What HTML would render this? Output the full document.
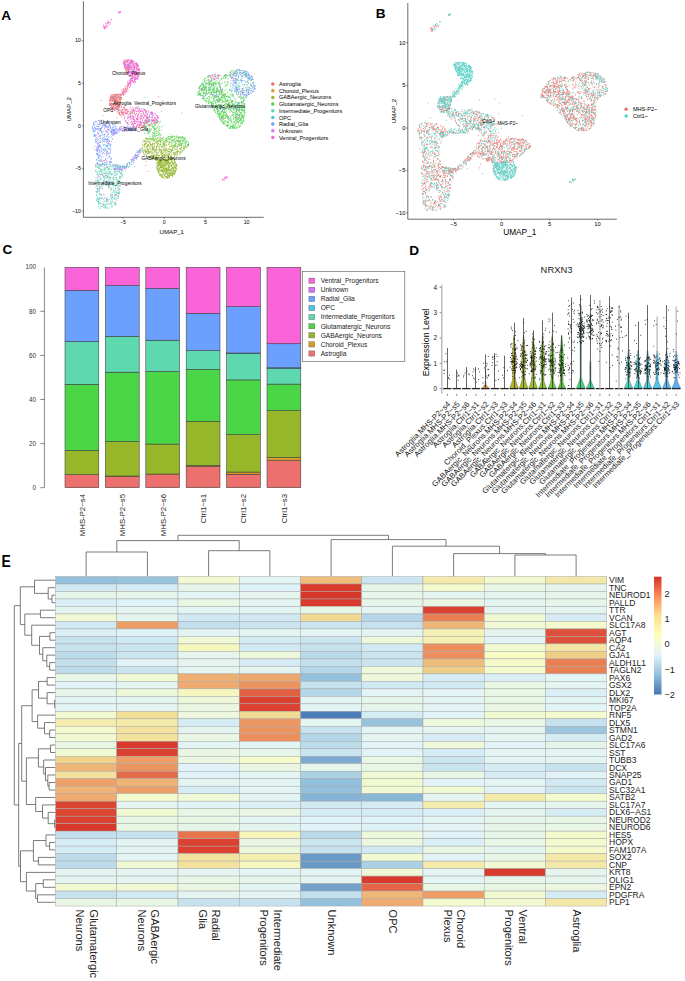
<!DOCTYPE html>
<html><head><meta charset="utf-8"><title>Figure</title>
<style>
html,body{margin:0;padding:0;background:#fff;}
body{width:685px;height:981px;overflow:hidden;position:relative;}
svg{position:absolute;left:0;top:0;display:block;}
text{font-family:"Liberation Sans",sans-serif;}
</style></head><body>
<svg width="685" height="981" viewBox="0 0 685 981">
<text x="1.2" y="20.2" font-family="Liberation Sans, sans-serif" font-weight="bold" font-size="13.6" fill="#000">A</text>
<path d="M83.4 1.2V217.3H263.7" stroke="#3a3a3a" stroke-width="0.75" fill="none"/>
<path d="M81.9 211.0H83.4M81.9 168.4H83.4M81.9 125.7H83.4M81.9 83.1H83.4M81.9 40.5H83.4M123.0 217.3V218.8M164.2 217.3V218.8M205.4 217.3V218.8M246.6 217.3V218.8" stroke="#3a3a3a" stroke-width="0.6"/>
<g font-family="Liberation Sans, sans-serif" font-size="5.3" fill="#000">
<text x="81" y="212.9" text-anchor="end">−10</text>
<text x="81" y="170.3" text-anchor="end">−5</text>
<text x="81" y="127.6" text-anchor="end">0</text>
<text x="81" y="85.0" text-anchor="end">5</text>
<text x="81" y="42.4" text-anchor="end">10</text>
<text x="123.0" y="223.8" text-anchor="middle">−5</text>
<text x="164.2" y="223.8" text-anchor="middle">0</text>
<text x="205.4" y="223.8" text-anchor="middle">5</text>
<text x="246.6" y="223.8" text-anchor="middle">10</text>
</g>
<text x="171.8" y="233.7" font-family="Liberation Sans, sans-serif" font-size="6.1" fill="#000" text-anchor="middle">UMAP_1</text>
<text transform="translate(71.1 109.2) rotate(-90)" font-family="Liberation Sans, sans-serif" font-size="6.1" fill="#000" text-anchor="middle">UMAP_2</text>
<g font-family="Liberation Sans, sans-serif" font-size="5.65" fill="#000">
<circle cx="272.8" cy="84.0" r="1.75" fill="#EC706E"/>
<text x="278.9" y="86.0">Astroglia</text>
<circle cx="272.8" cy="90.7" r="1.75" fill="#D89A28"/>
<text x="278.9" y="92.7">Choroid_Plexus</text>
<circle cx="272.8" cy="97.4" r="1.75" fill="#98B62A"/>
<text x="278.9" y="99.4">GABAergic_Neurons</text>
<circle cx="272.8" cy="104.1" r="1.75" fill="#4CD64C"/>
<text x="278.9" y="106.1">Glutamatergic_Neurons</text>
<circle cx="272.8" cy="110.8" r="1.75" fill="#5ED8AE"/>
<text x="278.9" y="112.8">Intermediate_Progenitors</text>
<circle cx="272.8" cy="117.5" r="1.75" fill="#4EC6E2"/>
<text x="278.9" y="119.5">OPC</text>
<circle cx="272.8" cy="124.1" r="1.75" fill="#6CA0FF"/>
<text x="278.9" y="126.1">Radial_Glia</text>
<circle cx="272.8" cy="130.8" r="1.75" fill="#DA72F8"/>
<text x="278.9" y="132.8">Unknown</text>
<circle cx="272.8" cy="137.5" r="1.75" fill="#F964D9"/>
<text x="278.9" y="139.5">Ventral_Progenitors</text>
</g>
<path d="M227.2 122.7h0M238.1 104.6h0M233.0 72.3h0M242.9 114.8h0M211.1 80.5h0M225.7 112.5h0M221.7 106.5h0M218.7 104.7h0M233.1 96.5h0M222.5 97.4h0M211.1 92.1h0M232.1 105.8h0M233.0 95.9h0M204.2 93.1h0M226.6 125.9h0M233.9 116.4h0M222.3 93.9h0M220.0 115.0h0M245.0 100.1h0M199.9 94.9h0M240.3 125.8h0M149.6 124.9h0M163.2 142.5h0M235.5 102.6h0M160.7 161.4h0M233.8 126.9h0M208.1 77.8h0M149.6 130.0h0M229.7 120.2h0M223.3 92.6h0M232.7 112.3h0M208.9 92.7h0M198.4 93.2h0M219.1 116.7h0M242.4 117.0h0M224.6 118.7h0M181.5 138.3h0M219.3 100.3h0M200.7 93.4h0M157.4 127.4h0M181.4 145.1h0M217.1 91.3h0M151.2 139.2h0M203.7 98.7h0M205.6 88.0h0M230.5 72.9h0M215.2 83.5h0M209.1 92.1h0M237.4 104.3h0M156.1 123.4h0M176.6 140.1h0M159.0 135.9h0M223.8 123.0h0M242.6 73.2h0M186.5 142.4h0M215.3 92.2h0M209.1 75.6h0M225.4 115.7h0M166.8 168.7h0M214.2 101.1h0M203.9 86.4h0M225.1 101.9h0M162.0 139.0h0M218.3 92.1h0M239.6 112.1h0M213.2 84.8h0M218.5 101.7h0M213.4 84.9h0M228.2 117.8h0M157.9 126.8h0M157.0 133.3h0M176.2 143.6h0M212.3 85.5h0M227.6 125.6h0M227.2 91.2h0M221.5 93.9h0M241.7 101.4h0M238.6 102.8h0M225.7 105.1h0M241.7 112.4h0M215.1 83.8h0M224.1 97.6h0M174.5 152.2h0M228.6 100.6h0M233.2 101.5h0M229.7 97.2h0M239.5 105.5h0M229.7 89.9h0M209.0 89.4h0M225.2 86.7h0M216.3 104.8h0M226.3 116.9h0M172.4 137.2h0M226.9 100.3h0M202.3 87.3h0M225.2 74.5h0M226.6 96.6h0M220.0 117.1h0M237.4 109.3h0M209.8 89.8h0M221.9 118.4h0M223.4 78.3h0M232.5 100.4h0M238.8 111.9h0M236.0 117.1h0M233.3 114.5h0M146.6 110.9h0M239.0 107.0h0M219.5 113.3h0M233.9 70.6h0M151.6 139.4h0M225.4 101.5h0M185.2 138.5h0M219.3 91.0h0M234.7 114.8h0M238.0 125.6h0M165.3 139.2h0M234.2 118.0h0M231.4 120.7h0M235.6 117.6h0M221.5 97.5h0M229.5 75.3h0M229.4 108.0h0M253.4 82.3h0M208.5 92.5h0M205.8 94.2h0M225.0 96.2h0M206.2 93.3h0M232.5 115.4h0M157.2 131.5h0M147.6 117.6h0M214.1 110.8h0M235.7 106.4h0M225.2 99.6h0M188.2 145.4h0M170.9 139.1h0M218.0 113.2h0M241.2 109.2h0M243.5 110.1h0M235.2 115.5h0M241.6 107.6h0M206.1 83.8h0M233.8 118.2h0M236.3 121.9h0M180.0 140.5h0M205.8 101.1h0M230.0 109.0h0M210.7 105.4h0M221.0 113.5h0M204.6 80.8h0M234.5 126.0h0M240.1 105.3h0M242.6 116.7h0M237.2 122.4h0M238.1 121.8h0M152.8 126.1h0M218.9 115.7h0M225.7 104.6h0M207.5 93.6h0M144.4 126.4h0M241.6 118.3h0M158.7 140.6h0M224.7 101.3h0M225.1 115.4h0M233.6 118.2h0M233.2 75.0h0M206.6 90.2h0M144.1 124.0h0M241.0 123.4h0M212.1 91.9h0M220.6 84.0h0M169.7 136.4h0M233.4 108.1h0M211.8 103.7h0M221.2 120.4h0M146.9 121.8h0M236.3 92.1h0M227.8 118.9h0M252.3 79.4h0M127.5 123.0h0M216.2 107.6h0M230.6 110.0h0M227.3 122.6h0M241.3 119.2h0M220.8 75.9h0M244.6 92.2h0M216.9 102.7h0M208.4 96.6h0M159.4 130.7h0M165.7 139.7h0M199.8 94.6h0M241.2 110.6h0M176.5 136.0h0M238.5 94.0h0M157.9 121.6h0M182.6 140.7h0M171.2 140.9h0M246.7 97.6h0M235.3 105.9h0M201.7 84.2h0M227.2 115.9h0M219.3 106.4h0M219.4 92.4h0M211.6 93.8h0M238.8 86.1h0M230.4 109.1h0M221.3 116.8h0M210.6 86.7h0M176.2 164.5h0M239.2 126.2h0M158.4 143.6h0M234.1 73.3h0M224.2 94.4h0M173.5 163.5h0M148.3 133.0h0M154.9 121.1h0M156.8 138.9h0M148.9 132.0h0M212.0 81.7h0M243.4 118.4h0M218.4 82.9h0M154.8 126.0h0M240.9 120.0h0M200.6 85.7h0M147.5 120.0h0M149.1 133.7h0M226.6 84.8h0M221.2 93.4h0M169.6 139.3h0M180.9 137.5h0M217.9 116.2h0M217.2 108.9h0M155.0 134.4h0M213.6 85.4h0M227.8 84.8h0M234.1 124.9h0M242.1 106.8h0M202.8 81.9h0M212.5 105.9h0M219.6 115.9h0M227.5 126.1h0M154.4 135.4h0M208.6 101.3h0M234.6 108.8h0M232.8 95.7h0M213.4 88.8h0M224.9 94.9h0M204.6 89.8h0M161.5 169.2h0M178.1 140.2h0M206.6 102.2h0M181.0 140.9h0M223.2 101.6h0M173.2 172.3h0M239.0 115.7h0M221.0 91.9h0M235.6 113.1h0M226.5 101.9h0M242.4 121.1h0M173.8 140.2h0M208.0 90.4h0M154.5 136.6h0M203.2 92.8h0M146.0 120.9h0M186.1 141.9h0M237.8 114.8h0M219.0 91.6h0M243.2 116.6h0M236.6 110.3h0M206.2 101.3h0M221.7 116.2h0M236.5 70.2h0M174.5 161.6h0M231.2 73.5h0M219.5 114.8h0M224.9 109.1h0M156.6 152.1h0M205.5 100.1h0M239.5 120.3h0M236.4 113.3h0M156.8 141.1h0M243.4 120.6h0M229.7 128.0h0M146.1 123.5h0M217.1 87.3h0M152.9 127.1h0M216.8 91.6h0M157.9 161.4h0M166.4 141.9h0M230.6 120.3h0M237.0 108.4h0M143.9 126.3h0M231.1 110.3h0M161.6 130.5h0M143.5 112.3h0M182.7 150.6h0M243.3 110.3h0M231.1 119.1h0M216.6 109.0h0M246.6 90.9h0M223.6 105.7h0M202.2 84.2h0M152.4 132.6h0M220.4 106.1h0M224.6 98.9h0M206.7 92.7h0M236.8 78.5h0M204.1 82.0h0M213.3 110.1h0M213.3 83.6h0M204.4 87.6h0M158.7 141.0h0M168.0 138.4h0M145.9 121.8h0M148.2 131.5h0M200.7 85.9h0M216.7 97.0h0M210.0 89.2h0M217.9 113.0h0M213.2 83.2h0M178.6 144.8h0M204.6 79.0h0M235.8 71.9h0M241.9 102.2h0M211.3 92.2h0M216.8 90.7h0M166.0 139.5h0M152.5 126.7h0M219.3 114.8h0M179.8 138.2h0M211.8 104.1h0M158.7 134.4h0M235.8 78.5h0M214.3 86.8h0M222.4 121.8h0M240.2 113.0h0M153.6 120.9h0M167.2 141.3h0M235.6 119.0h0M223.0 121.6h0M223.3 124.0h0M152.3 145.9h0M209.3 76.0h0M223.6 101.9h0M222.9 120.0h0M210.9 89.3h0M104.9 27.1h0M224.3 124.0h0M144.4 125.8h0M240.9 98.1h0M164.6 175.5h0M155.2 124.9h0M227.5 106.7h0M218.5 113.9h0M226.0 74.8h0M242.6 116.7h0M219.4 100.2h0M224.8 105.7h0M229.9 100.4h0M153.9 127.9h0M180.4 145.7h0M180.9 152.2h0M236.0 124.4h0M230.8 118.0h0M223.1 97.8h0M172.6 136.2h0M209.5 81.2h0M217.9 100.0h0M219.1 101.8h0M243.5 88.3h0M155.1 124.3h0M231.0 76.7h0M178.1 146.3h0M236.3 118.2h0M211.3 97.7h0M225.3 108.1h0M181.1 145.5h0M163.7 163.6h0M215.0 81.8h0M237.3 69.7h0M148.8 152.5h0M151.0 130.0h0M239.1 117.3h0M219.6 85.1h0M214.3 97.7h0M204.2 79.4h0M218.9 94.5h0M182.0 136.6h0M103.0 115.6h0M187.8 146.6h0M249.5 87.8h0M187.9 141.5h0M211.8 79.8h0M172.5 147.8h0M230.3 90.6h0M239.5 115.8h0M146.8 126.8h0M181.0 144.3h0M219.4 115.4h0M224.8 121.1h0M181.2 144.9h0M215.9 95.8h0M228.3 116.2h0M219.7 82.4h0M159.5 126.8h0M225.0 107.7h0M230.9 118.8h0M243.1 118.1h0M244.0 71.9h0M171.4 140.8h0M227.5 117.1h0M205.4 87.9h0M179.4 144.0h0M216.6 106.5h0M178.1 137.4h0M232.6 127.4h0M223.7 122.1h0M224.3 112.1h0M220.3 105.2h0M130.3 116.4h0M219.6 106.8h0M173.6 145.8h0M216.9 100.4h0M225.1 109.5h0M224.5 104.7h0M206.5 90.1h0M233.9 127.7h0M217.0 108.4h0M203.5 87.3h0M207.9 97.8h0M228.4 119.4h0M153.1 135.3h0M198.8 94.6h0M170.9 151.9h0M220.1 112.2h0M156.4 121.9h0M223.1 119.3h0M231.8 111.0h0M210.7 82.5h0M231.1 91.5h0M227.8 124.8h0M214.7 79.3h0M202.9 96.7h0M214.3 76.5h0M230.0 128.1h0M178.1 137.8h0M208.1 86.0h0M207.1 100.5h0M175.0 146.8h0M227.6 81.4h0M234.1 121.7h0M203.3 84.7h0M221.1 90.8h0M218.8 98.6h0M199.5 93.5h0M164.3 165.9h0M235.3 109.1h0M221.5 111.8h0M182.7 141.9h0M238.5 102.4h0M201.1 86.2h0M203.2 92.6h0M217.7 100.2h0M153.2 133.5h0M202.1 85.1h0M154.9 125.2h0M235.0 103.9h0M185.2 147.5h0M199.4 91.6h0M239.5 117.1h0M225.9 100.0h0M230.4 126.1h0M222.4 109.1h0M237.2 103.2h0M227.5 99.1h0M229.1 72.3h0M147.6 118.4h0M175.0 164.5h0M164.8 143.9h0M248.2 80.2h0M217.8 82.0h0M236.4 116.4h0M229.4 118.7h0M175.9 139.2h0M232.9 94.4h0M160.5 140.4h0M209.1 81.5h0M220.7 113.3h0M159.8 133.4h0M225.5 75.8h0M223.8 117.9h0M216.1 80.6h0M237.3 117.6h0M242.0 114.9h0M234.6 122.1h0M235.8 108.6h0M216.4 88.4h0M203.2 86.8h0M169.5 158.3h0M232.4 104.6h0M228.5 103.5h0M199.3 93.4h0M210.3 102.3h0M217.6 90.3h0M219.4 105.0h0M181.3 145.5h0M153.2 138.9h0M175.5 143.6h0M241.2 115.9h0M144.8 128.7h0M220.9 92.5h0M185.2 144.8h0M228.8 105.0h0M204.9 90.4h0M221.2 79.5h0M228.7 121.1h0M208.9 81.0h0M158.4 131.7h0M241.3 120.9h0M208.7 103.2h0M147.2 123.3h0M240.3 123.0h0M233.0 105.0h0M228.6 103.3h0M228.7 109.4h0M145.9 122.5h0M153.1 126.1h0M219.6 113.5h0M218.9 84.2h0M228.8 108.7h0M222.1 111.4h0M231.8 111.4h0M235.7 116.8h0M214.3 98.6h0M241.7 109.8h0M218.8 101.1h0M221.1 107.9h0M220.6 119.3h0M212.5 89.5h0M225.6 85.6h0M220.8 105.7h0M218.4 97.0h0M237.4 94.5h0M210.4 89.1h0M167.4 173.6h0M222.7 94.4h0M213.3 99.3h0M222.9 107.6h0M222.9 77.0h0M224.1 115.6h0M156.6 135.5h0M199.9 86.3h0M152.1 140.4h0M226.2 83.0h0M242.0 101.6h0M155.7 138.1h0M155.3 122.6h0M214.9 74.6h0M226.8 115.7h0M238.1 106.9h0M221.4 96.9h0M153.2 137.1h0M180.7 148.4h0M232.6 101.2h0M171.0 149.7h0M213.6 103.1h0M183.3 141.3h0M204.3 89.5h0M214.3 109.8h0M238.6 103.0h0M223.7 112.1h0M233.6 126.9h0M242.6 107.2h0M221.1 117.5h0M236.9 127.4h0M234.0 127.5h0M227.3 125.8h0M216.7 88.4h0M225.7 103.4h0M221.3 116.3h0M234.0 71.2h0M214.8 87.9h0M151.2 123.0h0M224.9 109.1h0M217.0 109.0h0M225.7 98.3h0M182.2 137.0h0M157.9 135.7h0M242.3 109.8h0M216.6 92.3h0M152.0 117.0h0M213.1 92.1h0M153.5 138.2h0M198.6 94.7h0M208.5 79.7h0M217.5 108.9h0M164.7 143.3h0M217.7 111.0h0M145.5 127.1h0M204.1 90.6h0M144.6 124.4h0M212.7 95.1h0M220.1 105.8h0M220.5 87.7h0M178.4 141.3h0M240.3 120.8h0M167.5 141.7h0M229.9 106.3h0M188.6 144.0h0M205.7 86.8h0M149.6 115.5h0M226.4 106.4h0M227.7 75.6h0M225.9 117.0h0M204.9 80.5h0M238.9 118.6h0M225.8 77.4h0M214.9 109.5h0M223.1 107.8h0M145.1 125.7h0M239.1 108.0h0M155.7 122.5h0M218.3 90.1h0M236.3 82.8h0M142.9 114.7h0M233.6 124.5h0M217.7 106.5h0M149.3 124.8h0M176.4 137.1h0M231.8 91.1h0M224.8 75.3h0M145.7 138.5h0M183.4 138.2h0M147.1 131.3h0M234.0 127.4h0M238.8 75.2h0M219.4 114.1h0M237.7 104.6h0M222.5 117.4h0M222.1 83.4h0M202.9 84.4h0M198.6 95.0h0M205.3 81.7h0M234.6 128.3h0M240.2 72.8h0M220.7 89.4h0M225.6 78.5h0M208.8 103.6h0M220.5 87.1h0M155.9 131.3h0M161.3 126.9h0M240.4 118.3h0M229.3 103.3h0M145.0 122.9h0M167.6 137.7h0M165.1 146.0h0M229.0 105.0h0M181.2 143.0h0M148.8 120.5h0M243.1 115.5h0M237.7 113.6h0M241.5 102.2h0M206.2 89.2h0M215.7 74.1h0M214.8 91.9h0M231.2 95.8h0M213.0 92.5h0M239.2 120.7h0M243.5 97.6h0M215.7 84.7h0M202.5 98.0h0M180.5 141.6h0M216.1 86.1h0M230.4 102.7h0M244.1 97.8h0M198.0 95.4h0M225.9 115.2h0M220.0 98.3h0M177.9 140.4h0M244.0 111.7h0M212.0 75.4h0M177.3 140.2h0M212.7 104.1h0M146.4 137.6h0M200.7 95.1h0M245.9 96.6h0M144.4 123.2h0M239.7 108.3h0M214.4 92.6h0M230.1 110.7h0M232.5 128.5h0M224.4 107.0h0M225.6 78.0h0M242.9 97.9h0M183.9 139.7h0M239.7 109.0h0M221.8 78.5h0M210.2 100.9h0M162.0 138.2h0M223.7 95.1h0M174.5 136.6h0M155.4 129.1h0M245.0 76.6h0M241.3 98.1h0M222.6 101.8h0M225.3 78.2h0M158.0 152.7h0M200.1 94.4h0M216.8 113.8h0M228.0 97.0h0M237.4 107.4h0M199.4 90.2h0M219.8 119.0h0M201.7 95.2h0M222.8 111.8h0M217.3 88.6h0M233.2 125.7h0M241.4 107.1h0M222.0 102.8h0M177.5 145.6h0M177.5 137.3h0M202.8 84.1h0M143.9 123.1h0M163.2 137.2h0M164.8 166.6h0M206.6 87.7h0M230.2 75.8h0M203.4 88.6h0M232.2 105.0h0M211.4 84.4h0M239.5 114.5h0M215.8 95.7h0M169.6 143.3h0M148.2 125.5h0M145.4 127.5h0M168.6 151.6h0M219.5 117.2h0M213.6 106.7h0M220.5 99.6h0M244.8 114.3h0M224.9 112.5h0M241.9 104.1h0M230.7 128.4h0M222.0 89.0h0M180.7 139.0h0M212.9 90.7h0M216.8 91.0h0M249.5 78.5h0M155.3 133.4h0M233.7 119.0h0M225.0 95.7h0M211.5 83.9h0M148.3 132.9h0M221.9 107.2h0M169.1 151.7h0M237.8 115.4h0M145.8 127.3h0M151.3 120.0h0M239.3 111.2h0M243.5 74.2h0M222.9 108.3h0M225.8 125.3h0M180.1 137.1h0M226.4 107.5h0M243.1 103.1h0M154.3 128.0h0M215.5 112.5h0M239.2 127.5h0M223.3 116.6h0M156.5 147.6h0M163.7 145.7h0M149.8 136.3h0M211.8 84.3h0M222.4 98.1h0M225.5 120.8h0M224.5 112.3h0M211.9 79.5h0M241.8 120.4h0M203.6 86.9h0M238.2 104.3h0M246.2 76.9h0M234.9 104.4h0M239.9 106.9h0M199.1 87.9h0M209.4 98.0h0M244.5 71.9h0M214.5 84.0h0M206.1 98.3h0M222.1 115.7h0M185.2 142.3h0M224.2 96.5h0M238.3 117.5h0M229.7 106.6h0M236.3 106.9h0M214.3 108.4h0M218.0 101.9h0M218.2 97.3h0M236.4 113.0h0M240.7 125.6h0M168.2 137.6h0M134.8 123.1h0M145.8 120.7h0M244.9 106.5h0M224.9 111.4h0M147.1 128.4h0M164.3 155.1h0M231.8 102.3h0M225.8 94.7h0M185.9 146.9h0M222.9 94.8h0M155.0 129.5h0M241.7 102.3h0M207.4 76.5h0M223.6 115.7h0M242.5 123.6h0M219.7 85.9h0M221.1 112.2h0M187.4 145.7h0M243.7 99.5h0M209.8 84.3h0M239.6 109.9h0M208.3 101.9h0M230.3 126.9h0M212.8 84.9h0M183.1 137.9h0M227.0 85.7h0M240.1 118.6h0M235.2 123.3h0M225.9 106.5h0M222.0 118.0h0M210.8 90.2h0M228.6 82.4h0M156.8 130.6h0M152.9 134.4h0M168.1 153.4h0M161.1 138.5h0M208.8 79.8h0M235.9 116.5h0M237.7 114.0h0M199.9 86.6h0M224.5 94.0h0M223.8 76.3h0M219.5 91.5h0M226.3 96.5h0M223.0 90.5h0M227.9 122.8h0M160.5 142.1h0M229.1 102.7h0M215.5 105.6h0M232.7 103.4h0M235.4 98.9h0M178.1 137.7h0M232.3 125.1h0M203.6 85.2h0M151.2 157.1h0M179.6 145.6h0M246.6 91.6h0M242.6 105.3h0M219.5 86.2h0M236.9 110.5h0M109.4 181.9h0M228.4 125.2h0M230.9 77.6h0M206.0 94.8h0M227.9 125.5h0M226.7 77.2h0M179.1 144.5h0M227.4 117.7h0M167.9 161.0h0M232.8 108.4h0M226.8 104.2h0M243.4 120.9h0M209.2 83.1h0M241.4 115.9h0M209.2 99.5h0M210.5 94.4h0M230.1 74.5h0M168.9 175.8h0M214.2 82.8h0M217.9 99.9h0M175.5 141.5h0M167.8 139.9h0M204.7 87.1h0M207.1 80.3h0M236.7 114.6h0M251.9 88.7h0M243.3 71.2h0M149.0 131.6h0M218.9 75.5h0M185.6 145.3h0M221.8 89.8h0M228.5 127.9h0M213.2 82.4h0M226.4 110.9h0M179.8 154.2h0M237.0 127.2h0M211.1 79.2h0M172.7 136.6h0M222.1 121.6h0M198.1 92.0h0M235.9 75.7h0M205.1 85.7h0M246.2 71.3h0M235.9 128.3h0M202.1 89.0h0M220.9 119.9h0M235.1 111.8h0M213.6 96.8h0M223.2 95.5h0M227.9 79.2h0M240.7 119.4h0M182.4 137.4h0M203.8 82.8h0M232.1 105.8h0M218.7 97.2h0M214.7 89.9h0M204.4 89.2h0M153.5 138.4h0M174.3 139.1h0M162.2 160.4h0M227.3 96.1h0M240.9 113.5h0M175.4 145.1h0M217.8 89.9h0M150.8 138.2h0M183.0 137.1h0M237.2 107.6h0M216.9 89.8h0M241.9 110.0h0M203.3 98.5h0M234.5 73.7h0M210.3 83.1h0M232.5 94.4h0M154.8 128.6h0M230.1 95.0h0M236.0 78.7h0M160.7 135.1h0M238.6 92.6h0M175.2 137.9h0M146.7 151.3h0M238.7 124.1h0M185.3 143.5h0M211.5 93.0h0M236.4 102.1h0M205.7 87.3h0M236.9 109.1h0M149.5 139.1h0M236.6 111.5h0M235.7 86.4h0M179.0 142.4h0M209.3 102.7h0M175.0 142.4h0M232.2 87.6h0M161.4 163.1h0M174.8 149.2h0M166.0 169.8h0M221.8 92.0h0M208.9 87.9h0M188.5 144.8h0M220.3 108.0h0M161.7 151.1h0M217.4 100.2h0M227.2 121.8h0M216.0 100.2h0M237.3 80.4h0M223.4 112.5h0M154.0 143.5h0M236.5 86.9h0M216.0 107.1h0M202.1 89.6h0M217.0 110.2h0M233.9 83.1h0M151.3 158.4h0M216.8 96.6h0M210.4 94.3h0M242.2 116.9h0M204.1 92.7h0M171.0 142.5h0M241.3 109.9h0M148.9 141.1h0M219.0 94.1h0M238.5 119.5h0M221.4 91.2h0M213.6 80.1h0M228.5 117.7h0M210.0 101.8h0M222.9 94.9h0M162.9 171.4h0M235.0 101.2h0M203.6 99.0h0M227.4 116.1h0M188.8 144.6h0M228.8 107.7h0M154.2 132.5h0M222.1 121.9h0M228.4 122.1h0M226.1 114.6h0M252.3 86.6h0M224.6 121.9h0M231.1 93.9h0M208.9 84.2h0M251.6 86.0h0M155.3 122.0h0M237.1 105.3h0M144.8 109.5h0M213.4 83.0h0M231.2 108.3h0M206.1 91.1h0M222.7 111.9h0M222.9 101.0h0M153.8 129.1h0M246.9 72.1h0M236.6 110.8h0M225.4 99.8h0M150.2 131.1h0M234.2 106.0h0M171.7 136.6h0M208.8 93.9h0M245.0 74.3h0M239.9 97.5h0M180.0 136.8h0M226.5 114.5h0M201.2 90.2h0M230.0 123.1h0M143.8 126.5h0M160.6 144.7h0M221.9 95.8h0M232.9 104.0h0M237.2 128.0h0M238.0 110.0h0M229.8 90.0h0M235.2 128.2h0M242.4 84.7h0M173.0 167.9h0M152.7 123.8h0M244.4 111.0h0M197.6 92.2h0M228.3 96.7h0M237.2 109.1h0M160.6 141.6h0M216.6 93.8h0M211.9 102.1h0M233.1 104.2h0M174.9 136.3h0M209.9 84.2h0M148.2 138.7h0M248.2 78.5h0M203.1 90.7h0M242.5 107.1h0M234.9 80.0h0M212.4 105.2h0M242.4 76.2h0M242.8 89.7h0M220.8 99.7h0M227.0 116.8h0M222.0 99.9h0M213.5 94.2h0M239.9 102.7h0M244.9 103.9h0M209.7 85.2h0M130.5 113.0h0M208.9 87.8h0M239.1 103.2h0M227.9 121.4h0M246.2 95.5h0M232.0 122.9h0M243.2 101.7h0M223.6 115.8h0M234.8 112.9h0M187.4 144.5h0M245.1 98.1h0M233.9 112.1h0M228.7 97.4h0M217.2 107.8h0M219.0 105.7h0M244.7 74.4h0M163.8 139.6h0M154.6 130.8h0M216.8 94.4h0M248.5 92.7h0M227.8 83.0h0M159.0 128.4h0M215.9 100.7h0M153.1 139.2h0M239.0 121.8h0M220.9 98.4h0M228.7 125.1h0M226.9 125.3h0M156.4 128.5h0M220.2 99.9h0M154.6 133.0h0M217.9 107.5h0M173.6 136.0h0M226.5 107.1h0M233.8 109.2h0M204.2 98.3h0M224.9 123.6h0M251.0 79.6h0M203.9 90.6h0M149.8 131.5h0M244.8 107.0h0M146.5 127.7h0M211.1 84.4h0M218.8 104.5h0M217.3 78.0h0M199.2 87.8h0M233.0 113.0h0M208.7 89.3h0M199.3 91.6h0M236.3 110.4h0M226.0 113.6h0M230.0 74.7h0M199.5 88.0h0M179.3 148.8h0M184.3 139.0h0M143.4 125.6h0M244.5 116.1h0M156.5 139.8h0M166.3 138.7h0M203.9 93.4h0M226.3 113.6h0M167.6 162.4h0M213.6 100.6h0M224.8 75.8h0M222.5 117.7h0M236.5 119.2h0M243.3 101.5h0M146.7 142.9h0M227.4 101.4h0M244.7 110.7h0M223.5 95.6h0M243.6 115.6h0M154.2 133.0h0M242.4 117.2h0M221.0 94.8h0M219.0 98.4h0M185.2 138.1h0M212.3 84.0h0M223.1 123.4h0M167.8 160.0h0M213.4 89.8h0M219.4 80.8h0M224.2 95.6h0M240.9 96.3h0M168.2 177.3h0M154.2 140.2h0M240.5 118.5h0M250.4 84.0h0M220.1 90.1h0M227.7 100.5h0M149.1 124.9h0M223.4 114.0h0M174.4 145.0h0M222.6 116.5h0M240.7 115.1h0M216.9 90.3h0M231.6 101.4h0M178.7 138.1h0M203.9 95.4h0M216.0 82.5h0M211.4 102.8h0M245.4 75.5h0M221.9 117.1h0M244.6 103.8h0M241.9 114.1h0M222.9 116.0h0M212.5 102.2h0M208.5 99.9h0M225.2 107.1h0M224.1 118.2h0M148.6 121.5h0M231.3 100.1h0M181.9 140.4h0M208.6 76.7h0M216.1 92.0h0M151.5 122.6h0M184.6 141.9h0M234.4 91.7h0M149.5 128.5h0M238.4 115.6h0M233.7 122.2h0M160.9 149.8h0M207.1 98.7h0M212.2 88.0h0M183.6 146.2h0M239.7 126.4h0M232.0 126.1h0M239.2 91.7h0M215.0 107.8h0M234.0 122.3h0M225.5 118.1h0M220.2 118.9h0M217.5 111.4h0M247.3 87.0h0M170.7 137.8h0M229.4 112.1h0M228.2 105.6h0M214.2 91.6h0M235.8 126.3h0M229.9 97.7h0M244.4 113.0h0M130.4 114.5h0M172.7 139.8h0M215.4 111.8h0M241.6 105.4h0M225.9 89.6h0M235.5 73.0h0M160.4 121.3h0M159.9 145.0h0M207.7 83.5h0M238.0 118.6h0M241.1 102.6h0M206.4 82.9h0M215.5 97.1h0M224.0 97.4h0M252.2 77.0h0M211.5 86.2h0M230.6 125.9h0M245.1 112.4h0M187.1 141.7h0M218.7 111.1h0M204.8 100.3h0M172.8 174.3h0M244.0 108.0h0M222.1 111.1h0M237.9 85.2h0M241.5 97.2h0M202.2 91.9h0M149.7 119.7h0M244.0 121.4h0M183.1 140.4h0M171.5 146.4h0M235.5 120.1h0M158.4 121.4h0M169.3 170.1h0M165.3 168.3h0M218.1 114.4h0M161.1 134.8h0M173.7 153.0h0M174.3 136.5h0M144.9 126.3h0M245.3 108.5h0M238.7 121.8h0M205.8 78.6h0M146.8 124.8h0M230.4 116.7h0M217.5 77.7h0M168.5 136.5h0M185.7 140.4h0M218.3 100.1h0M218.6 102.0h0M226.6 75.7h0M237.0 108.1h0M155.0 139.6h0M232.2 70.9h0M174.7 140.8h0M241.2 122.5h0M173.8 146.6h0M175.5 144.6h0M242.4 108.5h0M235.7 123.8h0M204.0 90.1h0M216.3 97.2h0M215.0 90.2h0M212.2 108.1h0M219.7 93.4h0M215.3 97.5h0M236.2 123.0h0M169.5 142.0h0M219.6 99.9h0M202.1 90.1h0M185.0 143.9h0M145.5 129.3h0M240.6 94.2h0M244.3 104.7h0M171.6 137.6h0M207.0 83.5h0M244.3 109.8h0M168.7 138.9h0M240.8 98.8h0M225.3 121.4h0M188.0 145.2h0M212.5 90.4h0M153.7 149.7h0M208.8 75.4h0M244.1 107.1h0M171.4 156.5h0M223.3 123.7h0M235.4 120.5h0M227.4 101.4h0M188.6 143.2h0M243.6 100.4h0M179.2 137.1h0M223.2 107.4h0M229.5 75.1h0M219.8 99.9h0M214.8 101.3h0M216.4 83.9h0M237.9 105.1h0M210.7 92.8h0M217.0 105.7h0M204.4 93.9h0M218.4 96.9h0M239.7 110.2h0M218.4 109.2h0M209.5 83.1h0M151.9 120.8h0M144.4 122.9h0M214.2 95.5h0M214.3 96.7h0M157.3 163.8h0M221.4 97.3h0M174.3 145.0h0M211.6 104.6h0M174.7 142.1h0M209.0 83.3h0M219.5 118.5h0M233.6 109.3h0M231.7 122.0h0M245.6 82.2h0M146.3 127.0h0M220.7 114.5h0M226.6 96.5h0M222.4 91.3h0M144.2 125.4h0M151.7 153.7h0M158.5 125.0h0M211.7 103.0h0M218.0 82.9h0M229.4 89.7h0M201.0 90.2h0M221.1 99.7h0M219.9 87.3h0M230.8 72.1h0M156.4 123.0h0M221.3 78.7h0M233.0 95.8h0M104.6 27.2h0M222.2 96.5h0M206.9 98.4h0M205.6 78.2h0M238.2 122.7h0M242.7 122.4h0M153.0 126.9h0M215.7 103.4h0M184.4 138.4h0M219.5 101.3h0M210.0 89.7h0M213.5 89.1h0M181.8 144.0h0M172.3 139.8h0M228.9 96.8h0M159.4 122.6h0M163.2 141.5h0M178.8 141.7h0M217.2 88.1h0M171.2 141.2h0M217.1 100.5h0M202.6 95.4h0M211.4 85.8h0M227.2 103.8h0M206.4 83.0h0M241.6 107.9h0M239.1 89.6h0M154.6 135.6h0M148.9 120.1h0M221.5 117.4h0M174.1 139.1h0M143.4 122.5h0M241.3 113.3h0M168.3 158.6h0M232.6 114.9h0M213.2 98.5h0M200.1 89.2h0M238.0 97.3h0M230.0 105.2h0M216.8 99.2h0M229.3 106.5h0M220.3 106.2h0M230.5 106.4h0M235.9 120.2h0M220.4 87.1h0M215.8 77.5h0M221.0 103.1h0M243.2 90.8h0M146.0 121.4h0M165.0 172.2h0M144.0 149.3h0M230.0 128.3h0M242.9 103.1h0M184.0 149.1h0M224.9 90.8h0M231.9 107.9h0M207.5 76.8h0M234.4 128.5h0M206.7 85.8h0M157.2 121.2h0M220.9 109.6h0M214.0 89.2h0M206.5 90.4h0M243.4 117.3h0M203.8 98.7h0M204.1 96.7h0M230.9 121.7h0M206.2 87.7h0M143.2 125.2h0M203.2 93.8h0M237.4 119.5h0M188.5 144.0h0M239.7 96.3h0M159.2 149.5h0M178.7 140.2h0M242.0 105.2h0M227.5 92.8h0M213.7 90.8h0M205.2 84.0h0M210.6 80.9h0M201.1 88.7h0M149.8 130.4h0M218.4 76.1h0M238.6 110.9h0M231.2 70.7h0M213.7 86.8h0M225.2 112.5h0M153.2 158.6h0M209.8 96.3h0M240.6 112.7h0M234.5 98.7h0M186.1 139.9h0M219.7 101.6h0M214.7 107.9h0M223.5 113.5h0M201.4 90.8h0M183.3 143.9h0M222.3 109.0h0M231.8 103.0h0M147.9 133.6h0M173.2 141.8h0M226.1 96.4h0M228.9 109.1h0M152.5 136.9h0M221.9 100.2h0M170.9 138.9h0M226.7 100.8h0M231.8 101.0h0M251.3 80.3h0M161.0 167.6h0M225.3 93.6h0M154.4 139.6h0M137.1 118.2h0M154.7 129.2h0M218.5 110.6h0M148.7 120.7h0M215.9 93.3h0M171.7 136.3h0M217.7 107.8h0M231.1 126.9h0M231.3 106.5h0M138.7 125.1h0M203.3 98.7h0M241.2 106.5h0M159.8 137.9h0M166.5 167.9h0M210.3 89.8h0M175.9 141.4h0M243.3 119.0h0M202.6 98.3h0M165.1 141.0h0M228.3 104.4h0M201.4 83.8h0M239.5 114.5h0M214.7 110.6h0M221.6 92.2h0M237.5 106.3h0M179.0 142.9h0M206.2 91.5h0M232.7 101.5h0M211.8 103.2h0M254.7 86.3h0M243.7 112.1h0M159.2 134.3h0M176.4 164.9h0M208.3 82.5h0M215.3 83.8h0M152.3 136.1h0M235.2 107.2h0M237.0 121.5h0M212.3 102.4h0M241.4 123.8h0M221.9 89.5h0M242.8 110.9h0M212.0 97.0h0M205.3 88.8h0M233.8 112.6h0M200.3 94.2h0M232.6 126.1h0M151.9 124.8h0M149.8 126.7h0M246.2 75.7h0M201.8 89.6h0M209.6 91.2h0M236.5 110.1h0M208.7 87.4h0M249.8 90.1h0M224.4 110.8h0M215.9 75.6h0M220.8 104.7h0M154.9 132.0h0M245.0 113.1h0M216.5 91.7h0M210.2 87.4h0M251.6 75.9h0M232.9 126.9h0M220.4 108.8h0M198.0 93.9h0M181.5 143.7h0M241.6 117.1h0M228.0 107.1h0M225.4 108.2h0M214.1 96.4h0M219.9 94.7h0M239.6 73.4h0M212.8 95.5h0M224.6 76.4h0M240.2 109.6h0M213.7 103.8h0M225.1 81.7h0M110.5 22.7h0M222.2 114.8h0M217.6 112.5h0M157.9 138.7h0M215.6 106.7h0M204.9 88.0h0M158.9 133.0h0" stroke="#4CD64C" stroke-width="1.00" stroke-linecap="round" fill="none"/>
<path d="M120.3 12.3h0M136.5 78.7h0M120.5 11.5h0M215.6 76.3h0M136.2 111.4h0M129.3 116.5h0M163.8 148.9h0M119.1 13.0h0M133.9 63.4h0M138.9 113.5h0M98.5 134.5h0M151.9 112.3h0M127.5 62.5h0M127.2 67.7h0M219.6 83.7h0M132.7 130.0h0M127.1 65.8h0M131.8 76.5h0M137.8 66.3h0M134.6 68.9h0M137.5 78.3h0M137.4 118.4h0M104.7 26.9h0M149.9 116.9h0M226.9 176.5h0M133.6 81.9h0M157.8 116.4h0M130.5 63.4h0M129.2 80.8h0M124.9 60.0h0M148.7 120.3h0M136.6 74.3h0M134.6 126.8h0M131.7 121.7h0M138.7 111.7h0M224.5 107.5h0M131.0 61.3h0M155.9 115.3h0M103.6 204.4h0M121.8 94.7h0M132.7 80.8h0M106.8 24.1h0M134.5 72.6h0M138.6 153.9h0M130.0 67.2h0M107.6 22.5h0M152.3 119.0h0M153.7 120.2h0M131.9 117.8h0M136.5 126.2h0M133.2 161.0h0M133.2 81.7h0M119.3 131.1h0M129.3 66.4h0M223.2 179.3h0M133.9 72.6h0M97.4 153.4h0M146.6 130.4h0M152.7 121.4h0M131.2 78.9h0M133.5 125.5h0M148.1 111.1h0M149.1 124.5h0M139.9 121.9h0M155.2 118.8h0M131.7 71.0h0M138.4 72.8h0M233.5 73.5h0M111.5 141.5h0M133.5 70.1h0M135.7 77.0h0M245.8 76.0h0M137.7 76.5h0M120.9 94.8h0M151.7 119.3h0M130.6 79.5h0M144.5 123.3h0M202.5 89.1h0M152.2 117.3h0M126.3 64.5h0M105.0 27.5h0M135.4 79.5h0M156.8 122.2h0M142.6 111.8h0M136.5 73.4h0M133.8 119.6h0M114.2 96.4h0M138.3 110.4h0M142.0 117.8h0M157.8 117.8h0M129.5 73.2h0M116.1 101.8h0M127.7 59.6h0M127.0 65.2h0M124.0 93.0h0M115.4 101.6h0M137.3 76.9h0M137.7 64.3h0M225.0 176.8h0M104.4 160.4h0M131.9 72.7h0M141.3 124.3h0M135.5 75.5h0M145.9 116.6h0M148.8 112.4h0M200.2 93.1h0M135.1 82.3h0M154.1 121.1h0M134.0 65.5h0M126.8 69.6h0M127.6 60.0h0M104.5 28.9h0M108.2 23.9h0M149.5 117.3h0M130.3 75.7h0M130.0 83.8h0M105.2 25.9h0M155.0 122.6h0M136.5 69.3h0M107.6 151.4h0M129.3 82.0h0M149.5 121.6h0M127.3 73.3h0M210.3 75.5h0M149.1 125.7h0M139.3 127.0h0M210.1 76.7h0M141.5 116.2h0M137.3 121.1h0M157.1 118.2h0M213.4 78.5h0M124.8 62.5h0M140.2 120.8h0M128.3 66.3h0M135.1 79.1h0M133.8 124.3h0M132.7 69.4h0M111.9 95.8h0M127.9 87.5h0M129.0 68.7h0M103.7 25.8h0M147.3 116.8h0M126.1 89.1h0M110.6 196.1h0M136.8 72.9h0M123.6 113.6h0M139.3 70.7h0M143.9 123.1h0M140.6 152.6h0M124.2 64.7h0M160.3 137.3h0M109.5 129.7h0M143.6 123.2h0M131.9 123.8h0M130.8 72.3h0M129.4 75.8h0M128.4 69.4h0M141.1 109.0h0M131.0 78.8h0M134.8 121.1h0M124.6 91.6h0M131.5 121.2h0M135.9 64.8h0M152.7 119.8h0M135.9 108.6h0M135.6 71.6h0M111.3 96.9h0M135.8 77.6h0M129.6 71.3h0M132.3 65.9h0M105.1 28.5h0M236.8 117.6h0M116.0 102.8h0M127.6 87.3h0M130.3 111.8h0M132.0 80.6h0M128.6 70.2h0M137.1 64.3h0M128.4 59.8h0M145.8 112.6h0M131.8 60.2h0M128.9 64.4h0M133.3 113.6h0M124.0 89.9h0M133.1 78.5h0M218.3 78.4h0M107.6 176.1h0M136.4 71.7h0M151.7 114.2h0M137.0 121.6h0M133.4 76.9h0M128.8 124.5h0M146.5 111.4h0M181.6 146.9h0M206.1 94.1h0M134.9 123.2h0M105.7 23.2h0M140.6 121.9h0M140.2 110.4h0M143.4 118.0h0M147.7 122.0h0M130.6 66.7h0M212.4 77.3h0M137.1 73.5h0M213.8 92.7h0M127.1 86.0h0M137.4 108.4h0M128.5 60.3h0M156.3 119.6h0M139.6 126.0h0M135.4 81.3h0M142.9 108.9h0M130.6 82.8h0M136.5 67.5h0M136.9 64.9h0M132.7 74.5h0M132.1 117.9h0M154.6 117.6h0M150.3 152.1h0M134.2 68.9h0M121.5 111.8h0M132.8 64.1h0M127.2 62.3h0M224.4 75.7h0M125.5 128.5h0M134.0 77.0h0M127.6 64.3h0M125.0 109.8h0M158.0 118.2h0M130.9 65.6h0M220.9 120.7h0M136.7 64.3h0M152.6 147.6h0M115.3 165.2h0M136.1 73.4h0M107.9 25.5h0M217.4 75.7h0M136.7 65.4h0M107.1 26.4h0M134.3 119.4h0M134.2 119.6h0M126.9 72.7h0M167.6 163.3h0M139.6 71.2h0M138.8 74.6h0M134.4 75.2h0M134.9 83.0h0M131.7 75.9h0M127.2 65.7h0M138.6 114.4h0M131.7 72.8h0M137.6 78.2h0M136.4 122.0h0M148.0 118.8h0M151.7 122.9h0M213.7 75.9h0M137.3 73.0h0M142.5 120.0h0M128.7 83.4h0M125.2 61.4h0M214.5 78.7h0M132.5 81.6h0M147.6 123.0h0M125.3 66.6h0M136.9 69.5h0M141.0 123.2h0M130.6 75.3h0M133.1 121.2h0M137.1 66.4h0M137.1 114.4h0M137.4 72.9h0M135.1 81.6h0M225.7 178.9h0M149.9 120.6h0M106.5 181.2h0M133.9 122.9h0M126.2 66.0h0M129.9 118.8h0M136.6 69.2h0M124.3 63.2h0M130.8 81.1h0M122.5 113.0h0M134.1 67.6h0M139.6 125.6h0M136.5 65.3h0M126.3 70.4h0M146.4 118.4h0M128.0 84.1h0M133.8 75.1h0M104.5 164.3h0M131.3 67.9h0M144.2 127.0h0M126.1 86.1h0M129.0 83.8h0M131.8 72.8h0M133.1 63.3h0M128.3 111.6h0M134.0 122.8h0M236.0 79.7h0M136.5 118.5h0M137.6 76.5h0M116.1 194.2h0M109.4 177.4h0M220.7 88.4h0M126.5 109.7h0M127.5 164.2h0M136.3 63.2h0M132.6 76.8h0M124.2 62.5h0M146.5 122.2h0M151.4 112.1h0M124.1 61.9h0M137.8 117.0h0M239.9 117.8h0M154.6 120.2h0M144.3 110.6h0M135.2 130.9h0M213.9 79.3h0M103.7 176.5h0M250.9 90.5h0M119.6 98.4h0M126.1 89.7h0M127.8 65.8h0M139.1 73.7h0M134.7 72.5h0M126.7 91.4h0M119.2 94.5h0M145.4 120.1h0M134.6 121.0h0M124.0 88.9h0M230.7 76.0h0M123.3 62.1h0M141.4 114.1h0M129.6 66.8h0M116.0 107.7h0M126.7 71.0h0M98.3 145.2h0M135.9 107.6h0M131.1 72.5h0M134.3 79.3h0M151.4 112.3h0M135.3 155.7h0M107.0 182.0h0M222.0 118.2h0M105.1 178.2h0M166.8 138.9h0M214.6 74.6h0M111.3 19.3h0M130.8 83.0h0M124.9 67.3h0M132.4 62.8h0M128.3 83.9h0M129.3 113.5h0M178.1 137.0h0M135.0 155.2h0M153.3 115.5h0M140.0 111.5h0M131.9 79.7h0M125.4 110.7h0M132.4 78.9h0M137.6 70.8h0M135.5 64.0h0M142.0 126.8h0M133.3 63.8h0M138.0 78.2h0M130.6 61.0h0M133.0 72.6h0M128.5 65.7h0M244.2 94.6h0M177.6 152.8h0M127.1 72.3h0M121.4 169.5h0M134.2 66.8h0M215.8 79.3h0M107.4 139.8h0M124.3 117.7h0M120.0 176.6h0M125.9 120.8h0M133.3 121.6h0M131.9 78.6h0M132.5 110.7h0M130.7 65.6h0M113.3 107.5h0M128.9 64.8h0M148.1 117.4h0M128.5 67.5h0M153.8 143.1h0M113.6 99.3h0M125.6 68.7h0M123.3 63.1h0M129.0 120.7h0M124.3 167.6h0M126.6 62.2h0M133.2 116.7h0M131.1 78.9h0M154.3 113.6h0M138.8 69.4h0M132.5 126.9h0M130.6 65.2h0M230.9 80.5h0M135.2 78.3h0M135.6 74.5h0M138.1 124.2h0M116.8 200.2h0M137.5 74.8h0M125.3 60.3h0M130.2 76.1h0M132.1 73.4h0M221.0 91.0h0M132.1 67.0h0M137.2 119.3h0M135.0 65.9h0M137.1 75.4h0M106.0 24.0h0M198.8 88.9h0M102.8 153.8h0M132.6 78.2h0M139.0 74.9h0M141.9 111.4h0M132.4 60.5h0M110.6 152.4h0M131.4 67.8h0M128.4 117.5h0M116.6 133.0h0M138.0 69.9h0M140.0 124.9h0M128.5 85.2h0M148.5 111.3h0M137.3 123.0h0M143.1 122.3h0M145.6 126.6h0M138.8 127.5h0M129.8 63.6h0M127.6 68.2h0M181.9 113.3h0M156.6 120.5h0M130.0 62.7h0M219.2 111.4h0M225.0 178.0h0M108.7 21.0h0M135.3 127.6h0M144.2 123.0h0M127.1 109.5h0M99.4 150.5h0M137.4 118.3h0M211.4 80.7h0M129.0 71.4h0M129.3 76.2h0M223.1 119.1h0M130.0 63.7h0M125.5 60.2h0M128.1 115.0h0M148.8 121.3h0M134.1 129.5h0M124.9 65.4h0M161.6 111.5h0M128.3 66.1h0M119.8 11.9h0M103.4 181.8h0M130.0 82.8h0M125.1 111.7h0M230.0 102.2h0M150.1 114.8h0M248.3 83.5h0M127.7 68.9h0M231.4 115.4h0M130.9 81.3h0M124.0 89.5h0M133.1 73.9h0M151.7 113.3h0M125.0 68.1h0M129.2 61.3h0M118.6 12.4h0M132.1 80.9h0M251.1 77.3h0M224.8 178.5h0M202.1 89.6h0M125.7 121.3h0M134.8 66.6h0M139.5 109.7h0M211.0 77.9h0M126.4 67.2h0M157.7 117.7h0M140.0 124.5h0M125.4 68.2h0M131.3 61.8h0M139.2 69.3h0M224.2 180.4h0M125.2 65.6h0M132.5 62.5h0M127.3 122.6h0M117.1 118.0h0M127.9 83.1h0M138.4 65.7h0M123.5 62.8h0M135.8 63.9h0M134.7 68.9h0M133.2 116.0h0M156.0 122.4h0M114.8 165.0h0M134.2 65.6h0M124.6 65.5h0M211.8 78.1h0M129.9 68.6h0M124.9 169.0h0M132.3 68.8h0M115.6 95.1h0M124.8 62.8h0M249.0 94.5h0M128.2 72.8h0M136.1 72.7h0M125.1 112.8h0M127.8 83.0h0M137.9 68.0h0M124.5 67.9h0M130.9 70.8h0M148.9 118.6h0M148.9 122.2h0M123.8 60.4h0M126.7 68.7h0M133.4 64.7h0M154.1 123.7h0M143.4 125.7h0M131.1 62.4h0M115.1 194.6h0M124.0 61.6h0M132.8 61.3h0M134.7 111.5h0M107.1 27.5h0M110.1 24.3h0M128.0 67.3h0M137.4 116.5h0M130.7 127.0h0M138.2 119.5h0M236.4 89.1h0M133.7 81.5h0M246.9 72.3h0M131.9 113.4h0M126.7 72.7h0M219.5 75.2h0M97.4 189.0h0M232.6 77.5h0M120.6 167.5h0M218.6 75.1h0M151.9 113.9h0M127.3 61.5h0M181.5 145.0h0M134.7 68.7h0M152.2 113.0h0M126.8 68.0h0M109.2 22.7h0M125.8 92.2h0M148.1 117.5h0M155.5 113.9h0M187.8 144.6h0M116.7 103.6h0M102.8 125.3h0M134.7 69.0h0M138.2 121.3h0M136.3 67.6h0M116.3 106.6h0M134.7 75.1h0M137.7 78.4h0M125.1 92.3h0M137.3 73.8h0M153.4 122.3h0M146.0 121.0h0M104.3 26.8h0M135.1 63.6h0M222.8 179.6h0M214.8 74.3h0M136.9 119.9h0M103.6 25.1h0M125.6 64.1h0M230.6 72.4h0M155.1 120.1h0M131.8 68.1h0M136.3 157.8h0M107.5 22.8h0M148.7 125.0h0M217.7 76.3h0M130.7 60.1h0M103.9 28.1h0M143.0 111.9h0M130.1 68.7h0M128.4 68.5h0M106.6 167.1h0M218.1 107.9h0M144.8 109.9h0M140.4 122.9h0M235.4 78.6h0M139.0 122.2h0M135.3 77.3h0M123.2 109.7h0M148.9 119.4h0M128.6 66.7h0M132.5 80.8h0M134.9 78.1h0M250.1 92.2h0M224.6 82.8h0M125.4 63.7h0M124.5 116.4h0M232.8 78.8h0M134.6 81.1h0M138.6 69.4h0M150.4 113.5h0M99.0 186.3h0M238.8 96.1h0M129.4 69.7h0M130.6 85.5h0M134.7 69.4h0M103.2 26.0h0M139.0 108.3h0M242.9 80.5h0M140.2 115.9h0M157.4 122.6h0M133.4 119.0h0M120.3 169.2h0M124.9 169.0h0M134.7 77.3h0M157.3 120.5h0M134.7 72.6h0M137.8 69.2h0M133.1 118.1h0M134.3 80.0h0M140.2 116.5h0M137.5 65.3h0M145.6 115.3h0M137.0 68.1h0M133.7 66.9h0M155.2 120.1h0M244.0 90.8h0M142.4 121.2h0M138.7 118.0h0M132.6 115.8h0M132.2 63.5h0M138.3 72.5h0M136.4 71.3h0M184.0 140.1h0M120.2 12.3h0M127.4 65.5h0M134.2 78.7h0M133.2 125.2h0M127.9 72.8h0M222.4 179.3h0M218.0 101.1h0M114.2 169.8h0M124.9 86.6h0M254.1 85.5h0M137.5 76.8h0M136.2 62.9h0M145.6 119.9h0M138.3 75.9h0M128.3 71.2h0M164.5 160.5h0M129.0 62.8h0M128.4 72.5h0M130.8 115.6h0M117.3 166.1h0M246.2 71.2h0M133.5 111.0h0M222.6 180.2h0M147.5 145.4h0M134.3 119.2h0M124.9 94.2h0M108.8 130.9h0M129.8 80.2h0M126.3 61.3h0M137.5 116.2h0M157.7 117.4h0M225.7 177.4h0M132.1 76.8h0M135.5 73.0h0M130.7 81.0h0M143.9 116.8h0M130.2 67.2h0M133.7 126.3h0M226.2 177.8h0M134.8 72.0h0M124.1 64.0h0M143.3 114.0h0M120.4 95.9h0M123.5 91.6h0M126.4 67.2h0M128.8 83.4h0M152.8 114.7h0M124.1 64.6h0M148.9 121.7h0M136.7 68.3h0M130.5 69.2h0M115.9 169.6h0M136.1 69.9h0M152.1 112.1h0M134.7 66.2h0M126.5 61.8h0M139.8 124.2h0M212.6 105.7h0M128.5 84.2h0M249.7 77.9h0M110.7 99.6h0M144.6 141.7h0M135.6 121.2h0M137.4 66.1h0M224.0 114.0h0M106.7 200.0h0M241.4 91.4h0M106.2 26.7h0M133.2 70.2h0M137.6 116.5h0M132.7 124.4h0M145.7 119.4h0M95.6 164.8h0M158.5 117.7h0M133.0 69.9h0M138.4 70.5h0M248.6 87.1h0M128.1 67.9h0M106.7 141.7h0M134.5 71.3h0M220.3 90.2h0M171.8 153.3h0M139.3 150.1h0M144.4 125.4h0M149.1 116.9h0M152.1 121.3h0M138.9 68.6h0M114.0 177.7h0M134.7 67.8h0M141.2 111.6h0M236.0 111.8h0M133.8 117.2h0M135.1 110.3h0M104.0 27.5h0M142.1 121.8h0M129.6 83.3h0M141.6 116.4h0M126.0 60.3h0M116.0 100.1h0M128.6 70.5h0M125.2 112.3h0M147.6 116.3h0M136.4 67.1h0M128.1 66.5h0M226.5 107.6h0M135.8 63.0h0M132.9 67.6h0M158.7 96.7h0M132.6 69.2h0M127.3 117.2h0M131.5 60.9h0M123.2 90.4h0M251.6 93.5h0M139.3 112.8h0M134.9 107.7h0M130.5 83.1h0M164.3 156.5h0M137.5 126.1h0M112.6 95.9h0M135.0 120.7h0M132.1 61.5h0M134.2 74.4h0M114.7 203.6h0M123.8 115.3h0M121.7 94.8h0M124.3 91.1h0M140.9 117.1h0M130.1 82.8h0M145.4 165.6h0M154.4 117.7h0M136.6 119.3h0M137.0 125.7h0M140.2 121.4h0M129.6 63.0h0M155.6 122.3h0M134.7 113.8h0M120.1 95.2h0M139.3 122.7h0M154.7 151.4h0M141.1 115.4h0M152.5 156.0h0M134.6 80.6h0M144.0 108.9h0M124.3 65.6h0M131.3 84.4h0M129.9 109.0h0M153.0 120.7h0M128.7 85.4h0M143.0 126.1h0M137.8 66.3h0M146.9 113.2h0M140.2 125.1h0M128.1 86.1h0M126.3 69.0h0M129.9 67.0h0M131.9 69.7h0M136.8 78.3h0M127.6 67.0h0M107.5 22.4h0M128.3 64.0h0M124.4 131.1h0M163.6 159.7h0M130.1 86.8h0M141.4 118.7h0M145.5 111.5h0M96.8 200.3h0M134.4 121.4h0M137.7 111.8h0M126.6 72.9h0M134.5 71.6h0M140.2 110.8h0M227.5 177.4h0M128.4 65.4h0M129.7 76.1h0M113.5 134.7h0M146.8 117.6h0M217.6 96.6h0M125.4 69.3h0M134.2 128.9h0M130.3 66.0h0M144.5 115.4h0M135.9 74.9h0M130.1 72.4h0M124.9 119.9h0M152.5 116.6h0M105.0 27.5h0M130.4 71.4h0M125.4 121.5h0M134.7 126.8h0M130.3 80.5h0M128.4 71.7h0M134.5 74.3h0M131.3 76.9h0M125.0 64.9h0M137.5 76.9h0M138.4 68.1h0M173.2 140.6h0M114.7 195.5h0M123.5 115.3h0M137.6 64.5h0M135.8 79.4h0M132.6 74.9h0M237.2 117.6h0M220.0 91.7h0M149.3 125.1h0M134.4 111.1h0M208.9 84.8h0M234.9 76.5h0M239.6 109.4h0M127.2 60.8h0M134.4 61.6h0M140.9 110.7h0M131.9 64.3h0M136.6 107.3h0M134.3 73.3h0M122.9 94.1h0M155.2 118.2h0M135.9 127.4h0M118.7 12.0h0M136.6 63.6h0M225.9 177.7h0M125.6 113.4h0M113.8 106.3h0M135.5 72.8h0M156.9 117.0h0M140.9 124.4h0M157.1 153.8h0M209.8 84.5h0M139.9 110.7h0M109.0 22.6h0M146.7 121.1h0M108.0 23.5h0M130.9 72.3h0M124.6 66.5h0M119.6 11.9h0M152.5 113.4h0M128.2 63.9h0M165.1 157.3h0M156.5 157.5h0M149.3 119.6h0M141.0 123.1h0M133.4 61.1h0M146.3 121.1h0M128.7 69.7h0M122.9 93.0h0M130.1 79.2h0M210.4 77.5h0M127.5 111.5h0M135.9 67.9h0M111.6 19.5h0M133.5 67.0h0M124.4 66.5h0M216.3 78.4h0M97.6 147.4h0M134.6 123.6h0M146.6 118.1h0M134.8 67.4h0M134.6 69.8h0M135.2 117.0h0M129.8 162.7h0M125.9 63.0h0M131.4 61.8h0M130.1 59.9h0M130.6 74.5h0M212.8 74.6h0M156.9 119.2h0M122.8 167.4h0M130.6 67.3h0M242.1 95.1h0M115.8 130.3h0M111.7 189.3h0M146.2 112.5h0M128.6 85.2h0M138.1 124.5h0M242.3 91.0h0M133.9 109.4h0M105.8 25.7h0M107.5 131.7h0M140.4 119.1h0M133.5 82.0h0M100.3 186.2h0M151.9 114.0h0M137.7 78.8h0M121.6 117.1h0M129.3 68.9h0M227.7 126.4h0M130.6 122.4h0M158.2 121.7h0M119.5 113.0h0M129.4 73.3h0M114.3 168.7h0M214.2 94.4h0M133.2 63.8h0M130.7 66.9h0M218.5 74.9h0M99.4 193.5h0M235.6 114.8h0M136.7 63.7h0M138.1 76.4h0M126.6 167.7h0M140.9 113.8h0M147.4 114.3h0M129.7 65.8h0M109.4 101.9h0M104.0 194.9h0M138.3 115.4h0M145.1 114.1h0M128.0 70.2h0M134.0 76.7h0M137.6 155.0h0M136.5 111.3h0M130.0 71.8h0M135.5 79.1h0M152.1 114.5h0M132.9 119.1h0M97.9 176.7h0M135.2 73.8h0M132.5 107.7h0M237.3 72.7h0M123.4 94.2h0M232.0 74.2h0M144.1 118.7h0M246.6 89.5h0M134.5 80.1h0M218.7 78.7h0M130.7 72.3h0M146.6 120.1h0M127.8 91.2h0M133.9 64.9h0M254.6 85.7h0M133.0 74.9h0M131.7 65.7h0M130.3 119.0h0M136.5 64.9h0M129.8 82.4h0M131.2 61.3h0M130.1 72.4h0M154.5 123.4h0M137.3 124.9h0M131.1 73.3h0M132.5 74.8h0M130.2 84.1h0M147.2 123.3h0M131.4 119.1h0M111.3 19.5h0M133.4 72.3h0M136.0 77.3h0M131.4 76.8h0M131.3 63.1h0M129.2 116.8h0M141.8 111.6h0M129.8 71.6h0M129.9 117.0h0M139.0 126.6h0M151.3 117.5h0M118.5 13.1h0M109.5 204.5h0M113.8 102.7h0M212.4 75.1h0M144.4 126.2h0M126.0 66.0h0M119.7 104.4h0M234.4 106.7h0M98.1 136.9h0M223.6 95.2h0M137.1 79.6h0M137.8 115.8h0M136.4 72.3h0M243.9 72.8h0M128.3 64.5h0M139.4 69.4h0M127.6 70.9h0M144.4 116.5h0M131.4 124.7h0M126.8 112.7h0M133.0 124.9h0M134.3 72.6h0M156.3 115.6h0M121.1 173.4h0M127.6 66.8h0M237.7 89.5h0M147.4 117.9h0M108.8 21.4h0M143.7 113.4h0M108.7 129.5h0M130.8 82.4h0M133.3 108.7h0M127.9 61.7h0M224.9 178.6h0M123.5 62.2h0M146.6 122.5h0M135.9 63.7h0M96.7 150.7h0M128.5 60.2h0M135.0 66.4h0M150.3 129.7h0M210.9 94.1h0M130.5 115.9h0M142.2 126.3h0M132.2 75.0h0M129.9 80.6h0M243.8 104.0h0M163.7 149.1h0M148.0 152.1h0M124.7 62.5h0M133.0 64.8h0M139.0 151.8h0M241.9 74.9h0M240.6 70.5h0M97.8 148.7h0M131.8 109.4h0M117.6 98.1h0M240.6 72.3h0M210.7 76.3h0M131.0 60.4h0M145.0 120.5h0M131.7 72.6h0M124.3 91.4h0M146.7 115.8h0M229.4 105.5h0M218.8 76.0h0M132.3 74.6h0M139.0 72.8h0M132.7 116.1h0M127.9 118.9h0M228.8 116.2h0M141.1 122.4h0M239.7 115.6h0M213.3 76.3h0M138.0 66.9h0M117.1 104.6h0M147.7 121.5h0M218.0 75.0h0M150.3 123.8h0M208.1 80.1h0M115.9 131.6h0M226.6 177.2h0M130.7 62.2h0M104.4 28.4h0M132.4 75.0h0M202.7 88.5h0M130.6 62.1h0M132.6 78.1h0" stroke="#F964D9" stroke-width="1.00" stroke-linecap="round" fill="none"/>
<path d="M165.7 163.6h0M161.9 163.6h0M152.1 144.7h0M172.5 162.3h0M171.6 175.6h0M158.3 166.3h0M168.5 142.8h0M172.6 158.9h0M134.0 69.1h0M167.8 177.5h0M165.3 151.1h0M162.0 140.1h0M148.3 156.4h0M171.5 162.1h0M173.6 170.4h0M175.2 162.9h0M174.2 160.2h0M162.1 164.3h0M169.7 163.6h0M159.2 148.6h0M145.7 140.1h0M152.1 146.7h0M154.3 149.4h0M180.7 151.8h0M150.4 146.3h0M161.2 176.5h0M177.9 151.4h0M164.9 144.3h0M168.9 162.2h0M160.9 166.0h0M165.5 160.0h0M168.7 151.3h0M160.3 162.6h0M162.2 153.9h0M157.2 142.9h0M166.1 152.5h0M176.7 147.1h0M157.7 162.7h0M145.9 152.6h0M165.8 173.5h0M156.7 141.9h0M148.6 153.1h0M177.5 152.2h0M159.4 169.2h0M159.0 165.1h0M158.5 161.0h0M177.1 154.0h0M159.6 162.6h0M156.7 155.3h0M158.7 173.2h0M160.5 166.2h0M152.7 152.8h0M175.3 154.6h0M165.3 169.0h0M168.8 162.4h0M168.1 159.6h0M168.1 167.4h0M169.3 154.3h0M179.5 148.6h0M173.6 154.1h0M179.6 141.9h0M175.1 167.3h0M153.0 156.8h0M171.3 165.7h0M160.3 159.6h0M160.9 152.9h0M159.8 164.6h0M158.4 161.8h0M159.5 163.4h0M160.5 164.8h0M152.8 148.6h0M142.6 142.7h0M164.2 157.4h0M154.1 150.1h0M142.5 149.8h0M172.1 175.7h0M180.1 153.1h0M161.4 151.5h0M165.5 170.1h0M171.4 165.0h0M175.3 146.7h0M174.5 166.9h0M160.8 170.7h0M163.8 174.2h0M164.1 161.4h0M158.5 159.9h0M155.5 142.6h0M158.7 163.4h0M167.8 172.1h0M146.8 151.6h0M157.2 170.5h0M165.1 160.0h0M161.8 165.9h0M159.8 139.8h0M168.5 169.7h0M169.7 163.7h0M160.3 141.8h0M165.6 160.0h0M161.1 174.9h0M181.2 149.7h0M176.8 165.6h0M133.2 67.0h0M162.4 170.9h0M162.7 175.8h0M169.6 167.1h0M144.3 144.9h0M149.8 148.7h0M163.5 152.6h0M162.2 156.6h0M146.8 147.8h0M146.1 138.5h0M162.1 146.7h0M176.6 165.3h0M159.7 165.4h0M174.6 154.3h0M165.3 163.2h0M174.1 159.8h0M164.1 147.3h0M170.6 173.6h0M169.4 172.4h0M151.8 144.7h0M146.8 154.2h0M162.7 158.6h0M168.9 163.3h0M173.0 171.0h0M161.2 176.0h0M177.6 149.9h0M165.4 148.9h0M157.2 165.7h0M168.0 158.3h0M176.4 155.7h0M148.3 141.8h0M163.4 172.7h0M177.4 151.8h0M169.8 145.0h0M184.0 147.3h0M156.9 159.9h0M170.8 150.5h0M165.0 141.5h0M169.1 169.3h0M159.5 151.0h0M176.5 151.4h0M172.7 150.3h0M169.2 176.6h0M171.9 150.4h0M160.7 160.0h0M160.1 175.0h0M147.6 138.6h0M169.1 169.9h0M168.7 175.5h0M167.9 162.4h0M156.9 146.7h0M156.8 153.4h0M160.4 166.6h0M150.5 142.1h0M166.2 150.3h0M165.6 166.6h0M186.4 147.1h0M161.8 146.5h0M152.2 147.1h0M145.4 154.8h0M161.6 167.5h0M170.0 149.0h0M168.4 164.6h0M159.0 158.0h0M175.3 165.5h0M158.3 168.3h0M168.9 176.9h0M157.3 146.1h0M172.3 168.4h0M148.6 151.4h0M175.4 168.0h0M163.9 149.9h0M167.6 176.7h0M154.5 143.9h0M166.1 160.0h0M155.4 157.7h0M174.0 148.2h0M166.1 171.5h0M182.7 143.1h0M144.8 144.0h0M155.9 150.1h0M144.3 145.8h0M177.3 146.4h0M163.5 160.9h0M160.1 139.9h0M158.2 146.8h0M164.2 154.4h0M156.2 133.4h0M169.0 165.3h0M167.9 156.1h0M168.7 154.7h0M167.2 160.0h0M150.7 149.0h0M171.6 157.7h0M147.7 139.5h0M159.2 148.1h0M148.1 151.6h0M177.6 154.8h0M158.0 140.7h0M162.8 163.4h0M163.9 167.5h0M162.7 177.3h0M160.8 167.8h0M157.2 163.9h0M158.6 170.8h0M170.9 158.0h0M173.5 163.5h0M158.0 165.2h0M150.5 143.8h0M171.9 143.6h0M175.1 167.7h0M162.3 167.3h0M165.4 164.9h0M161.6 166.4h0M173.1 147.7h0M159.6 167.2h0M170.1 166.1h0M166.5 140.5h0M165.3 168.4h0M163.1 140.6h0M173.5 172.2h0M175.3 170.6h0M168.2 173.1h0M163.4 173.6h0M133.1 77.7h0M154.1 147.8h0M163.9 159.2h0M164.8 178.2h0M173.8 169.7h0M175.2 153.1h0M166.0 163.1h0M156.6 150.4h0M183.4 148.4h0M164.8 165.5h0M167.0 154.7h0M172.6 163.4h0M149.1 151.6h0M167.5 177.5h0M169.9 173.9h0M166.8 168.0h0M176.1 152.8h0M164.2 159.4h0M167.5 159.7h0M170.6 169.2h0M166.9 157.9h0M165.0 146.4h0M171.2 150.3h0M159.0 172.7h0M178.9 151.4h0M171.0 171.1h0M171.9 172.6h0M152.0 149.3h0M163.5 170.3h0M174.8 173.0h0M156.6 162.9h0M169.6 146.7h0M164.5 165.0h0M176.7 149.2h0M163.8 166.6h0M159.0 151.0h0M168.8 162.3h0M159.0 162.6h0M164.2 165.8h0M153.8 154.9h0M170.8 164.8h0M148.2 139.5h0M167.9 170.1h0M166.9 157.3h0M173.4 152.5h0M162.2 165.3h0M157.7 159.7h0M162.0 149.8h0M144.5 150.5h0M174.8 155.6h0M172.9 173.5h0M167.5 155.9h0M178.8 151.5h0M167.4 151.8h0M151.9 144.5h0M144.9 154.8h0M166.2 158.9h0M183.0 150.3h0M162.8 147.1h0M162.5 167.1h0M150.9 150.9h0M158.9 149.9h0M168.5 157.0h0M169.8 174.0h0M168.4 149.3h0M175.1 146.3h0M149.0 150.0h0M164.3 145.9h0M174.5 160.2h0M160.6 163.1h0M159.8 164.1h0M157.5 144.5h0M169.7 171.0h0M169.4 148.3h0M146.1 151.1h0M143.0 145.6h0M159.4 155.6h0M167.0 164.1h0M142.4 144.9h0M169.4 165.0h0M151.1 144.4h0M126.7 60.4h0M147.0 146.5h0M149.7 142.0h0M156.4 160.5h0M144.6 140.7h0M165.6 169.5h0M151.4 125.5h0M167.7 174.5h0M176.7 164.5h0M167.3 164.4h0M158.1 155.3h0M165.8 164.1h0M173.9 166.6h0M164.1 162.3h0M168.7 168.6h0M164.9 170.0h0M160.1 141.6h0M174.5 145.7h0M164.8 165.8h0M171.5 166.5h0M157.9 168.9h0M160.2 144.0h0M172.5 175.8h0M161.8 177.0h0M156.9 158.1h0M158.9 163.9h0M163.7 165.3h0M167.5 160.3h0M162.1 152.7h0M155.8 149.7h0M153.3 140.8h0M160.7 144.9h0M170.4 156.1h0M175.4 152.2h0M156.8 159.3h0M161.6 170.8h0M169.6 177.3h0M166.9 178.2h0M164.4 171.0h0M176.5 168.3h0M162.7 170.5h0M162.0 147.5h0M127.6 70.1h0M167.9 160.3h0M152.5 150.7h0M162.1 138.4h0M175.5 162.2h0M167.5 177.4h0M174.1 145.7h0M150.5 156.2h0M166.9 168.7h0M176.1 170.3h0M171.3 165.5h0M156.9 155.7h0M166.0 156.2h0M171.2 149.6h0M158.1 143.6h0M159.3 155.5h0M161.0 167.9h0M147.9 144.6h0M160.4 174.9h0M149.3 153.1h0M170.3 173.6h0M170.3 146.5h0M181.2 146.0h0M165.9 162.9h0M173.5 163.8h0M172.2 167.1h0M166.8 149.5h0M165.5 141.1h0M179.5 144.7h0M162.9 168.3h0M166.5 170.7h0M143.1 140.8h0M150.4 144.5h0M157.4 170.3h0M171.0 170.0h0M154.9 142.0h0M167.8 163.3h0M173.4 169.2h0M144.9 145.0h0M183.9 146.9h0M149.3 146.1h0M153.0 156.5h0M174.5 156.6h0M157.9 159.6h0M172.7 142.8h0M147.7 148.4h0M144.7 143.7h0M149.2 141.8h0M160.4 162.6h0M159.0 129.5h0M149.7 143.3h0M166.4 145.5h0M176.3 169.4h0M142.3 147.7h0M173.4 164.1h0M152.5 149.3h0M161.2 146.9h0M161.8 171.1h0M155.8 160.0h0M168.9 167.2h0M168.6 170.9h0M170.9 157.8h0M164.4 150.0h0M156.8 156.7h0M173.7 174.0h0M149.6 124.6h0M178.3 144.1h0M170.5 162.8h0M168.4 158.2h0M167.0 173.7h0M147.3 149.4h0M157.5 169.6h0M158.3 171.9h0M167.5 160.5h0M173.9 163.9h0M162.7 165.2h0M158.0 137.9h0M155.3 149.3h0M169.2 159.8h0M164.5 176.3h0M159.7 172.1h0M172.5 167.8h0M151.4 128.9h0M157.4 145.7h0M170.3 174.6h0M168.9 155.2h0M152.6 158.8h0M167.7 175.7h0M148.6 145.2h0M146.9 141.2h0M162.0 154.1h0M164.3 161.0h0M181.9 138.8h0M165.7 158.8h0M162.3 163.0h0M143.8 153.8h0M165.9 172.2h0M152.0 158.5h0M129.2 76.3h0M150.1 151.7h0M164.4 143.9h0M171.6 162.4h0M166.1 154.5h0M146.4 138.7h0M163.3 158.4h0M147.8 153.2h0M157.9 165.9h0M181.1 152.0h0M167.0 169.5h0M169.4 162.9h0M161.2 162.7h0M166.5 149.5h0M177.6 147.2h0M175.9 168.6h0M159.9 144.7h0M149.9 152.1h0M159.8 140.6h0M157.9 169.0h0M174.5 167.6h0M162.0 166.9h0M166.9 177.6h0M168.9 167.6h0M166.5 159.9h0M162.6 154.1h0M158.0 168.6h0M161.8 166.8h0M160.6 163.0h0M161.4 140.3h0M158.4 162.9h0M177.0 153.2h0M171.4 170.6h0M171.7 173.1h0M173.3 164.8h0M167.6 169.2h0M159.7 160.2h0M158.5 171.1h0M168.0 172.3h0M168.7 160.1h0M162.5 156.4h0M164.3 161.9h0M165.6 160.4h0M166.5 165.5h0M172.4 146.0h0M146.9 141.3h0M145.6 151.9h0M141.8 148.5h0M184.8 146.8h0M180.4 149.3h0M152.3 148.3h0M172.9 174.6h0M169.0 138.6h0M147.7 149.0h0M169.9 174.8h0M174.7 166.6h0M161.9 167.2h0M165.6 159.4h0M152.8 138.2h0M169.0 170.1h0M166.0 149.8h0M166.4 170.1h0M165.3 159.4h0M163.8 168.0h0M159.1 170.3h0M169.3 159.7h0M170.8 159.7h0M158.5 160.8h0M174.0 171.6h0M155.6 136.4h0M158.9 164.0h0M171.5 166.1h0M175.5 162.3h0M164.5 160.5h0M167.1 159.1h0M158.0 166.8h0M150.5 139.5h0M155.4 151.1h0M161.9 161.5h0M168.4 144.6h0M153.1 148.7h0M143.0 150.3h0M152.9 153.0h0M163.8 170.3h0M144.3 145.2h0M148.4 156.7h0M162.0 176.0h0M161.7 157.2h0M161.7 152.0h0M150.2 148.0h0M158.5 164.0h0M166.6 160.2h0M175.8 154.2h0M164.4 160.2h0M166.9 177.2h0M173.4 158.4h0M151.8 157.4h0M168.2 166.6h0M173.1 167.9h0M161.3 150.9h0M174.8 166.8h0M157.0 149.8h0M148.0 151.1h0M168.1 153.7h0M167.0 160.7h0M166.6 176.4h0M160.7 157.5h0M169.0 165.0h0M166.5 168.3h0M135.6 70.8h0M163.2 169.2h0M162.8 161.0h0M162.2 176.9h0M125.5 64.0h0M154.0 150.9h0M166.8 169.0h0M172.4 157.9h0M165.5 176.6h0M151.4 152.0h0M175.0 173.7h0M175.1 171.9h0M145.5 141.2h0M161.0 154.5h0M165.4 160.6h0M161.7 165.8h0M171.9 161.0h0M171.8 172.1h0M172.4 158.5h0M153.7 158.0h0M174.5 136.5h0M163.7 137.7h0M173.2 163.7h0M156.8 160.5h0M172.3 164.8h0M168.6 162.0h0M164.4 174.6h0M154.0 139.0h0M153.3 153.7h0M161.4 171.3h0M152.4 139.7h0M159.8 161.3h0M172.3 160.7h0M162.7 143.9h0M143.8 151.6h0M156.2 147.2h0M159.1 161.7h0M174.4 159.3h0M150.2 124.7h0M170.5 152.7h0M146.7 146.5h0M168.7 166.0h0M147.4 146.8h0M144.5 146.0h0M160.4 160.5h0M154.9 154.7h0M167.0 169.5h0M143.9 141.2h0M163.9 168.8h0M171.4 160.1h0M164.9 154.8h0M159.3 162.6h0M155.6 157.6h0M160.9 170.6h0M162.6 173.2h0M163.0 165.8h0M166.9 160.2h0M157.2 167.1h0M152.8 157.0h0M181.7 145.1h0M169.6 176.4h0M163.0 144.2h0M156.5 158.8h0M175.8 149.2h0M169.3 152.2h0M169.6 154.6h0M155.3 152.3h0M163.7 164.8h0M164.9 169.1h0M161.5 174.8h0M173.0 150.2h0M125.2 69.8h0M166.3 171.2h0M171.4 174.1h0M154.1 146.4h0M166.7 162.4h0M161.1 170.0h0M165.0 161.4h0M177.9 141.6h0M170.0 159.9h0M171.8 144.6h0M163.9 155.3h0M126.5 71.8h0M157.7 165.7h0M151.5 156.2h0M162.6 155.6h0M160.3 161.5h0M146.6 155.7h0M174.4 171.1h0M163.6 144.1h0M146.1 143.6h0M148.4 149.9h0M155.1 141.0h0M156.7 158.7h0M184.4 148.4h0M174.0 170.5h0M163.0 167.9h0M180.0 153.1h0M171.1 165.7h0M170.5 174.9h0M163.6 177.8h0M159.6 168.9h0M164.9 161.9h0M181.8 148.0h0M159.9 174.5h0M163.0 155.5h0M163.1 153.9h0M168.1 173.3h0M162.3 145.2h0M173.2 146.1h0M162.3 160.5h0M156.5 143.0h0M146.2 152.4h0M164.9 173.3h0M185.3 146.1h0M152.5 156.9h0M164.6 168.7h0M163.2 170.5h0M160.3 164.3h0M166.3 172.4h0M157.6 141.3h0M168.0 178.6h0M142.8 150.9h0M167.3 155.6h0M172.4 148.7h0M149.0 152.8h0M174.2 173.6h0M163.1 171.5h0M145.3 148.0h0M161.5 153.2h0M167.5 150.2h0M168.6 158.6h0M176.3 166.1h0M184.0 149.0h0M160.1 174.6h0M148.0 146.5h0M165.9 142.1h0M174.7 173.0h0M172.9 150.4h0M160.3 152.6h0M134.0 61.7h0M166.5 172.8h0M162.2 152.1h0M157.3 169.4h0M162.1 170.7h0M163.9 144.0h0M147.1 141.6h0M159.9 162.0h0M126.5 61.9h0M156.1 156.4h0M159.2 169.2h0M156.4 154.8h0M156.6 167.9h0M177.8 151.2h0M148.5 144.6h0M166.7 171.2h0M156.4 148.1h0M164.5 170.8h0M166.2 144.3h0M158.9 155.3h0M173.7 174.8h0M159.3 164.7h0M181.5 147.8h0M175.2 168.4h0M165.4 161.8h0M145.6 151.5h0M173.2 162.9h0M158.1 138.3h0M161.2 170.7h0M161.7 164.4h0M164.1 143.3h0M151.8 158.9h0M171.3 162.1h0M169.4 175.4h0M156.9 157.7h0M157.9 157.7h0M168.3 160.7h0M138.5 65.5h0M162.3 165.5h0M164.0 162.8h0M158.7 162.4h0M161.2 162.6h0M153.5 157.3h0M166.7 148.2h0M153.5 147.6h0M129.2 64.7h0M165.9 176.1h0M167.4 174.1h0M170.6 163.5h0M152.4 144.8h0M166.4 162.2h0M166.2 162.3h0M129.6 69.5h0M151.7 155.4h0M158.3 172.3h0M162.8 163.8h0M166.1 177.6h0M171.5 151.6h0M154.1 144.4h0M147.7 145.6h0M169.1 141.3h0M166.1 161.1h0M174.9 154.1h0M158.5 168.3h0M174.1 174.4h0M174.6 162.1h0M160.0 163.1h0M175.8 167.9h0M160.6 167.6h0M152.5 143.4h0M176.6 165.7h0M173.3 169.3h0M166.9 161.4h0M164.8 157.0h0M159.9 172.8h0M174.6 159.2h0M159.7 163.2h0M164.4 160.1h0M160.5 151.0h0M151.8 157.2h0M163.2 143.2h0M170.2 155.0h0M144.1 147.3h0M171.5 169.1h0M154.5 157.6h0M143.4 152.6h0M167.8 170.5h0M145.6 149.6h0M158.2 152.4h0M172.4 168.1h0M172.6 175.7h0M163.4 156.0h0M163.1 170.9h0M159.2 164.8h0M172.2 170.9h0M169.7 172.7h0M172.2 168.8h0M156.3 160.1h0M161.1 158.8h0M147.4 153.9h0M176.3 164.2h0M164.0 150.6h0M168.6 161.8h0M178.6 140.7h0M171.0 171.0h0M168.4 156.0h0M165.7 174.5h0M132.8 61.4h0M148.0 145.0h0M173.2 168.1h0M153.9 156.0h0M144.1 153.9h0M165.8 151.1h0M145.8 151.0h0M168.2 166.5h0M165.0 168.8h0M164.2 170.7h0M162.2 161.2h0M156.4 147.2h0M165.8 153.1h0M171.1 145.7h0M159.2 160.4h0M164.3 145.3h0M172.0 168.2h0M167.6 160.6h0M171.9 158.2h0M170.3 136.8h0M147.5 150.3h0M165.7 164.5h0M161.0 169.9h0M161.8 175.5h0M159.2 146.3h0M158.5 141.1h0M157.6 154.5h0M145.8 143.2h0M163.9 167.7h0M150.7 145.2h0M166.9 168.2h0M161.0 142.4h0M176.7 141.0h0M169.2 173.4h0M164.8 164.1h0M165.0 156.4h0M168.9 149.5h0M154.1 145.6h0M172.3 176.1h0M169.7 151.6h0M153.8 155.3h0M153.0 149.1h0M164.2 150.2h0M168.2 165.8h0M175.5 171.6h0M172.2 173.9h0M154.5 139.9h0M163.9 151.0h0M162.5 171.6h0M152.9 155.5h0M171.3 154.9h0M176.0 166.1h0M162.0 177.1h0M164.0 171.7h0M145.4 144.1h0M160.3 166.5h0M160.7 149.2h0M154.4 155.8h0M145.1 150.9h0M176.6 166.6h0M168.5 169.9h0M165.3 148.5h0M170.3 175.3h0M158.4 161.6h0M157.7 143.0h0M160.2 174.8h0M165.6 164.7h0M171.4 159.8h0M162.0 161.0h0M174.6 163.4h0M149.8 138.4h0M155.9 159.5h0M127.6 67.0h0M167.6 170.9h0M179.5 141.5h0M162.8 170.0h0M174.3 171.2h0M162.0 149.8h0M175.2 169.2h0M165.3 155.4h0M172.3 174.2h0M165.4 155.4h0M173.6 157.5h0M176.3 166.5h0M167.4 161.8h0M162.4 161.0h0M173.5 169.2h0M162.0 155.8h0M165.4 159.3h0M148.5 151.4h0M158.2 156.8h0M155.2 156.1h0M169.2 168.1h0M157.8 146.2h0M171.1 168.8h0M154.8 152.0h0M151.3 139.0h0M155.7 149.5h0M168.8 174.4h0M167.6 162.4h0M154.9 146.6h0M161.7 160.9h0M159.4 175.1h0M182.1 151.3h0M175.6 171.6h0M180.6 143.0h0M170.9 170.4h0" stroke="#98B62A" stroke-width="1.00" stroke-linecap="round" fill="none"/>
<path d="M235.3 82.7h0M234.7 90.2h0M245.8 75.0h0M105.8 162.6h0M105.7 124.6h0M113.5 132.8h0M236.0 73.4h0M103.5 149.5h0M95.6 140.8h0M250.2 80.4h0M103.7 163.9h0M95.7 128.8h0M99.0 156.7h0M96.5 153.5h0M95.1 121.4h0M104.8 127.0h0M97.1 123.8h0M102.5 127.1h0M244.3 84.5h0M133.4 127.3h0M129.3 129.1h0M98.6 126.6h0M99.9 188.1h0M111.3 130.9h0M109.2 124.7h0M122.4 130.5h0M98.0 132.6h0M96.1 139.7h0M100.3 121.3h0M137.2 157.5h0M116.6 133.6h0M111.3 132.4h0M96.9 163.2h0M112.6 194.6h0M101.4 148.0h0M97.1 128.7h0M118.1 129.8h0M128.8 129.0h0M92.7 126.5h0M246.5 90.0h0M241.4 76.1h0M107.9 121.6h0M100.4 135.2h0M109.3 199.3h0M129.3 162.9h0M232.8 90.1h0M107.6 139.2h0M248.9 74.8h0M114.7 132.7h0M105.7 158.3h0M248.8 79.0h0M252.5 91.8h0M105.8 127.0h0M114.2 185.4h0M98.2 141.7h0M106.7 150.9h0M220.9 119.8h0M122.3 167.8h0M93.8 122.5h0M99.8 146.3h0M113.1 201.9h0M107.5 146.4h0M248.3 90.1h0M93.9 135.5h0M116.7 169.2h0M122.7 166.1h0M97.8 154.6h0M103.3 122.2h0M117.9 132.6h0M124.7 130.7h0M110.3 127.2h0M98.0 147.0h0M147.1 120.6h0M251.7 79.0h0M136.6 158.9h0M236.4 73.9h0M244.2 92.5h0M234.9 106.0h0M238.3 77.3h0M208.4 90.5h0M114.3 124.4h0M247.0 95.3h0M241.2 92.9h0M238.3 103.3h0M233.5 78.0h0M140.2 150.1h0M232.8 84.3h0M129.0 128.0h0M244.6 94.9h0M252.2 78.8h0M231.2 89.2h0M133.4 117.9h0M99.4 123.3h0M241.3 80.5h0M134.0 160.8h0M240.5 74.7h0M104.7 125.7h0M131.5 130.0h0M100.7 194.0h0M107.5 138.8h0M93.7 125.1h0M100.0 158.8h0M96.3 149.5h0M216.4 108.5h0M108.9 173.6h0M238.1 84.3h0M108.1 156.1h0M113.6 133.4h0M233.7 109.0h0M128.4 167.2h0M99.5 151.3h0M200.9 95.6h0M99.5 160.8h0M120.2 129.7h0M94.9 131.0h0M106.7 136.6h0M101.1 159.4h0M100.6 129.1h0M205.8 93.0h0M100.1 161.0h0M223.1 108.5h0M101.8 120.3h0M97.3 155.2h0M105.1 150.8h0M100.2 128.6h0M235.7 81.9h0M210.2 86.6h0M99.2 156.7h0M100.8 161.0h0M141.4 151.8h0M97.9 163.7h0M103.8 126.5h0M239.6 70.7h0M131.3 130.8h0M97.0 150.7h0M128.2 130.3h0M99.7 145.7h0M111.4 131.8h0M107.5 152.4h0M238.5 92.1h0M139.6 122.0h0M236.4 75.0h0M253.0 79.3h0M99.9 130.5h0M96.5 148.1h0M119.9 129.2h0M114.2 134.2h0M127.8 128.3h0M230.8 76.1h0M110.6 145.2h0M133.7 128.3h0M139.8 152.2h0M108.7 137.4h0M110.5 128.1h0M116.6 107.9h0M106.8 154.2h0M100.9 165.4h0M100.2 138.0h0M99.1 126.7h0M99.2 154.5h0M111.8 133.2h0M98.0 148.9h0M248.5 94.0h0M125.0 65.3h0M97.3 144.7h0M135.2 109.3h0M106.7 123.2h0M237.9 87.8h0M131.8 159.7h0M121.4 170.3h0M97.7 163.4h0M118.7 166.4h0M113.6 134.2h0M107.1 135.0h0M249.9 76.9h0M247.1 81.4h0M117.6 132.8h0M102.2 123.7h0M111.8 131.3h0M102.4 163.2h0M205.5 95.6h0M92.2 129.1h0M119.8 167.3h0M230.5 86.0h0M101.5 157.1h0M119.4 127.2h0M131.6 67.4h0M123.7 126.7h0M245.9 71.5h0M97.8 149.1h0M251.6 79.8h0M238.0 114.2h0M111.2 194.9h0M92.5 127.6h0M233.8 80.0h0M248.0 92.6h0M115.0 129.2h0M112.3 127.4h0M105.2 138.7h0M241.2 107.5h0M236.7 109.6h0M109.4 141.4h0M248.2 90.7h0M124.6 118.3h0M93.8 124.9h0M93.6 123.2h0M132.9 70.1h0M233.8 80.5h0M250.3 88.0h0M248.6 92.7h0M95.5 135.6h0M238.5 76.7h0M104.9 151.2h0M213.7 88.3h0M172.2 172.6h0M237.0 89.1h0M139.1 150.6h0M99.0 133.9h0M234.0 105.4h0M136.7 155.6h0M111.5 129.5h0M100.6 142.2h0M110.8 201.2h0M121.3 126.5h0M98.3 160.6h0M98.0 124.9h0M135.9 157.1h0M130.9 79.5h0M244.0 95.0h0M131.3 128.6h0M166.0 171.1h0M211.0 80.6h0M101.5 164.4h0M235.9 79.4h0M234.1 110.0h0M134.1 127.2h0M96.5 121.7h0M135.9 128.9h0M237.0 120.8h0M113.9 130.6h0M104.0 140.3h0M95.5 142.4h0M100.7 155.4h0M252.1 79.6h0M119.6 167.6h0M98.1 120.9h0M233.5 82.3h0M203.4 85.2h0M96.9 139.2h0M98.0 132.8h0M98.4 143.5h0M114.2 131.8h0M108.6 127.4h0M136.4 158.7h0M238.2 72.0h0M107.6 145.6h0M119.1 165.9h0M247.8 78.5h0M233.4 78.6h0M132.4 157.9h0M114.0 130.9h0M245.9 75.8h0M252.5 82.3h0M120.0 129.7h0M113.6 133.5h0M130.5 129.6h0M131.3 161.6h0M247.1 90.4h0M113.5 165.2h0M240.3 91.9h0M133.1 130.8h0M240.0 72.2h0M243.1 70.6h0M108.4 143.4h0M99.9 155.7h0M222.7 88.9h0M100.1 145.1h0M97.8 178.2h0M109.6 125.9h0M255.3 86.2h0M121.2 128.0h0M111.0 174.3h0M110.1 144.1h0M109.9 136.2h0M249.6 75.0h0M238.9 80.4h0M107.9 158.8h0M110.0 164.0h0M240.5 93.9h0M249.5 89.9h0M95.8 129.9h0M235.4 72.0h0M104.3 178.1h0M245.1 90.5h0M124.3 130.3h0M218.2 90.0h0M103.9 131.8h0M247.0 74.1h0M162.9 175.1h0M108.8 140.9h0M106.6 145.5h0M94.4 134.9h0M106.3 150.2h0M97.1 140.1h0M104.9 139.7h0M239.2 73.0h0M251.3 85.7h0M107.5 154.1h0M243.9 80.5h0M99.9 130.7h0M130.8 130.1h0M103.6 152.5h0M130.4 127.8h0M212.5 94.7h0M114.6 133.5h0M105.7 159.7h0M137.3 152.0h0M112.9 135.7h0M106.9 139.2h0M246.1 84.5h0M96.8 129.5h0M103.2 141.5h0M110.0 125.0h0M109.1 149.0h0M125.8 131.1h0M222.4 110.5h0M237.6 90.7h0M141.2 118.6h0M139.9 151.6h0M98.9 146.2h0M203.5 96.1h0M99.2 144.9h0M127.0 130.6h0M236.0 88.3h0M245.4 74.2h0M241.9 88.6h0M248.9 93.0h0M100.7 174.5h0M101.7 127.4h0M98.5 146.3h0M105.1 148.0h0M236.2 88.3h0M228.3 75.9h0M248.4 89.0h0M218.9 95.9h0M236.6 93.2h0M96.7 143.2h0M247.0 73.7h0M117.5 167.7h0M110.0 156.1h0M102.1 142.3h0M115.9 166.3h0M238.5 69.9h0M115.9 133.6h0M107.1 126.3h0M223.3 107.5h0M100.4 128.5h0M111.7 134.1h0M254.8 88.4h0M235.3 82.2h0M101.1 161.0h0M99.9 124.3h0M97.7 142.7h0M237.0 94.5h0M111.8 131.6h0M106.1 126.3h0M98.3 129.0h0M108.5 133.4h0M120.8 129.1h0M102.9 138.4h0M100.2 146.5h0M242.5 93.1h0M98.4 157.7h0M115.3 133.9h0M114.4 175.2h0M100.2 140.8h0M112.8 132.5h0M244.0 85.3h0M107.2 141.6h0M102.6 161.5h0M111.2 137.1h0M156.7 166.1h0M253.3 91.1h0M129.6 127.3h0M119.1 167.1h0M133.7 162.7h0M112.6 131.2h0M108.4 121.2h0M102.2 133.7h0M236.0 71.3h0M226.2 74.5h0M116.4 132.1h0M94.1 136.6h0M245.2 96.0h0M236.6 76.2h0M98.1 148.9h0M124.5 168.3h0M107.1 136.0h0M124.2 130.5h0M110.4 128.0h0M232.2 74.2h0M236.7 87.2h0M118.4 195.6h0M113.5 129.8h0M101.4 132.3h0M245.8 95.1h0M251.6 76.2h0M99.2 120.7h0M121.9 170.1h0M105.1 173.5h0M241.8 80.3h0M254.4 88.4h0M248.5 74.7h0M154.1 120.2h0M106.9 151.9h0M103.8 121.5h0M247.8 77.1h0M170.1 172.3h0M108.0 140.3h0M110.0 162.6h0M104.1 139.5h0M95.7 130.2h0M97.4 174.6h0M128.4 128.2h0M101.0 131.0h0M112.5 124.5h0M95.9 128.3h0M99.1 146.8h0M96.8 163.8h0M113.4 129.5h0M122.9 168.0h0M108.3 121.6h0M247.2 82.4h0M109.3 156.7h0M235.9 81.0h0M244.8 72.5h0M111.5 162.0h0M232.3 76.1h0M246.1 73.3h0M121.4 166.5h0M100.7 169.4h0M93.6 131.3h0M241.7 73.4h0M106.2 146.7h0M104.2 136.4h0M149.4 115.8h0M253.3 83.9h0M153.2 115.3h0M243.1 92.6h0M107.7 145.1h0M110.4 146.1h0M126.7 166.7h0M239.3 70.1h0M236.6 90.4h0M237.4 79.6h0M98.4 156.9h0M105.5 165.1h0M109.5 153.2h0M121.5 130.4h0M122.1 166.8h0M238.5 75.1h0M132.1 161.2h0M109.0 166.6h0M235.5 90.5h0M119.0 128.6h0M125.8 167.6h0M245.1 75.2h0M132.8 159.2h0M249.9 92.9h0M117.7 109.6h0M98.6 158.1h0M246.5 94.5h0M218.9 85.0h0M95.3 127.9h0M106.0 155.8h0M112.0 174.3h0M231.9 77.3h0M238.6 87.0h0M217.2 99.5h0M235.5 71.7h0M106.4 154.3h0M230.3 83.9h0M113.6 126.9h0M109.8 162.9h0M245.3 76.7h0M97.5 162.4h0M127.6 124.0h0M235.8 89.7h0M250.9 88.4h0M234.5 83.7h0M109.4 161.4h0M113.8 100.6h0M111.2 131.6h0M112.2 139.6h0M235.3 83.6h0M111.5 159.1h0M101.3 149.8h0M121.2 109.2h0M231.1 82.8h0M242.8 98.5h0M135.1 158.3h0M101.9 164.6h0M122.9 128.8h0M152.8 112.8h0M132.8 112.8h0M102.8 157.1h0M103.3 145.4h0M105.8 131.1h0M100.7 138.1h0M111.3 158.5h0M236.8 70.4h0M127.2 166.2h0M107.6 129.5h0M124.3 166.2h0M137.5 156.6h0M110.9 161.7h0M134.2 156.6h0M248.6 82.7h0M114.1 130.0h0M95.3 136.8h0M250.0 78.4h0M106.1 162.8h0M109.2 125.4h0M255.1 88.6h0M103.8 149.2h0M242.3 73.1h0M110.4 151.1h0M236.5 83.1h0M134.5 79.8h0M100.1 123.4h0M109.6 143.9h0M217.3 91.5h0M115.2 126.0h0M243.3 107.6h0M242.6 92.6h0M242.5 92.5h0M241.2 102.9h0M101.9 129.0h0M138.8 151.0h0M115.9 131.0h0M102.8 131.9h0M254.7 89.1h0M247.7 75.4h0M102.3 139.6h0M104.1 137.9h0M251.9 84.2h0M248.7 73.9h0M107.8 164.4h0M158.9 170.9h0M126.1 129.5h0M116.1 126.7h0M238.5 109.5h0M112.1 123.2h0M116.9 109.8h0M236.7 82.4h0M131.2 164.5h0M105.6 139.7h0M209.3 88.3h0M137.3 155.3h0M124.9 167.4h0M116.7 168.2h0M134.8 156.8h0M113.8 131.0h0M240.9 91.1h0M95.6 121.5h0M97.5 132.6h0M238.8 89.5h0M115.9 167.5h0M105.2 144.9h0M94.0 128.7h0M113.4 131.0h0M117.1 94.0h0M99.0 164.0h0M101.3 160.3h0M105.8 182.5h0M116.8 129.1h0M246.8 71.8h0M108.8 171.9h0M251.3 76.0h0M97.4 126.4h0M102.4 164.4h0M99.8 136.8h0M115.0 127.8h0M94.0 132.8h0M94.1 131.1h0M95.3 135.0h0M232.5 85.0h0M105.0 124.2h0M101.1 152.1h0M113.3 109.0h0M245.3 87.3h0M132.8 130.1h0M98.9 199.7h0M131.0 128.9h0M232.8 80.9h0M136.2 157.8h0M106.4 122.6h0M234.1 74.1h0M216.1 83.8h0M111.2 132.0h0M137.4 152.4h0M121.0 169.7h0M115.2 168.7h0M98.0 150.2h0M108.5 139.7h0M234.0 88.4h0M112.7 129.8h0M154.3 118.7h0M234.6 72.8h0M110.4 131.2h0M93.8 130.7h0M132.0 129.2h0M107.5 128.1h0M115.3 167.0h0M94.6 127.3h0M99.1 152.8h0M98.8 139.8h0M242.8 77.7h0M247.7 89.1h0M223.5 109.6h0M251.9 91.0h0M94.4 125.5h0M242.5 88.6h0M102.1 125.3h0M215.7 102.3h0M103.0 134.5h0M105.5 126.4h0M242.7 90.3h0M103.1 138.1h0M99.1 149.3h0M237.3 115.8h0M217.1 95.5h0M103.1 150.8h0M106.4 139.1h0M96.9 126.2h0M109.2 141.7h0M204.1 97.1h0M201.8 88.4h0M96.0 146.4h0M214.0 86.4h0M107.5 167.3h0M104.7 142.0h0M215.1 95.5h0M118.7 168.4h0M100.3 121.0h0M101.9 166.1h0M253.7 91.8h0M131.8 160.1h0M110.2 148.3h0M95.6 139.7h0M244.9 94.9h0M111.9 162.2h0M93.2 131.3h0M98.9 124.6h0M101.0 100.5h0M236.8 88.3h0M230.5 99.2h0M137.3 64.2h0M243.4 100.3h0M128.2 64.4h0M101.6 128.2h0M110.4 149.9h0M113.3 130.4h0M110.9 132.5h0M102.6 140.9h0M101.7 151.3h0M248.2 77.4h0M107.3 148.1h0M93.8 123.7h0M118.1 181.1h0M253.7 85.2h0M140.1 149.0h0M235.9 91.4h0M248.5 73.1h0M236.6 74.4h0M141.1 148.3h0M247.2 93.1h0M103.8 124.8h0M215.6 107.4h0M134.8 166.5h0M248.8 94.1h0M244.1 72.7h0M99.8 135.8h0M246.7 74.9h0M133.7 64.0h0M119.3 168.3h0M254.6 88.9h0M124.3 126.7h0M98.6 158.4h0M100.7 129.3h0M115.4 165.3h0M107.8 183.0h0M114.3 133.3h0M104.1 135.4h0M122.0 129.9h0M97.4 150.5h0M98.0 155.7h0M126.6 165.2h0M96.9 159.8h0M162.4 100.9h0M247.2 76.1h0M238.6 76.8h0M99.4 189.9h0M151.1 120.3h0M239.4 82.8h0M243.6 72.2h0M116.7 129.0h0M101.5 131.1h0M135.6 129.1h0M234.4 81.4h0M106.1 125.6h0M250.7 84.6h0M242.0 82.3h0M237.6 107.6h0M124.1 166.2h0M242.4 94.1h0M240.5 80.0h0M233.9 75.4h0M94.9 135.6h0M203.1 84.1h0M132.0 130.4h0M114.0 129.9h0M142.1 109.1h0M100.2 130.6h0M128.1 111.4h0M237.6 89.4h0M234.2 85.5h0M108.3 129.4h0M166.9 163.7h0M119.1 109.0h0M98.4 175.7h0M112.6 127.8h0M108.5 153.5h0M216.0 96.1h0M239.5 89.0h0M99.4 146.5h0M93.5 130.4h0M252.9 87.7h0M96.9 154.2h0M100.2 152.0h0M107.2 132.2h0M131.4 159.9h0M236.7 92.7h0M237.9 89.3h0M233.5 86.2h0M109.8 146.0h0M132.3 78.2h0M106.6 162.9h0M113.8 125.6h0M105.8 125.4h0M252.0 90.4h0M111.0 144.8h0M106.9 142.8h0M108.6 148.4h0M103.8 122.2h0M99.9 129.0h0M109.9 153.5h0M237.4 91.3h0M104.7 124.7h0M102.7 163.7h0M110.4 126.8h0M100.1 145.7h0M129.7 162.9h0M111.4 131.6h0M241.3 72.9h0M118.8 165.0h0M248.6 75.0h0M119.7 129.7h0M235.9 87.0h0M100.7 142.4h0M112.5 129.4h0M135.5 154.2h0M118.6 109.7h0M115.7 128.3h0M134.3 160.1h0M253.2 86.9h0M106.5 145.9h0M95.1 123.6h0M132.0 123.2h0M117.7 129.8h0M112.2 129.1h0M94.3 134.8h0M118.9 169.5h0M107.5 161.7h0M100.6 128.5h0M114.8 169.6h0M231.5 126.6h0M104.7 181.2h0M110.6 160.0h0M100.9 147.9h0M101.1 122.0h0M236.6 80.2h0M131.2 116.2h0M118.3 131.2h0M118.7 171.8h0M139.3 154.3h0M246.6 74.2h0M108.5 127.0h0M134.4 158.4h0M217.8 109.6h0M139.5 108.6h0M128.3 130.0h0M131.1 163.9h0M150.6 112.8h0M134.8 157.9h0M118.7 111.0h0M96.1 137.5h0M252.1 77.0h0M92.7 128.2h0M137.7 156.1h0M99.4 123.8h0M237.8 70.0h0M110.5 148.3h0M103.8 144.5h0M113.5 134.5h0M111.0 165.2h0M126.5 166.0h0M242.4 93.4h0M98.4 154.1h0M243.0 110.6h0M239.0 103.0h0M99.9 194.0h0M233.5 74.8h0M106.6 131.9h0M97.4 182.2h0M93.3 128.9h0M129.9 64.1h0M114.0 129.6h0M114.5 133.4h0M101.6 185.8h0M108.1 134.5h0M235.9 71.5h0M240.0 86.3h0M123.1 131.0h0M175.0 165.1h0M105.1 121.6h0M127.5 128.4h0M225.0 97.0h0M109.4 125.3h0M97.7 138.7h0M97.6 128.3h0M239.6 69.5h0M240.7 94.6h0M233.9 74.8h0M97.0 153.2h0M247.2 96.0h0M254.3 87.7h0M240.9 80.0h0M147.4 114.3h0M241.7 70.2h0M248.7 77.0h0M114.4 129.8h0M106.7 152.4h0M108.7 140.0h0M96.5 159.1h0M104.4 134.5h0M98.1 128.8h0M205.8 84.4h0M108.5 142.9h0M236.8 85.1h0M124.0 165.8h0M241.3 81.5h0M135.2 155.6h0M249.6 79.3h0M102.0 135.7h0M241.4 76.4h0M128.2 162.8h0M100.3 124.3h0M119.6 129.0h0M110.8 157.9h0M104.4 149.4h0M137.3 151.2h0M242.8 75.8h0M250.7 78.0h0M239.3 105.3h0" stroke="#6CA0FF" stroke-width="1.00" stroke-linecap="round" fill="none"/>
<path d="M107.6 173.2h0M119.3 185.7h0M118.0 192.7h0M107.3 167.1h0M115.1 175.1h0M242.9 73.7h0M100.1 164.7h0M97.9 181.1h0M118.2 192.7h0M104.8 207.9h0M115.0 202.4h0M106.8 180.6h0M119.4 169.0h0M102.3 186.8h0M110.2 184.8h0M97.4 164.4h0M115.0 172.9h0M95.9 181.4h0M112.7 196.8h0M98.8 191.7h0M99.1 199.8h0M114.5 171.6h0M109.9 176.8h0M104.1 169.3h0M110.8 168.8h0M101.2 198.2h0M106.3 173.9h0M117.5 193.1h0M243.7 96.3h0M96.4 183.3h0M244.7 70.9h0M117.2 179.0h0M253.5 89.3h0M103.5 205.6h0M109.1 171.5h0M122.3 167.0h0M117.3 166.1h0M104.9 207.4h0M110.5 203.6h0M97.6 190.0h0M99.3 188.0h0M120.2 165.6h0M101.9 169.7h0M118.1 187.7h0M110.2 202.2h0M95.7 187.1h0M97.2 198.0h0M108.5 168.3h0M102.0 171.9h0M103.8 181.0h0M108.5 183.7h0M113.1 164.3h0M112.8 201.2h0M115.3 169.9h0M107.9 177.7h0M100.5 208.3h0M106.3 205.3h0M241.3 78.5h0M245.5 81.4h0M108.2 186.3h0M120.8 167.7h0M105.3 204.8h0M111.9 182.7h0M118.7 192.8h0M108.4 180.9h0M97.5 198.3h0M105.4 181.5h0M108.8 182.4h0M104.6 169.8h0M98.3 201.6h0M109.0 182.1h0M121.8 170.9h0M107.4 198.4h0M112.1 182.5h0M111.9 194.2h0M105.5 168.0h0M116.2 204.4h0M118.3 193.6h0M106.3 201.5h0M112.5 197.6h0M141.9 151.0h0M109.7 169.0h0M104.7 171.2h0M96.7 199.8h0M108.4 180.5h0M240.4 94.9h0M110.6 203.2h0M111.2 203.6h0M99.6 168.3h0M145.0 97.7h0M113.3 164.4h0M96.1 166.9h0M115.0 188.6h0M105.3 205.2h0M98.9 174.9h0M95.8 166.6h0M235.2 87.7h0M114.0 197.9h0M109.8 164.2h0M248.6 93.9h0M136.8 155.8h0M122.4 169.3h0M116.3 192.2h0M106.7 178.0h0M116.4 165.8h0M113.1 192.0h0M231.5 78.4h0M120.3 176.9h0M120.0 186.5h0M97.9 185.4h0M99.6 187.6h0M104.7 165.4h0M98.5 171.7h0M116.6 183.8h0M118.4 197.8h0M97.8 196.0h0M116.7 185.4h0M105.4 173.3h0M113.2 197.1h0M108.4 184.7h0M115.5 204.7h0M250.8 84.7h0M109.3 169.9h0M119.5 192.8h0M112.1 192.8h0M96.5 191.6h0M121.0 178.9h0M110.9 197.2h0M107.4 167.4h0M102.3 204.9h0M100.2 203.4h0M115.8 199.7h0M101.7 174.2h0M97.4 188.4h0M106.5 184.0h0M138.5 156.5h0M114.6 172.8h0M107.0 200.1h0M103.9 173.6h0M98.4 181.4h0M122.4 175.5h0M121.9 175.9h0M104.1 175.9h0M247.5 81.3h0M98.5 168.3h0M100.3 174.8h0M97.8 166.9h0M100.2 171.1h0M100.4 170.3h0M110.5 188.7h0M104.7 206.1h0M108.1 199.8h0M107.8 201.6h0M104.7 168.4h0M95.7 166.6h0M119.9 176.9h0M103.0 183.1h0M114.7 171.6h0M98.9 202.5h0M103.2 203.9h0M236.1 71.0h0M99.0 184.1h0M112.2 177.9h0M124.3 166.3h0M99.0 190.6h0M103.4 194.7h0M113.2 184.9h0M95.8 180.9h0M103.6 176.7h0M99.7 188.1h0M117.2 168.2h0M98.4 198.8h0M106.6 164.8h0M101.3 169.1h0M124.1 166.7h0M108.6 174.0h0M115.2 175.6h0M129.6 162.4h0M129.4 166.5h0M99.4 197.8h0M125.3 170.8h0M120.1 177.1h0M115.8 175.5h0M231.7 78.0h0M96.1 179.5h0M97.4 191.3h0M246.2 93.2h0M233.8 74.1h0M115.2 199.0h0M115.6 185.0h0M105.3 149.1h0M109.9 172.9h0M117.1 192.4h0M108.9 153.5h0M114.2 179.9h0M99.7 168.8h0M110.6 171.7h0M125.7 167.5h0M106.6 171.7h0M112.1 206.5h0M108.3 203.3h0M99.5 197.9h0M116.1 191.2h0M144.5 133.1h0M107.1 169.5h0M106.6 175.4h0M100.1 208.1h0M135.2 155.6h0M103.2 182.4h0M119.4 182.4h0M120.3 166.4h0M116.0 173.2h0M118.9 193.5h0M109.8 186.0h0M117.6 174.2h0M112.3 166.5h0M102.9 164.5h0M104.5 176.5h0M122.8 166.4h0M113.7 190.5h0M116.1 178.4h0M103.6 199.2h0M105.3 206.4h0M96.5 195.5h0M96.7 192.3h0M117.6 198.4h0M114.9 196.9h0M110.3 194.0h0M115.8 195.1h0M102.3 188.6h0M99.8 194.9h0M119.7 170.1h0M119.5 189.3h0M116.7 164.7h0M246.3 88.1h0M104.9 184.2h0M106.0 167.3h0M112.0 173.7h0M111.2 195.9h0M108.0 169.1h0M113.1 173.8h0M96.4 171.8h0M119.0 171.7h0M112.2 165.9h0M102.3 173.2h0M97.2 167.4h0M113.7 184.9h0M100.8 177.5h0M119.9 177.7h0M105.4 184.8h0M110.3 203.3h0M115.4 195.6h0M112.1 205.1h0M104.3 180.1h0M108.3 208.6h0M109.1 178.1h0M136.7 152.4h0M112.5 184.3h0M99.1 200.0h0M108.2 176.6h0M108.4 175.8h0M106.9 207.5h0M107.0 127.3h0M108.9 207.0h0M116.9 195.3h0M97.8 189.5h0M108.1 169.7h0M117.2 179.7h0M114.8 199.1h0M110.4 178.6h0M115.0 171.1h0M102.9 169.8h0M170.1 134.4h0M238.7 92.3h0M100.9 166.4h0M236.8 72.6h0M249.3 76.0h0M118.1 196.4h0M116.2 179.8h0M107.2 199.6h0M111.9 175.1h0M110.0 172.8h0M97.5 201.7h0M102.9 201.4h0M99.4 173.3h0M243.6 93.1h0M122.9 171.7h0M97.0 186.1h0M117.0 189.0h0M118.3 180.6h0M118.9 188.5h0M119.3 186.1h0M120.5 182.3h0M105.7 175.6h0M115.3 186.1h0M112.8 184.1h0M239.6 86.6h0M118.1 190.5h0M108.7 187.9h0M99.6 171.4h0M133.3 159.5h0M104.1 176.3h0M110.7 190.3h0M98.1 173.7h0M119.4 172.1h0M113.8 179.2h0M121.1 169.1h0M101.4 195.5h0M139.6 150.9h0M103.9 173.1h0M244.9 73.2h0M116.3 164.6h0M113.6 184.8h0M118.6 193.0h0M99.9 187.2h0M112.8 185.2h0M113.3 168.3h0M113.5 178.3h0M114.2 192.0h0M106.4 198.0h0M115.9 203.9h0M117.9 186.4h0M254.0 83.0h0M113.7 181.6h0M110.5 180.0h0M119.4 178.5h0M100.0 187.8h0M103.4 181.6h0M122.6 176.9h0M106.7 140.3h0M105.8 174.9h0M98.8 182.6h0M97.4 172.6h0M104.2 181.4h0M105.4 140.7h0M98.7 203.6h0M116.0 177.6h0M118.6 169.9h0M121.2 173.9h0M127.8 166.7h0M103.4 177.8h0M119.3 189.3h0M114.4 192.1h0M95.9 171.2h0M104.9 204.5h0M105.9 176.8h0M106.6 174.8h0M119.3 192.0h0M111.4 206.0h0M99.1 177.1h0M97.2 191.9h0M249.5 76.0h0M102.6 184.8h0M111.3 188.2h0M110.1 183.0h0M101.0 206.7h0M104.9 197.3h0M104.5 200.9h0M101.2 195.7h0M116.3 182.6h0M97.4 202.1h0M149.2 120.4h0M129.6 166.5h0M96.5 192.9h0M104.4 144.7h0M99.5 204.3h0M113.0 187.3h0M125.6 166.9h0M105.6 208.1h0M116.4 165.5h0M98.5 201.0h0M110.7 167.1h0M103.8 185.1h0M240.6 80.1h0M115.0 204.2h0M96.8 186.2h0M96.0 191.2h0M140.7 150.6h0M114.6 165.2h0M96.6 200.5h0M241.3 90.4h0M111.6 169.8h0M108.6 184.3h0M97.0 181.1h0M106.9 207.8h0M113.5 177.0h0M113.2 168.0h0M111.4 198.8h0M116.7 184.1h0M100.3 178.7h0M129.3 164.5h0M100.2 174.2h0M115.6 187.7h0M107.7 177.4h0M116.5 174.0h0M103.9 165.8h0M116.1 177.5h0M115.2 194.1h0M119.7 171.2h0M111.4 173.7h0M113.5 190.6h0M100.4 171.7h0M96.9 160.0h0M107.2 203.1h0M109.2 168.2h0M107.1 204.6h0M103.5 170.8h0M118.8 180.2h0M120.3 168.1h0M115.4 202.4h0M107.9 200.6h0M113.6 169.7h0M108.5 169.4h0M112.3 182.8h0M110.7 202.9h0M113.5 189.9h0M109.0 183.4h0M113.1 165.7h0M102.4 149.9h0M106.5 200.3h0M110.0 165.7h0M122.8 174.5h0M235.9 75.8h0M101.3 194.3h0M117.8 196.0h0M138.2 151.3h0M113.0 199.1h0M104.0 164.3h0M98.7 167.2h0M102.7 206.5h0M114.5 198.8h0M112.4 195.2h0M248.3 91.2h0M111.4 198.0h0M120.3 166.8h0M96.1 177.4h0M119.1 181.1h0M110.3 177.7h0M101.5 172.3h0M112.0 166.4h0M108.0 177.3h0M115.6 202.7h0M98.6 206.6h0M98.6 198.6h0M100.0 202.5h0M117.6 171.0h0M100.0 198.7h0M237.6 74.0h0M238.6 87.4h0M105.6 170.2h0M117.3 169.1h0M112.9 179.5h0M105.2 168.7h0M108.5 174.9h0M119.2 193.6h0M95.6 171.5h0M250.7 85.6h0M110.8 181.5h0M127.5 165.2h0M106.0 202.0h0M98.8 180.6h0M106.3 201.1h0M114.8 205.4h0M95.8 170.0h0M120.6 173.3h0M123.6 166.6h0M99.4 179.8h0M102.3 175.7h0M121.6 170.7h0M241.4 70.6h0M96.7 195.0h0M93.8 146.9h0M115.1 192.9h0M99.9 166.2h0M103.3 183.9h0M122.0 173.7h0M116.1 181.0h0M118.4 191.3h0M118.8 182.9h0M111.8 199.0h0M109.9 179.3h0M100.2 164.7h0M106.4 177.1h0M120.4 177.3h0M99.3 167.2h0M117.7 183.7h0M97.3 165.2h0M138.6 106.4h0M253.0 79.6h0M101.2 179.4h0M98.7 202.9h0M102.1 198.5h0M114.0 166.8h0M120.0 183.3h0M103.3 180.4h0M111.4 203.8h0M235.5 75.3h0M101.5 203.8h0M120.8 173.8h0M119.0 167.5h0M117.7 188.9h0M101.6 171.2h0M117.1 165.1h0M109.3 185.7h0M96.3 174.1h0M101.6 188.6h0M163.9 125.9h0M126.5 164.0h0M108.6 145.1h0M111.5 173.8h0M97.3 198.8h0M238.6 80.2h0M247.3 85.0h0M98.8 204.6h0M100.9 206.0h0M112.0 207.3h0M98.7 165.2h0M157.4 135.7h0M117.2 171.4h0M103.7 194.3h0M132.0 160.7h0M109.6 173.5h0M140.6 150.6h0M117.9 173.6h0M120.7 172.3h0M109.5 186.3h0M245.5 73.7h0M112.9 181.8h0M106.5 185.4h0M95.7 183.9h0M100.0 179.6h0M101.4 184.4h0M110.9 188.4h0M98.2 167.6h0M106.0 172.6h0M106.7 164.8h0" stroke="#5ED8AE" stroke-width="1.00" stroke-linecap="round" fill="none"/>
<path d="M118.6 103.1h0M111.2 103.0h0M126.4 90.2h0M115.1 97.2h0M121.9 112.2h0M112.6 98.9h0M118.0 103.7h0M115.7 100.7h0M110.4 99.0h0M125.7 89.7h0M125.9 88.0h0M123.8 94.1h0M123.3 92.9h0M113.9 109.5h0M132.5 113.0h0M135.2 115.3h0M127.6 111.2h0M117.5 102.3h0M114.4 110.1h0M111.9 94.6h0M112.9 107.5h0M111.8 107.0h0M118.7 106.1h0M121.2 99.0h0M123.7 95.2h0M112.7 101.1h0M117.6 102.2h0M136.3 113.5h0M127.2 113.7h0M120.9 97.3h0M134.2 73.7h0M109.4 104.3h0M114.0 98.5h0M129.5 113.4h0M109.9 103.9h0M123.0 93.4h0M119.1 103.2h0M111.4 107.1h0M133.4 110.4h0M113.3 98.0h0M115.0 105.3h0M119.0 96.5h0M133.6 125.8h0M120.5 103.1h0M110.8 103.6h0M106.3 160.5h0M113.9 106.7h0M118.7 107.4h0M116.1 103.7h0M125.3 89.2h0M114.0 95.2h0M112.9 97.5h0M119.2 100.7h0M131.5 110.9h0M115.3 94.8h0M114.9 99.5h0M99.9 128.9h0M139.4 124.9h0M131.5 112.8h0M118.3 106.4h0M116.4 100.7h0M112.7 97.0h0M115.3 96.8h0M110.3 104.5h0M108.8 187.3h0M112.5 107.2h0M125.0 108.0h0M132.3 80.8h0M104.0 124.1h0M111.3 101.6h0M111.5 96.8h0M111.7 97.4h0M114.3 107.5h0M114.4 94.3h0M122.3 94.5h0M114.8 109.8h0M99.9 122.0h0M119.6 99.5h0M121.2 95.7h0M116.0 97.9h0M124.7 110.2h0M137.9 110.0h0M114.9 99.4h0M127.1 112.3h0M123.7 107.7h0M116.0 105.1h0M110.9 104.5h0M120.2 101.7h0M113.0 97.4h0M122.2 93.4h0M125.4 109.9h0M120.2 110.5h0M118.3 105.7h0M115.9 105.8h0M121.0 98.0h0M132.0 111.2h0M117.8 101.6h0M124.1 114.0h0M118.6 106.0h0M124.7 63.7h0M123.4 112.5h0M128.3 68.0h0M122.1 91.2h0M118.7 100.3h0M119.6 106.7h0M152.6 120.6h0M118.6 96.2h0M115.5 97.3h0M120.1 102.4h0M144.4 121.1h0M119.2 113.0h0M111.4 105.6h0M110.9 105.7h0M112.6 97.6h0M118.9 109.1h0M111.0 97.2h0M112.0 94.8h0M153.6 120.3h0M114.2 95.0h0M127.9 89.2h0M115.8 97.8h0M114.4 103.2h0M114.5 96.3h0M136.4 126.2h0M116.3 100.1h0M124.3 107.6h0M120.5 97.3h0M125.8 113.6h0M112.3 105.1h0M110.0 97.7h0M112.5 101.1h0M121.9 110.9h0M136.7 107.9h0M111.5 99.3h0M113.6 104.3h0M128.0 122.9h0M115.3 102.8h0M115.6 105.7h0M111.2 98.1h0M117.1 97.6h0M103.2 160.5h0M125.9 88.2h0M138.1 107.9h0M112.3 110.4h0M110.0 101.0h0M110.7 107.5h0M113.0 94.9h0M120.3 97.2h0M121.2 98.0h0M123.1 111.2h0M137.4 119.6h0M116.6 101.8h0M122.8 109.7h0M119.6 113.8h0M123.2 92.9h0M108.0 143.5h0M109.9 105.5h0M119.1 107.1h0M116.6 97.9h0M121.8 89.8h0M115.0 110.2h0M133.6 110.9h0M141.4 122.5h0M126.9 68.1h0M114.5 104.3h0M119.4 105.9h0M126.5 113.5h0M120.4 102.0h0M109.7 100.7h0M120.2 94.0h0M122.0 112.8h0M116.9 104.1h0M119.0 109.8h0M112.9 109.6h0M141.8 125.3h0M112.3 109.2h0M117.2 96.6h0M115.0 99.7h0M121.8 112.9h0M147.7 171.4h0M110.7 97.1h0M110.5 100.7h0M119.2 98.9h0M127.6 85.2h0M140.5 118.8h0M116.1 99.7h0M116.9 109.5h0M124.1 107.5h0M126.0 109.9h0M115.3 104.8h0M115.6 102.2h0M115.3 94.8h0M115.5 96.0h0M143.2 110.2h0M120.8 100.1h0M123.8 107.1h0M129.8 82.8h0M117.7 98.8h0M133.0 110.3h0M116.7 98.2h0M117.7 102.1h0M112.4 103.5h0M119.0 97.2h0M111.4 104.6h0M115.0 94.6h0M112.5 104.7h0M127.7 118.3h0M116.3 100.3h0M127.7 85.8h0M129.6 87.1h0M119.2 113.4h0M127.1 88.6h0M124.7 67.0h0M120.5 102.5h0M115.2 100.6h0M119.4 106.0h0M116.3 94.8h0M118.2 105.6h0M118.2 106.5h0M120.2 102.4h0M112.2 99.9h0M126.0 91.5h0M123.4 88.8h0M143.1 126.3h0M140.2 118.1h0M110.9 100.3h0M114.1 105.1h0M122.1 92.4h0M117.7 95.0h0M130.4 117.3h0M120.3 99.1h0M118.3 96.0h0M117.9 94.5h0M146.1 161.7h0M113.5 104.9h0M99.5 164.2h0M119.3 96.9h0M117.8 113.1h0M119.9 105.7h0M117.6 100.6h0M132.4 123.2h0M143.5 118.1h0M139.0 127.4h0M113.2 103.1h0M120.8 97.2h0M117.8 106.6h0M121.7 107.6h0M106.3 123.8h0M122.8 112.2h0M126.4 123.0h0M117.8 105.8h0M118.6 106.6h0M117.1 106.2h0M127.0 113.7h0M116.4 104.3h0M113.8 96.8h0M117.7 97.8h0M131.0 62.5h0M117.7 106.5h0M114.7 100.6h0M138.9 127.4h0M117.7 108.5h0M134.6 112.6h0M119.7 106.2h0M114.4 98.3h0M109.3 157.2h0M120.2 99.3h0M117.0 106.5h0M113.0 96.8h0M110.5 95.8h0M113.9 98.2h0M118.9 104.7h0M118.6 102.2h0M119.2 95.3h0M121.5 114.9h0M136.2 118.7h0M118.2 104.4h0M135.4 123.6h0M109.6 103.6h0M111.1 103.5h0M116.0 96.9h0M115.7 108.0h0M115.3 99.9h0M115.0 97.2h0M115.2 108.3h0M116.9 108.2h0M120.0 112.5h0M114.0 99.6h0M117.7 94.7h0M117.1 109.7h0M135.7 114.6h0M120.6 94.7h0M133.7 110.4h0M119.2 104.6h0M125.0 90.1h0M145.3 110.4h0M118.8 98.4h0M104.6 162.0h0M127.1 89.2h0M119.9 105.4h0M116.5 102.9h0M121.5 112.5h0M119.0 103.1h0M118.3 94.9h0M115.6 104.4h0M120.0 98.7h0M112.6 96.6h0M111.6 109.5h0M114.6 100.3h0M123.1 112.7h0M113.5 100.5h0M117.5 108.3h0M120.3 114.7h0M118.0 97.7h0M110.9 97.6h0M114.2 100.4h0M143.1 126.9h0M115.7 108.0h0M116.5 103.5h0M114.8 108.4h0M122.5 114.3h0M136.7 75.3h0M122.6 109.8h0M117.5 101.4h0M119.8 101.8h0M127.6 81.8h0M109.7 99.6h0M157.2 115.5h0M112.2 106.4h0M154.0 120.4h0M111.7 97.7h0M145.1 110.3h0M109.5 105.4h0M116.4 95.7h0M95.1 149.9h0M119.7 114.3h0M114.2 96.2h0M119.0 112.4h0M115.4 101.9h0M146.2 114.6h0M123.7 92.4h0M114.9 99.9h0M146.9 117.1h0M130.4 79.9h0M120.1 115.5h0M114.0 109.6h0M100.8 135.9h0M129.1 111.1h0M120.2 111.1h0M145.0 115.1h0M127.3 111.4h0M115.5 108.4h0M114.0 98.2h0M114.2 109.7h0M110.3 103.9h0M113.7 106.2h0M140.5 125.0h0M112.4 98.8h0M113.4 104.9h0M117.7 100.2h0M114.4 100.9h0M118.9 110.7h0M130.6 107.2h0M125.9 109.4h0M112.3 108.2h0M125.1 91.6h0M98.1 129.8h0M115.7 98.2h0M113.6 99.7h0M142.8 116.0h0M117.8 94.6h0M104.5 153.8h0M114.6 108.8h0M115.5 96.3h0M119.1 94.5h0M121.3 106.5h0M128.4 114.9h0M111.6 98.4h0M117.3 108.1h0M118.5 96.7h0M112.4 99.0h0M121.1 98.1h0M117.7 111.3h0M117.7 107.4h0M111.1 103.6h0M122.4 113.2h0M112.4 96.8h0M105.0 133.9h0M111.0 100.4h0M116.9 94.2h0M112.4 109.1h0M130.0 113.0h0M120.5 99.8h0M124.4 107.9h0M115.1 96.7h0M138.3 76.3h0" stroke="#EC706E" stroke-width="1.00" stroke-linecap="round" fill="none"/>
<path d="M112.0 130.1h0M129.1 130.4h0M108.1 122.4h0M134.7 158.1h0M114.4 132.6h0M134.7 158.0h0M108.3 185.9h0M120.3 127.2h0M101.2 198.7h0M132.5 130.4h0M107.0 127.1h0M104.1 167.7h0M122.9 131.6h0M112.5 134.0h0M130.1 130.9h0M140.2 149.3h0M99.2 191.2h0M117.8 165.9h0M123.3 130.2h0M118.0 130.5h0M122.2 166.7h0M115.2 190.1h0M105.7 159.7h0M104.6 128.7h0M113.4 134.7h0M104.8 164.1h0M96.8 135.2h0M104.1 183.8h0M97.9 180.2h0M104.9 173.6h0M102.1 153.3h0M103.8 207.3h0M96.8 188.7h0M113.0 135.1h0M117.2 168.5h0M113.9 131.3h0M119.1 169.4h0M122.3 169.9h0M99.7 142.5h0M115.3 169.0h0M127.9 126.0h0M121.4 168.8h0M105.9 127.0h0M108.7 126.3h0M120.1 129.7h0M108.8 129.3h0M121.9 130.7h0M101.8 131.6h0M102.9 175.1h0M112.0 201.4h0M133.1 157.4h0M100.8 138.6h0M112.5 138.8h0M120.2 185.3h0M109.0 149.1h0M119.5 189.8h0M102.2 174.4h0M126.2 168.2h0M135.4 154.1h0M96.3 141.5h0M95.9 165.7h0M107.0 131.7h0M102.2 197.6h0M116.7 194.4h0M123.1 168.0h0M131.1 129.1h0M133.7 162.6h0M126.7 130.8h0M106.5 130.8h0M104.0 203.2h0M98.1 189.0h0M116.3 197.7h0M115.3 168.4h0M123.5 127.7h0M119.9 129.5h0M127.5 163.6h0M136.2 154.9h0M98.6 146.9h0M127.9 126.5h0M123.0 129.1h0M121.6 128.6h0M118.7 193.8h0M102.7 182.6h0M120.3 169.8h0M119.6 169.0h0M98.3 143.6h0M116.3 171.4h0M106.5 199.6h0M98.6 147.6h0M97.3 151.5h0M121.7 173.5h0M137.8 155.8h0M110.0 162.0h0M108.2 185.6h0M115.2 132.4h0M100.9 165.2h0M99.4 164.9h0M98.8 120.2h0M127.2 127.3h0M130.9 159.4h0M133.0 158.9h0M131.8 129.6h0M114.5 169.5h0M138.7 152.7h0M113.7 164.5h0M126.7 130.9h0M104.7 198.4h0M99.8 177.0h0" stroke="#DA72F8" stroke-width="1.00" stroke-linecap="round" fill="none"/>
<path d="M113.0 96.5h0M112.4 101.0h0M112.0 104.6h0M115.0 103.4h0M109.5 104.3h0M114.9 96.6h0M121.1 97.4h0" stroke="#4EC6E2" stroke-width="1.00" stroke-linecap="round" fill="none"/>
<g font-family="Liberation Sans, sans-serif" font-size="4.75" fill="#000">
<text x="111.9" y="75.0">Choroid_Plexus</text>
<text x="112.9" y="105.3">Astroglia</text>
<text x="134.3" y="105.1">Ventral_Progenitors</text>
<text x="103.2" y="111.9">OPC</text>
<text x="100.8" y="124.4">Unknown</text>
<text x="123.8" y="130.6">Radial_Glia</text>
<text x="141.5" y="159.7">GABAergic_Neurons</text>
<text x="88.3" y="184.6">Intermediate_Progenitors</text>
<text x="194.9" y="108.3">Glutamatergic_Neurons</text>
</g>
<text x="375.8" y="18.2" font-family="Liberation Sans, sans-serif" font-weight="bold" font-size="13.6" fill="#000">B</text>
<path d="M407.8 3V219.2H616.9" stroke="#3a3a3a" stroke-width="0.75" fill="none"/>
<path d="M406.3 213.0H407.8M406.3 170.4H407.8M406.3 128.0H407.8M406.3 85.5H407.8M406.3 42.7H407.8M453.6 219.2V220.7M501.6 219.2V220.7M549.6 219.2V220.7M597.5 219.2V220.7" stroke="#3a3a3a" stroke-width="0.6"/>
<g font-family="Liberation Sans, sans-serif" font-size="5.8" fill="#000">
<text x="405.4" y="214.9" text-anchor="end">−10</text>
<text x="405.4" y="172.3" text-anchor="end">−5</text>
<text x="405.4" y="129.9" text-anchor="end">0</text>
<text x="405.4" y="87.4" text-anchor="end">5</text>
<text x="405.4" y="44.6" text-anchor="end">10</text>
<text x="453.6" y="225.8" text-anchor="middle">−5</text>
<text x="501.6" y="225.8" text-anchor="middle">0</text>
<text x="549.6" y="225.8" text-anchor="middle">5</text>
<text x="597.5" y="225.8" text-anchor="middle">10</text>
</g>
<text x="519.8" y="234.9" font-family="Liberation Sans, sans-serif" font-size="8.3" fill="#000" text-anchor="middle">UMAP_1</text>
<text transform="translate(395.5 111) rotate(-90)" font-family="Liberation Sans, sans-serif" font-size="6.1" fill="#000" text-anchor="middle">UMAP_2</text>
<g font-family="Liberation Sans, sans-serif" font-size="5.6" fill="#000">
<circle cx="626.1" cy="109.2" r="1.75" fill="#EC736C"/>
<text x="632.9" y="111.2">MHS-P2~</text>
<circle cx="626.1" cy="116.1" r="1.75" fill="#56D2C8"/>
<text x="632.9" y="118.1">Ctrl1~</text>
</g>
<path d="M575.0 125.0h0M435.6 175.4h0M584.6 85.1h0M581.9 74.6h0M593.4 117.1h0M556.2 82.9h0M448.4 105.4h0M583.9 92.5h0M565.2 107.0h0M596.8 77.3h0M582.0 98.8h0M569.6 99.8h0M487.5 147.0h0M440.7 132.4h0M449.2 188.0h0M580.7 108.2h0M548.3 95.5h0M561.6 78.7h0M506.6 145.1h0M574.4 128.2h0M447.8 194.9h0M501.1 151.2h0M435.2 169.3h0M511.4 161.1h0M566.7 117.3h0M444.3 177.3h0M505.8 179.8h0M433.4 126.9h0M424.9 136.8h0M595.8 102.4h0M458.8 64.8h0M442.4 135.1h0M502.9 153.4h0M460.6 132.7h0M590.4 128.1h0M499.1 142.4h0M500.4 144.8h0M584.8 104.9h0M585.4 75.8h0M483.0 158.7h0M582.8 129.2h0M593.4 76.0h0M552.8 80.1h0M484.5 132.3h0M424.3 183.4h0M421.5 143.1h0M432.2 29.4h0M578.0 122.6h0M601.9 82.7h0M581.5 114.6h0M541.5 95.5h0M485.0 119.2h0M565.6 119.0h0M421.7 131.1h0M436.1 124.7h0M572.1 121.0h0M494.1 118.7h0M521.8 140.6h0M425.6 159.0h0M544.2 95.8h0M483.6 122.6h0M495.8 150.9h0M480.0 142.4h0M521.6 147.4h0M421.0 123.7h0M487.5 149.0h0M563.3 93.6h0M423.3 126.1h0M432.3 210.1h0M443.6 134.9h0M449.4 171.3h0M547.7 101.0h0M429.7 129.4h0M549.9 90.4h0M595.0 86.8h0M467.2 160.2h0M492.0 117.7h0M431.0 206.7h0M429.4 189.0h0M423.6 166.7h0M425.1 128.9h0M434.7 26.5h0M578.9 75.3h0M553.9 94.4h0M587.0 106.6h0M517.6 153.7h0M471.8 156.2h0M444.3 175.1h0M516.1 142.4h0M495.6 138.2h0M571.1 125.3h0M487.8 121.3h0M593.1 75.6h0M527.7 144.7h0M437.4 127.0h0M441.5 199.0h0M506.8 153.6h0M425.4 193.9h0M425.7 202.0h0M469.3 128.5h0M553.9 78.0h0M465.4 163.3h0M427.1 123.6h0M573.0 118.0h0M436.4 188.1h0M443.6 173.8h0M470.1 159.8h0M438.2 179.0h0M559.9 103.4h0M547.9 88.8h0M572.7 104.3h0M493.4 145.2h0M446.1 135.8h0M499.1 141.3h0M503.8 154.8h0M423.6 155.7h0M441.5 196.8h0M516.1 149.4h0M481.1 132.7h0M428.3 150.3h0M428.1 200.9h0M423.3 131.0h0M558.8 87.2h0M559.0 87.3h0M576.3 120.1h0M493.3 135.6h0M557.7 87.8h0M575.5 127.9h0M460.3 131.3h0M480.2 154.9h0M428.1 200.4h0M418.2 128.8h0M434.0 176.1h0M484.0 126.8h0M492.9 144.1h0M464.6 132.7h0M491.1 121.1h0M436.0 124.0h0M517.1 154.5h0M443.0 111.8h0M427.1 137.5h0M592.0 103.7h0M516.7 156.3h0M422.5 185.5h0M582.4 75.8h0M440.2 143.8h0M592.0 114.8h0M561.0 86.1h0M437.6 201.5h0M513.6 154.4h0M582.1 103.9h0M460.9 165.2h0M492.9 157.6h0M464.6 115.3h0M595.5 73.2h0M578.0 99.6h0M589.4 107.8h0M578.0 92.2h0M446.8 181.2h0M605.7 91.6h0M430.8 207.8h0M435.6 141.5h0M458.9 113.5h0M553.8 91.8h0M437.3 173.8h0M562.3 107.1h0M574.0 119.2h0M511.1 139.5h0M514.6 156.8h0M478.6 125.6h0M574.8 102.6h0M546.0 89.6h0M572.8 76.8h0M433.4 160.5h0M574.3 99.0h0M566.7 119.4h0M546.2 91.4h0M487.6 119.6h0M554.8 92.1h0M439.0 205.8h0M604.6 94.1h0M568.9 120.7h0M433.4 129.3h0M443.3 187.6h0M424.6 144.0h0M434.5 153.2h0M425.9 190.2h0M507.5 156.6h0M450.2 167.9h0M581.3 102.8h0M588.6 114.2h0M585.4 119.4h0M519.4 150.8h0M582.2 116.8h0M434.8 129.4h0M512.6 156.4h0M481.1 113.2h0M588.9 109.3h0M519.6 144.2h0M452.8 170.1h0M566.0 115.7h0M493.0 124.5h0M476.4 114.1h0M428.9 171.9h0M487.0 141.7h0M440.4 109.3h0M447.8 189.9h0M573.0 103.8h0M448.5 108.4h0M526.1 140.8h0M565.9 93.3h0M488.5 159.1h0M583.8 117.1h0M435.5 148.6h0M587.7 127.9h0M502.9 141.5h0M424.2 156.9h0M430.6 124.5h0M583.3 120.3h0M443.3 98.7h0M475.7 120.1h0M494.2 120.1h0M451.5 101.4h0M584.9 119.9h0M438.6 204.4h0M445.5 104.1h0M497.8 155.2h0M438.8 129.5h0M431.5 169.9h0M568.4 99.8h0M577.8 77.7h0M424.4 149.3h0M481.7 122.9h0M421.7 189.3h0M553.3 94.9h0M572.6 98.5h0M454.7 95.4h0M550.6 95.6h0M469.4 161.1h0M501.6 159.7h0M585.8 76.3h0M476.3 152.1h0M594.9 94.8h0M493.4 133.8h0M444.7 104.0h0M559.8 113.1h0M585.0 108.7h0M572.7 101.9h0M588.0 79.6h0M553.2 92.9h0M509.4 141.4h0M431.9 162.7h0M564.3 115.5h0M474.9 126.6h0M443.4 126.7h0M480.2 118.9h0M498.4 153.8h0M483.7 114.7h0M584.4 117.8h0M598.2 97.7h0M591.4 95.3h0M591.9 109.9h0M543.6 95.4h0M550.4 86.2h0M582.7 120.5h0M588.0 105.6h0M514.6 149.0h0M473.7 152.4h0M581.6 86.6h0M460.6 130.3h0M469.1 115.8h0M458.4 116.0h0M436.6 185.9h0M520.0 142.8h0M550.1 103.4h0M431.9 31.3h0M442.0 166.6h0M436.3 26.3h0M495.0 162.2h0M491.5 144.9h0M441.7 203.4h0M595.3 97.2h0M484.5 119.6h0M578.3 111.3h0M604.2 81.1h0M555.8 107.7h0M579.7 91.5h0M567.8 115.8h0M444.6 172.2h0M583.6 128.3h0M590.1 107.6h0M586.7 124.8h0M587.8 124.1h0M488.3 128.4h0M453.4 133.9h0M466.4 163.1h0M590.6 77.0h0M432.2 128.0h0M552.1 96.0h0M435.9 180.0h0M555.4 77.9h0M478.5 128.7h0M484.0 128.0h0M427.3 210.5h0M427.5 196.2h0M495.2 142.9h0M572.7 117.7h0M502.6 162.3h0M496.4 142.0h0M426.8 161.0h0M582.1 77.4h0M472.5 129.3h0M555.1 79.1h0M475.2 118.5h0M551.1 92.5h0M461.1 115.7h0M591.2 125.7h0M557.5 94.3h0M567.4 86.3h0M497.0 144.0h0M562.5 110.8h0M559.0 80.9h0M437.1 175.8h0M473.6 123.1h0M508.0 138.7h0M582.4 110.4h0M557.1 106.0h0M442.6 135.7h0M568.0 122.7h0M481.4 124.1h0M440.6 98.2h0M604.3 81.8h0M544.4 97.9h0M449.0 105.5h0M562.3 109.9h0M440.0 109.4h0M431.1 28.2h0M439.0 198.3h0M428.0 161.6h0M591.5 121.5h0M465.6 112.8h0M427.4 131.4h0M550.1 95.4h0M521.4 151.9h0M595.3 94.6h0M444.2 107.6h0M426.9 163.3h0M425.8 193.4h0M563.1 105.1h0M591.5 80.9h0M553.2 98.9h0M496.0 133.0h0M570.3 110.9h0M503.4 141.9h0M543.2 96.9h0M591.4 112.9h0M432.6 153.1h0M507.9 169.3h0M427.0 130.9h0M474.1 154.8h0M516.0 138.2h0M585.0 84.3h0M588.3 96.4h0M494.3 123.9h0M478.4 147.2h0M451.0 170.0h0M555.2 89.0h0M425.7 159.0h0M523.1 143.0h0M509.8 143.2h0M597.8 99.9h0M584.5 108.3h0M427.6 163.3h0M545.4 86.6h0M497.1 139.6h0M475.0 154.1h0M565.8 108.7h0M437.8 132.0h0M500.8 154.9h0M477.6 125.6h0M588.6 88.5h0M578.8 111.4h0M463.9 126.1h0M568.2 119.1h0M433.0 207.0h0M424.3 165.9h0M440.6 184.9h0M499.2 158.9h0M448.5 195.0h0M481.3 150.1h0M474.7 111.4h0M443.0 109.0h0M583.2 75.7h0M571.6 96.8h0M480.5 140.7h0M423.8 200.5h0M499.2 149.0h0M447.5 168.2h0M423.3 153.0h0M483.1 135.3h0M439.9 99.2h0M440.0 134.1h0M456.3 91.5h0M492.9 141.2h0M483.8 134.3h0M435.5 154.7h0M588.3 94.5h0M557.3 84.1h0M487.1 146.9h0M441.8 99.8h0M564.8 85.3h0M481.3 156.4h0M490.7 128.3h0M437.0 184.7h0M591.0 122.3h0M544.1 88.0h0M426.6 132.8h0M432.7 30.9h0M499.8 160.9h0M482.1 122.3h0M424.7 203.8h0M450.0 131.5h0M484.0 136.0h0M517.2 152.2h0M574.4 87.2h0M568.1 95.8h0M444.1 101.8h0M452.1 173.1h0M502.9 151.1h0M515.9 158.0h0M507.9 141.6h0M521.1 139.8h0M490.9 136.7h0M559.2 87.8h0M575.8 87.1h0M583.1 127.2h0M517.0 154.1h0M592.5 109.1h0M524.7 149.6h0M435.4 200.6h0M493.1 162.2h0M546.6 84.2h0M448.0 108.7h0M502.6 143.8h0M566.2 118.2h0M579.3 78.4h0M490.1 137.7h0M583.7 111.1h0M440.8 184.8h0M516.0 153.7h0M581.6 98.0h0M465.6 115.9h0M564.7 80.8h0M435.5 178.3h0M559.0 91.1h0M440.6 196.4h0M510.6 152.7h0M572.4 97.2h0M548.8 92.1h0M517.8 142.5h0M433.1 170.2h0M497.6 162.3h0M487.0 116.5h0M469.9 123.9h0M551.0 104.5h0M521.1 143.2h0M570.5 103.9h0M444.6 99.2h0M446.1 110.2h0M521.9 149.1h0M434.1 203.7h0M427.0 140.3h0M550.4 96.5h0M467.4 125.5h0M588.8 118.0h0M474.1 124.2h0M473.6 112.7h0M574.3 104.2h0M592.8 123.4h0M552.7 92.8h0M425.8 156.8h0M475.6 153.2h0M477.3 120.3h0M493.1 149.0h0M482.4 124.3h0M547.1 95.2h0M557.8 79.6h0M438.0 171.2h0M432.2 173.4h0M422.8 202.0h0M527.2 144.2h0M492.9 155.6h0M424.4 151.2h0M599.9 96.3h0M438.8 106.8h0M559.5 95.0h0M586.0 112.7h0M550.6 103.6h0M436.6 182.7h0M485.7 144.4h0M590.4 97.3h0M470.3 110.8h0M439.1 205.4h0M579.8 75.9h0M566.1 117.1h0M572.4 111.4h0M476.7 111.2h0M467.8 111.6h0M441.3 109.5h0M434.6 125.5h0M587.6 90.1h0M439.8 205.8h0M498.8 148.8h0M549.8 102.5h0M462.5 85.2h0M451.6 172.5h0M431.4 126.5h0M453.9 132.5h0M424.1 165.7h0M479.7 157.1h0M479.3 100.0h0M585.8 115.6h0M448.5 168.7h0M493.0 143.3h0M508.4 151.3h0M578.0 130.3h0M442.2 166.7h0M480.4 125.8h0M442.6 136.5h0M490.4 119.9h0M485.4 154.4h0M451.8 114.1h0M444.2 190.8h0M563.0 94.0h0M571.8 78.1h0M456.5 130.8h0M504.2 144.2h0M598.3 83.7h0M586.6 110.7h0M493.6 148.4h0M458.9 66.7h0M432.9 207.4h0M425.5 177.2h0M579.6 112.6h0M494.4 120.5h0M567.8 123.0h0M498.5 132.8h0M477.5 114.6h0M523.1 152.9h0M593.8 112.6h0M429.3 126.0h0M443.4 109.9h0M429.5 165.5h0M443.0 200.1h0M579.6 121.4h0M501.3 152.2h0M549.8 98.0h0M562.7 111.3h0M417.7 131.4h0M438.2 166.4h0M579.0 88.3h0M570.9 108.1h0M600.1 96.2h0M546.0 86.5h0M469.7 158.1h0M428.5 159.4h0M435.9 27.9h0M567.2 108.4h0M563.7 78.0h0M572.1 101.2h0M452.9 171.5h0M551.1 95.1h0M586.3 80.8h0M491.4 160.0h0M466.6 121.9h0M513.0 150.4h0M445.8 194.4h0M558.9 86.0h0M426.6 124.3h0M596.9 73.9h0M505.5 165.5h0M548.5 90.0h0M495.2 143.3h0M506.0 140.7h0M523.2 145.4h0M587.7 116.5h0M447.7 132.8h0M479.0 146.3h0M544.1 88.2h0M491.9 152.4h0M439.7 197.1h0M434.5 180.3h0M418.0 129.9h0M562.8 99.4h0M564.2 115.3h0M471.7 116.7h0M558.7 85.5h0M599.3 95.0h0M516.9 148.6h0M500.8 163.2h0M445.8 168.1h0M585.1 74.2h0M496.8 142.2h0M444.2 131.5h0M494.6 149.1h0M441.1 129.7h0M482.8 121.1h0M501.6 156.6h0M556.6 94.5h0M432.8 140.9h0M591.4 109.8h0M586.1 111.9h0M492.3 135.7h0M563.0 93.0h0M503.8 141.8h0M507.3 167.5h0M519.8 140.5h0M476.3 122.3h0M451.5 98.1h0M585.1 80.9h0M505.9 158.3h0M569.5 124.1h0M506.9 156.9h0M590.2 115.4h0M437.7 143.7h0M599.6 93.0h0M445.3 100.2h0M505.0 143.5h0M485.8 151.2h0M455.4 120.6h0M584.9 121.3h0M580.1 80.8h0M487.7 148.1h0M419.2 125.5h0M570.0 122.3h0M556.0 91.6h0M602.0 90.3h0M470.0 116.7h0M510.2 160.0h0M591.1 100.4h0M455.5 112.5h0M495.8 150.4h0M482.8 153.9h0M517.2 157.1h0M484.9 122.9h0M575.4 109.1h0M564.9 116.3h0M466.3 125.2h0M494.4 143.0h0M421.5 137.9h0M588.2 79.1h0M573.7 77.2h0M593.0 119.0h0M566.0 102.6h0M432.4 153.5h0M578.3 102.7h0M471.0 112.3h0M450.4 179.1h0M521.0 154.5h0M450.0 188.8h0M559.4 90.6h0M585.4 126.7h0M497.6 170.1h0M570.3 100.1h0M511.4 138.5h0M554.4 83.6h0M424.2 187.6h0M564.2 102.3h0M444.1 101.7h0M493.5 166.1h0M426.3 189.9h0M565.6 104.2h0M586.5 91.4h0M458.4 114.6h0M509.4 160.3h0M432.2 167.7h0M472.3 152.8h0M425.0 174.0h0M472.9 127.9h0M517.9 148.6h0M446.1 186.0h0M480.8 120.8h0M583.0 107.8h0M485.6 146.1h0M510.6 145.9h0M440.1 131.8h0M556.6 100.1h0M427.4 144.4h0M572.8 110.4h0M432.0 166.6h0M521.3 147.8h0M424.1 198.2h0M560.9 84.2h0M424.8 162.8h0M586.8 72.1h0M512.0 149.9h0M433.1 175.5h0M444.4 192.3h0M468.6 159.4h0M483.6 154.8h0M486.3 132.3h0M566.2 87.5h0M560.1 100.0h0M478.3 129.3h0M594.6 97.3h0M445.4 107.5h0M548.2 81.8h0M565.4 96.8h0M503.7 173.3h0M556.2 83.0h0M428.5 166.7h0M522.4 138.9h0M433.4 161.9h0M430.2 117.9h0M439.4 106.8h0M585.2 81.7h0M529.2 148.9h0M583.2 112.3h0M466.5 129.5h0M504.3 142.8h0M450.3 104.0h0M529.3 143.7h0M557.2 82.2h0M511.2 150.1h0M468.6 131.2h0M586.5 123.1h0M578.7 92.9h0M589.4 118.1h0M441.9 99.7h0M444.8 206.9h0M521.2 146.6h0M566.0 117.7h0M572.2 123.4h0M576.4 118.5h0M427.5 157.6h0M566.3 84.8h0M500.3 142.9h0M572.6 110.0h0M579.4 121.1h0M594.7 74.2h0M432.1 131.0h0M449.5 169.8h0M466.3 125.1h0M510.0 143.1h0M575.5 119.4h0M437.6 172.2h0M562.7 108.8h0M517.8 139.7h0M581.4 129.7h0M585.4 82.1h0M424.5 123.2h0M571.0 124.4h0M571.8 114.4h0M566.2 109.1h0M422.6 193.9h0M489.8 150.1h0M512.5 148.1h0M501.2 161.5h0M502.2 180.4h0M563.1 102.7h0M572.7 111.8h0M439.5 199.4h0M450.3 112.8h0M445.5 196.4h0M547.3 87.6h0M551.0 92.4h0M437.6 179.6h0M582.9 130.0h0M567.5 90.8h0M429.5 207.1h0M458.8 166.4h0M563.2 110.7h0M492.7 152.6h0M445.3 108.1h0M443.2 134.1h0M427.0 205.6h0M436.8 129.7h0M504.9 156.9h0M511.4 165.6h0M576.5 121.7h0M488.6 137.6h0M542.0 96.9h0M454.8 64.3h0M509.5 154.2h0M566.8 114.5h0M484.0 153.9h0M492.5 124.2h0M589.9 120.1h0M435.6 147.9h0M464.1 113.5h0M508.2 176.1h0M449.0 168.2h0M471.6 158.7h0M580.5 113.3h0M555.8 84.9h0M434.8 202.3h0M431.2 175.9h0M478.4 112.9h0M582.3 80.9h0M515.5 155.0h0M579.6 93.8h0M575.8 127.1h0M560.5 81.6h0M424.9 183.6h0M559.6 81.6h0M560.0 78.9h0M452.9 177.7h0M501.6 161.6h0M517.8 140.1h0M464.5 160.2h0M452.3 178.1h0M552.8 88.3h0M551.7 102.8h0M443.0 133.2h0M514.1 149.1h0M575.5 83.8h0M596.9 78.2h0M583.1 124.0h0M505.4 162.0h0M547.2 87.0h0M567.9 93.2h0M542.8 95.8h0M504.7 160.2h0M604.5 84.7h0M450.1 132.0h0M509.7 152.6h0M448.4 108.3h0M584.5 111.4h0M425.0 170.6h0M427.1 177.1h0M523.1 144.2h0M442.5 167.5h0M588.3 104.7h0M544.6 88.5h0M424.2 169.1h0M547.0 95.0h0M487.4 151.5h0M564.0 102.5h0M500.8 172.6h0M488.8 135.8h0M590.3 94.2h0M467.0 123.3h0M507.9 149.0h0M422.9 137.5h0M427.2 172.6h0M454.7 91.3h0M579.1 78.4h0M516.2 151.5h0M545.7 87.5h0M584.1 106.3h0M542.7 93.9h0M501.1 168.8h0M495.5 153.3h0M431.5 186.0h0M506.9 164.6h0M590.1 74.6h0M475.1 116.4h0M573.6 102.4h0M424.3 182.4h0M578.8 128.4h0M429.2 155.6h0M569.5 111.4h0M445.4 110.0h0M586.8 105.5h0M575.4 101.5h0M489.4 157.2h0M577.3 74.6h0M482.3 120.7h0M514.2 166.8h0M502.4 146.2h0M599.6 82.6h0M449.6 109.0h0M467.9 157.9h0M564.1 84.4h0M585.8 118.7h0M577.7 121.0h0M515.2 141.5h0M432.3 208.3h0M497.3 142.7h0M512.3 154.8h0M554.0 83.9h0M567.5 115.7h0M496.5 135.7h0M424.1 180.5h0M436.2 202.0h0M432.6 180.4h0M499.1 152.1h0M488.0 122.9h0M571.1 120.2h0M504.7 141.2h0M607.8 88.6h0M451.5 130.3h0M478.7 152.7h0M435.8 203.9h0M439.9 21.7h0M586.9 119.9h0M423.0 190.9h0M514.0 157.8h0M439.5 176.6h0M592.4 117.2h0M511.7 175.7h0M444.8 99.6h0M505.4 158.1h0M441.9 137.4h0M421.7 168.8h0M517.8 139.2h0M450.1 104.7h0M478.5 123.4h0M505.4 154.1h0M487.2 146.8h0M467.6 157.5h0M488.9 117.8h0M430.2 185.4h0M449.1 115.3h0M479.1 157.0h0M443.9 173.8h0M425.5 204.7h0M601.3 77.3h0M547.1 89.1h0M439.5 108.0h0M523.5 152.5h0M581.2 106.9h0M456.3 113.0h0M499.9 149.4h0M576.6 105.8h0M542.5 95.7h0M470.6 73.1h0M555.3 104.7h0M563.8 92.6h0M435.9 161.1h0M521.6 147.8h0M486.1 153.2h0M488.8 141.2h0M438.4 166.3h0M514.8 145.9h0M591.4 118.3h0M567.7 94.9h0M425.5 186.3h0M526.1 147.1h0M495.4 152.1h0M577.0 107.3h0M549.1 92.7h0M506.6 159.3h0M568.1 81.8h0M576.8 123.4h0M553.8 83.3h0M455.0 168.6h0M514.3 148.6h0M425.6 192.8h0M430.6 196.9h0M483.9 152.3h0M591.5 123.2h0M501.7 148.1h0M489.2 122.7h0M460.0 68.1h0M584.7 74.4h0M553.5 105.5h0M595.9 92.8h0M426.4 190.3h0M590.4 125.3h0M581.9 107.4h0M576.8 105.6h0M446.8 170.7h0M576.8 111.7h0M443.7 98.7h0M517.3 155.1h0M480.2 124.8h0M480.5 153.4h0M451.7 171.8h0M561.7 81.7h0M564.6 92.3h0M566.2 115.8h0M476.9 147.9h0M496.0 157.9h0M565.5 86.6h0M445.7 102.5h0M577.0 111.0h0M424.9 201.0h0M450.7 99.7h0M434.4 167.0h0M585.0 119.1h0M437.0 143.2h0M428.2 171.4h0M454.9 168.9h0M434.4 147.8h0M420.2 137.2h0M444.4 177.8h0M435.3 142.1h0M565.3 103.4h0M567.9 110.2h0M476.2 147.2h0M567.4 121.6h0M557.9 91.8h0M486.3 146.6h0M434.1 152.5h0M573.2 88.0h0M567.6 108.0h0M455.0 120.0h0M450.0 178.8h0M465.6 123.9h0M587.0 96.8h0M478.8 143.0h0M450.1 179.3h0M555.5 91.4h0M486.6 127.8h0M432.4 141.9h0M445.2 177.7h0M580.3 80.4h0M569.9 96.8h0M558.9 101.6h0M422.2 181.8h0M442.2 109.9h0M441.3 103.4h0M570.1 79.4h0M571.4 117.9h0M503.5 166.3h0M492.8 137.8h0M482.8 119.7h0M597.2 95.6h0M469.6 110.2h0M487.4 142.7h0M440.1 101.7h0M573.9 85.3h0M442.6 106.6h0M491.7 140.4h0M560.7 77.0h0M574.6 118.0h0M587.7 109.2h0M460.5 123.0h0M455.1 169.9h0M520.8 150.6h0M502.4 172.3h0M496.8 143.8h0M582.8 76.4h0M513.6 148.0h0M559.2 105.5h0M444.5 201.3h0M431.0 154.7h0M523.9 143.5h0M462.1 130.1h0M548.3 91.8h0M444.9 187.2h0M557.9 97.1h0M560.0 112.1h0M449.0 171.6h0M510.1 168.7h0M588.4 105.3h0M582.5 129.2h0M593.0 109.5h0M568.0 119.8h0M433.4 162.0h0M586.4 129.7h0M583.0 129.8h0M446.3 202.4h0M497.0 146.2h0M438.3 175.1h0M567.9 93.4h0M573.3 105.8h0M568.2 118.6h0M583.0 73.6h0M443.2 182.1h0M470.1 121.6h0M426.4 171.1h0M441.7 138.0h0M439.1 174.0h0M433.8 26.4h0M486.5 125.3h0M572.4 111.4h0M563.2 111.3h0M541.9 91.3h0M597.1 86.9h0M423.0 131.8h0M430.5 143.8h0M438.3 127.3h0M573.4 100.7h0M522.6 139.3h0M592.7 112.1h0M491.9 152.0h0M562.8 94.6h0M487.4 119.3h0M478.7 135.4h0M456.9 90.6h0M558.7 94.4h0M474.8 120.9h0M541.8 97.1h0M553.3 82.0h0M439.1 154.6h0M563.7 111.2h0M473.2 153.9h0M502.1 145.6h0M459.8 119.8h0M564.0 113.3h0M446.1 135.3h0M479.7 129.4h0M497.5 147.2h0M547.5 98.4h0M508.9 158.4h0M548.1 92.9h0M558.2 97.4h0M566.8 108.1h0M567.2 90.1h0M514.7 154.4h0M441.1 112.7h0M518.2 143.6h0M493.0 161.6h0M480.0 128.9h0M590.4 123.1h0M425.8 147.2h0M435.0 171.7h0M505.4 144.0h0M530.1 146.3h0M434.4 177.7h0M585.4 90.6h0M426.8 210.3h0M592.3 91.0h0M467.8 157.9h0M522.2 115.6h0M550.0 89.1h0M565.7 113.7h0M516.0 170.6h0M450.4 168.6h0M484.5 117.8h0M445.3 175.5h0M427.6 176.7h0M499.0 149.8h0M572.5 180.2h0M573.6 119.3h0M499.2 140.7h0M428.8 129.7h0M573.4 79.8h0M470.4 120.6h0M560.7 111.9h0M556.6 83.1h0M570.4 110.1h0M585.6 90.6h0M438.2 188.2h0M576.4 78.3h0M570.3 121.4h0M461.7 66.1h0M479.4 128.0h0M588.9 110.3h0M564.7 92.4h0M476.8 117.0h0M485.7 158.5h0M447.2 176.4h0M599.8 91.3h0M450.5 99.5h0M565.4 98.2h0M598.2 76.1h0M509.8 151.8h0M494.4 145.9h0M580.5 93.4h0M453.7 113.6h0M572.3 77.7h0M431.9 178.7h0M453.3 168.6h0M442.7 192.7h0M480.0 140.8h0M524.0 140.5h0M470.4 121.9h0M587.4 107.0h0M433.0 208.6h0M498.6 113.8h0M569.1 85.8h0M449.8 14.3h0M438.4 158.4h0M456.0 114.0h0M445.2 168.5h0M444.1 199.1h0M583.7 130.6h0M435.0 128.6h0M521.4 148.3h0M578.3 104.6h0M485.1 117.1h0M590.3 75.1h0M453.3 112.1h0M438.7 196.2h0M445.1 197.4h0M567.5 91.7h0M584.5 84.5h0M449.6 116.1h0M426.4 197.1h0M449.7 172.3h0M573.3 80.9h0M580.0 117.7h0M553.7 105.9h0M567.2 89.5h0M424.0 145.0h0M586.5 96.9h0M440.5 133.9h0M590.5 120.6h0M504.7 151.8h0M503.2 143.4h0M433.8 128.6h0M424.8 131.3h0M505.5 140.0h0M438.2 107.8h0M502.7 148.3h0M436.6 135.7h0M577.1 107.4h0M521.5 145.3h0M483.6 122.8h0M593.6 117.8h0M587.3 115.9h0M426.4 144.8h0M591.7 104.6h0M449.0 109.4h0M592.9 95.4h0M560.7 94.3h0M558.5 94.8h0M432.5 186.4h0M561.7 87.0h0M433.8 169.6h0M509.6 172.2h0M441.7 134.7h0M594.6 87.6h0M429.8 163.8h0M520.6 143.9h0M545.8 91.9h0M439.7 139.4h0M524.6 149.2h0M594.8 100.1h0M573.5 117.6h0M444.5 171.3h0M484.3 148.4h0M472.8 112.0h0M440.7 176.0h0M556.2 80.2h0M449.4 108.2h0M605.5 93.4h0M513.6 158.9h0M494.3 161.8h0M517.5 142.7h0M438.0 103.0h0M511.5 145.1h0M482.3 150.7h0M451.6 171.0h0M494.1 120.0h0M439.8 198.1h0M594.7 114.0h0M450.3 96.3h0M557.4 77.7h0M478.8 146.0h0M452.4 115.1h0M558.1 106.4h0M484.2 144.1h0M480.9 139.9h0M544.1 97.4h0M442.0 176.0h0M596.9 99.0h0M448.9 173.9h0M478.5 125.5h0M589.7 110.7h0M484.6 145.5h0M578.5 113.0h0M581.2 130.8h0M571.8 109.3h0M475.5 127.6h0M441.0 168.1h0M573.2 80.4h0M589.6 111.3h0M568.8 80.9h0M446.8 98.9h0M444.3 102.0h0M499.1 140.5h0M436.5 123.5h0M476.1 149.9h0M571.0 97.5h0M488.0 151.6h0M585.4 73.7h0M573.9 76.8h0M513.6 138.9h0M458.5 124.9h0M427.7 179.7h0M498.2 149.1h0M449.9 180.0h0M591.5 100.4h0M569.7 104.2h0M465.4 118.4h0M572.9 80.5h0M492.1 124.7h0M543.5 96.7h0M491.8 162.2h0M576.0 99.4h0M444.0 167.3h0M596.1 98.3h0M542.7 92.6h0M545.3 97.5h0M438.7 205.5h0M586.1 78.5h0M424.5 151.2h0M433.6 129.3h0M563.5 90.9h0M506.8 173.1h0M509.4 160.0h0M582.0 128.0h0M493.0 159.0h0M569.1 105.1h0M517.1 147.9h0M484.6 126.9h0M517.2 139.6h0M440.9 207.3h0M557.2 80.5h0M455.3 170.6h0M518.0 146.4h0M455.8 171.2h0M435.0 138.3h0M546.6 86.5h0M506.5 160.5h0M478.0 125.4h0M500.4 139.5h0M431.7 182.4h0M444.6 107.1h0M454.9 132.8h0M436.4 210.8h0M551.1 90.1h0M547.4 90.9h0M481.9 151.6h0M493.7 171.8h0M556.6 86.8h0M505.5 162.8h0M589.4 116.8h0M425.6 202.2h0M444.7 98.3h0M600.4 96.8h0M507.9 145.6h0M494.3 140.1h0M477.2 112.5h0M491.3 151.6h0M479.7 129.8h0M566.1 119.6h0M559.2 109.0h0M507.5 162.0h0M452.2 133.0h0M454.5 109.4h0M496.4 174.3h0M567.3 102.0h0M595.6 116.6h0M572.4 114.8h0M425.8 123.0h0M592.2 106.5h0M579.1 130.7h0M569.0 91.3h0M452.3 172.3h0M486.6 131.2h0M599.9 77.1h0M493.6 147.9h0M489.8 122.5h0M520.9 141.3h0M558.4 93.1h0M507.1 157.5h0M563.0 93.3h0M483.7 124.5h0M436.3 178.8h0M491.3 135.7h0M582.6 121.3h0M434.7 154.2h0M488.0 161.0h0M572.5 98.0h0M556.7 86.3h0M483.0 135.2h0M431.1 123.8h0M507.4 153.9h0M483.4 147.5h0M587.5 117.8h0M481.4 143.5h0M436.1 142.6h0M486.6 122.3h0M499.0 156.3h0M522.3 141.1h0M431.6 141.8h0M421.7 132.5h0M589.2 113.5h0M594.1 76.6h0M427.9 133.3h0M503.4 161.1h0M477.8 156.1h0M430.1 177.4h0M441.3 126.8h0M487.3 160.7h0M434.9 129.6h0M421.9 130.6h0M573.4 127.6h0M501.8 146.2h0M447.4 104.4h0M520.1 139.4h0M503.8 156.8h0M444.3 196.8h0M490.0 130.3h0M480.9 140.9h0M465.4 159.7h0M561.4 114.8h0M589.1 129.8h0M570.5 118.9h0M500.6 160.6h0M501.0 148.0h0M446.4 197.5h0M484.8 138.5h0M424.2 191.7h0M442.4 131.8h0M453.4 170.2h0M436.2 172.0h0M557.1 86.7h0M436.5 123.9h0M569.5 100.4h0M598.4 84.8h0M573.1 123.1h0M571.9 114.6h0M482.4 155.4h0M437.6 158.9h0M557.2 81.8h0M585.2 83.4h0M592.1 122.7h0M547.6 89.2h0M595.6 74.8h0M438.5 26.7h0M440.2 164.2h0M494.2 168.1h0M584.0 106.7h0M581.1 78.5h0M443.9 201.3h0M504.3 151.7h0M462.5 129.3h0M517.2 149.4h0M471.3 121.8h0M542.3 90.2h0M585.8 91.4h0M554.3 100.3h0M595.2 74.3h0M560.3 86.4h0M496.6 146.9h0M569.1 118.0h0M485.0 154.4h0M496.5 142.8h0M441.3 107.0h0M451.7 168.8h0M578.0 108.9h0M427.6 171.7h0M585.7 109.2h0M592.0 75.7h0M564.3 104.3h0M438.8 180.9h0M564.6 99.6h0M590.9 127.9h0M506.3 139.9h0M467.3 125.4h0M444.2 173.4h0M494.4 170.9h0M480.1 123.0h0M566.1 77.6h0M498.8 169.0h0M595.7 108.8h0M458.3 91.0h0M498.4 142.6h0M481.7 130.7h0M450.3 187.5h0M430.1 172.0h0M501.7 157.3h0M565.0 77.5h0M437.2 151.4h0M573.5 97.0h0M521.7 147.2h0M593.6 95.0h0M449.3 108.4h0M570.1 97.1h0M592.0 104.6h0M570.9 118.0h0M435.7 147.4h0M508.4 136.7h0M567.9 114.5h0M457.8 168.9h0M505.6 171.4h0M528.7 148.0h0M588.5 94.6h0M594.4 101.8h0M589.2 72.5h0M554.8 86.6h0M589.6 112.3h0M586.0 92.7h0M587.0 82.0h0M494.9 173.3h0M586.3 74.9h0M424.9 159.2h0M529.1 146.8h0M578.7 129.2h0M523.7 140.2h0M574.9 88.0h0M590.1 120.9h0M430.0 127.6h0M445.6 182.0h0M433.1 167.4h0M569.0 120.3h0M555.9 92.5h0M501.8 164.2h0M440.6 177.3h0M451.8 132.7h0M452.5 169.1h0M488.5 136.7h0M506.1 155.6h0M498.0 140.8h0M438.4 175.1h0M588.2 77.5h0M511.2 148.2h0M553.6 82.1h0M423.8 203.9h0M469.1 70.0h0M585.2 118.8h0M543.3 88.9h0M572.0 96.3h0M571.2 78.6h0M480.0 154.1h0M437.2 168.8h0M475.5 150.8h0M566.1 93.9h0M584.7 92.8h0M525.6 149.1h0M570.2 92.9h0M575.9 125.2h0M497.3 144.4h0M430.1 203.6h0M426.0 175.5h0M577.2 105.0h0M561.5 107.9h0M581.5 105.8h0M584.7 101.2h0M487.7 150.5h0M456.8 169.9h0M596.0 77.6h0M489.0 124.6h0M601.6 95.3h0M547.5 87.5h0M431.7 29.2h0M486.4 159.4h0M519.6 147.9h0M425.0 160.4h0M593.0 107.6h0M423.2 188.3h0M508.2 177.1h0M446.5 191.3h0M448.1 182.8h0M586.4 112.8h0M448.8 190.7h0M565.4 87.3h0M421.3 130.2h0M576.5 127.5h0M449.2 188.4h0M550.3 97.1h0M433.7 158.1h0M440.7 176.6h0M431.0 27.5h0M580.6 79.7h0M433.3 177.8h0M588.3 89.3h0M519.0 146.8h0M503.2 161.7h0M584.7 74.0h0M488.3 140.4h0M581.6 110.8h0M434.2 156.6h0M578.7 86.3h0M442.6 129.2h0M438.1 165.2h0M574.6 106.5h0M503.7 152.0h0M596.2 79.0h0M423.8 164.6h0M459.0 126.3h0M593.9 123.2h0M502.9 161.6h0M585.1 92.1h0M602.8 90.8h0M591.7 118.2h0M554.1 101.8h0M507.5 162.0h0M509.3 162.0h0M495.0 163.0h0M469.1 160.0h0M555.6 96.7h0M437.7 163.7h0M578.5 76.9h0M559.9 85.2h0M564.3 102.2h0M439.8 133.9h0M514.8 143.8h0M589.6 89.0h0M505.8 142.2h0M504.9 161.4h0M551.6 82.7h0M564.0 78.7h0M431.3 30.5h0M586.1 116.9h0M476.8 114.2h0M603.9 91.1h0M593.8 73.6h0M483.8 133.9h0M485.7 141.8h0M491.4 153.4h0M526.6 147.6h0M436.8 190.2h0M568.8 92.1h0M426.3 173.6h0M564.5 110.3h0M440.2 161.4h0M465.6 161.7h0M488.7 151.0h0M431.6 178.5h0M558.8 84.8h0M574.1 113.2h0M439.2 192.5h0M473.9 125.2h0M488.5 155.3h0M447.4 97.3h0M586.5 129.5h0M593.2 100.9h0M467.7 160.6h0M442.8 181.5h0M428.9 166.8h0M511.5 138.9h0M451.3 171.4h0M483.2 158.9h0M457.3 170.5h0M569.1 123.9h0M468.0 156.4h0M498.7 159.5h0M541.2 94.3h0M453.8 112.0h0M485.3 150.2h0M430.0 159.4h0M495.0 166.2h0M428.3 197.7h0M515.1 156.5h0M584.3 114.1h0M472.9 153.2h0M559.2 99.2h0M439.9 160.8h0M575.9 81.5h0M512.3 160.7h0M464.7 83.1h0M586.3 72.7h0M487.2 159.7h0M590.9 121.8h0M522.8 139.7h0M458.5 168.4h0M435.6 131.8h0M455.1 168.5h0M431.3 175.4h0M498.2 153.1h0M547.8 85.2h0M470.5 158.9h0M493.2 152.0h0M445.8 166.9h0M439.4 164.0h0M482.7 153.4h0M466.7 158.9h0M565.1 99.6h0M548.5 91.5h0M442.6 187.0h0M480.4 164.0h0M506.1 155.9h0M448.5 195.2h0M489.1 140.7h0M581.6 81.2h0M426.6 189.4h0M513.3 141.4h0M421.9 168.0h0M442.2 170.5h0M442.5 180.5h0M442.5 107.2h0M575.1 98.4h0M425.5 188.5h0M445.3 206.1h0M591.0 115.8h0M426.1 166.4h0M443.2 132.3h0M564.1 92.2h0M447.5 115.4h0M606.3 85.4h0M449.9 108.1h0M442.7 183.9h0M523.6 139.3h0M439.0 182.2h0M430.5 28.5h0M563.1 92.2h0M433.8 165.1h0M437.4 127.7h0M593.4 82.8h0M578.4 97.3h0M473.6 118.3h0M585.3 81.0h0M497.5 137.3h0M493.7 125.0h0M588.4 95.0h0M465.7 121.3h0M514.4 140.2h0M481.2 153.6h0M438.9 153.4h0M526.3 145.8h0M556.8 95.4h0M585.8 104.4h0M455.7 171.2h0M550.0 89.7h0M586.3 111.5h0M484.5 141.4h0M586.0 113.9h0M518.8 144.7h0M514.2 144.7h0M489.7 153.2h0M514.0 151.4h0M563.5 93.8h0M465.4 120.4h0M503.7 172.0h0M473.6 118.8h0M511.2 160.1h0M568.8 94.4h0M433.5 177.1h0M425.3 184.9h0M530.0 147.0h0M486.7 154.2h0M479.9 117.6h0M423.7 174.8h0M514.2 175.9h0M431.7 183.7h0M567.1 110.3h0M491.2 122.4h0M563.7 102.5h0M575.1 124.1h0M444.4 128.3h0M594.6 93.2h0M476.2 123.5h0M471.9 120.3h0M593.8 109.9h0M479.8 143.5h0M497.8 156.7h0M429.3 199.8h0M524.7 142.4h0M570.6 114.8h0M489.7 145.7h0M585.9 89.2h0M593.0 94.9h0M425.2 205.8h0M445.4 179.8h0M498.7 168.0h0M510.5 163.3h0M591.4 105.2h0M429.0 131.3h0M442.1 105.4h0M563.2 112.5h0M510.5 174.3h0M582.9 85.5h0M486.5 160.7h0M555.5 96.7h0M472.0 153.2h0M592.6 119.2h0M448.4 172.2h0M564.4 103.4h0M451.5 176.1h0M429.9 134.2h0M591.6 112.2h0M453.4 114.6h0M607.1 91.5h0M443.3 172.1h0M511.1 160.8h0M457.5 125.3h0M565.6 96.4h0M588.2 121.8h0M447.5 108.2h0M489.3 160.3h0M459.2 168.9h0M559.2 82.5h0M606.4 87.9h0M430.7 180.0h0M576.6 120.0h0M555.1 104.1h0M513.6 138.8h0M453.7 170.2h0M570.0 97.2h0M603.9 86.5h0M449.3 191.5h0M501.0 140.0h0M421.9 173.4h0M445.9 106.6h0M584.2 103.5h0M547.6 101.4h0M575.3 118.4h0M433.6 179.1h0M502.0 162.8h0M530.3 146.9h0M489.8 141.3h0M445.5 129.0h0M576.9 110.0h0M588.2 111.8h0M462.6 117.9h0M440.8 125.5h0M487.9 142.0h0M447.4 108.8h0M586.1 84.7h0M597.3 73.5h0M463.1 166.8h0M440.0 208.2h0M569.7 182.4h0M482.2 147.7h0M467.1 114.9h0M554.2 90.7h0M466.7 121.6h0M499.9 146.2h0M576.5 124.4h0M573.8 116.9h0M572.0 124.2h0M477.8 153.9h0M446.1 170.5h0M553.7 86.5h0M467.3 159.0h0M603.5 88.4h0M492.3 149.5h0M449.7 108.5h0M591.0 93.5h0M437.0 133.1h0M586.6 107.7h0M429.8 187.0h0M479.0 111.9h0M550.5 93.5h0M457.4 63.6h0M437.6 159.4h0M569.8 114.2h0M494.0 119.7h0M423.8 134.8h0M438.6 185.2h0M462.6 83.4h0M478.0 119.2h0M427.8 208.9h0M432.5 199.5h0M442.3 133.3h0M482.1 149.1h0M446.7 96.3h0M478.6 148.3h0M431.9 203.1h0M497.1 162.7h0M490.8 157.0h0M425.6 166.3h0M583.2 108.3h0M466.0 128.6h0M477.9 143.4h0M553.6 96.3h0M446.6 108.9h0M484.1 122.7h0M520.0 139.1h0M574.3 116.8h0M544.7 92.6h0M578.3 125.4h0M477.8 128.8h0M491.5 159.9h0M436.9 174.2h0M497.4 147.0h0M603.2 78.3h0M441.9 99.2h0M568.9 98.1h0M581.7 106.3h0M423.7 128.7h0M586.7 130.3h0M429.5 166.7h0M444.2 130.1h0M587.6 112.4h0M578.1 92.3h0M584.4 130.5h0M493.4 169.4h0M461.3 168.7h0M422.7 195.1h0M419.7 135.1h0M431.8 147.0h0M488.4 159.3h0M442.9 100.6h0M595.1 113.3h0M576.4 99.0h0M500.2 146.5h0M497.4 143.9h0M492.6 161.0h0M426.1 206.5h0M441.9 189.5h0M456.6 169.2h0M562.7 96.1h0M515.2 151.5h0M557.3 104.4h0M507.5 154.5h0M514.1 138.6h0M419.9 133.3h0M491.3 154.5h0M554.8 86.5h0M421.3 137.3h0M488.3 117.0h0M432.6 126.5h0M511.8 152.5h0M428.0 154.4h0M592.9 109.4h0M442.2 111.3h0M596.2 89.7h0M439.3 169.4h0M431.1 187.3h0M592.8 78.5h0M593.3 92.0h0M451.8 117.2h0M465.0 132.4h0M567.6 102.0h0M425.4 201.9h0M574.8 119.1h0M569.0 102.2h0M559.1 96.6h0M469.0 160.0h0M473.2 126.5h0M558.1 108.0h0M517.6 143.9h0M423.0 188.5h0M422.1 193.4h0M595.8 106.2h0M474.2 152.9h0M554.7 87.5h0M443.8 167.5h0M553.7 90.1h0M508.3 162.2h0M589.0 105.5h0M575.9 123.7h0M601.4 80.2h0M478.8 144.0h0M439.8 134.3h0M510.4 146.9h0M468.2 123.5h0M470.4 154.7h0M451.2 171.9h0M422.7 202.7h0M501.3 157.6h0M571.4 116.4h0M597.3 97.9h0M434.5 202.2h0M591.7 93.7h0M434.0 29.2h0M494.0 167.9h0M486.8 158.5h0M470.6 118.8h0M583.9 115.3h0M440.2 172.1h0M528.7 146.8h0M595.9 100.4h0M582.9 114.4h0M424.4 152.5h0M480.0 121.7h0M576.8 99.7h0M448.0 106.7h0M424.5 191.2h0M563.4 110.1h0M565.5 108.0h0M595.5 76.7h0M421.6 167.1h0M423.3 183.3h0M468.0 125.9h0M583.0 90.8h0M441.5 132.1h0M490.4 133.1h0M490.0 121.0h0M563.0 96.8h0M575.8 85.4h0M600.0 89.5h0M583.7 75.1h0M419.5 133.0h0M434.6 144.0h0M488.7 141.5h0M588.8 124.1h0M435.5 130.4h0M567.7 100.7h0M420.4 129.6h0M500.8 146.4h0M567.0 92.6h0M442.1 170.2h0M440.0 201.0h0M425.7 155.0h0M446.2 186.4h0M566.9 102.2h0M472.6 152.4h0M483.2 152.2h0M593.3 80.0h0M427.1 180.9h0M445.4 99.2h0M490.4 135.3h0M460.9 166.8h0M491.0 143.3h0M570.8 111.9h0M444.5 102.2h0M426.9 176.4h0M512.6 138.3h0M574.2 109.4h0M520.1 155.3h0M420.2 127.8h0M582.7 111.5h0M435.7 179.6h0M444.5 110.6h0M445.9 176.2h0M572.4 125.9h0M429.2 127.6h0M561.6 104.6h0M509.7 167.9h0M430.3 136.8h0M433.1 128.7h0M602.9 82.0h0M548.0 93.0h0M484.9 133.8h0M556.3 86.7h0M443.1 179.9h0M425.7 151.6h0M474.8 113.9h0M563.5 80.4h0M542.4 90.1h0M581.8 115.3h0M553.5 91.6h0M445.5 179.7h0M466.1 119.5h0M586.8 118.1h0M431.4 29.9h0M542.5 93.9h0M563.3 97.8h0M585.7 112.7h0M446.4 110.6h0M430.3 153.1h0M500.2 157.8h0M573.6 115.9h0M578.3 77.1h0M542.8 90.3h0M475.3 118.7h0M449.7 173.5h0M519.2 151.1h0M423.2 128.5h0M456.2 114.6h0M500.3 156.2h0M437.4 143.9h0M482.2 118.6h0M443.1 101.9h0M504.1 140.9h0M548.1 99.4h0M499.4 147.5h0M512.1 148.3h0M574.0 116.0h0M459.5 68.9h0M574.3 109.9h0M559.3 102.9h0M572.3 78.2h0M569.6 120.0h0M446.7 112.0h0M440.0 175.9h0M593.8 103.8h0M481.2 145.2h0M559.6 88.8h0M427.1 174.0h0M468.3 116.9h0M492.6 145.3h0M458.5 119.5h0M423.1 162.2h0M575.3 103.8h0M450.8 97.1h0M480.6 154.6h0M435.5 169.6h0M437.5 170.5h0M526.2 148.4h0M462.3 85.4h0M435.0 206.9h0M570.8 97.9h0M594.2 117.9h0M430.8 173.1h0M489.9 135.3h0M501.8 158.8h0M592.8 119.5h0M448.6 182.4h0M448.6 170.6h0M427.1 123.3h0M450.3 170.3h0M567.9 97.1h0M470.4 128.4h0M605.9 94.2h0M463.8 162.3h0M565.5 100.7h0M526.1 140.3h0M557.6 86.4h0M570.3 125.7h0M558.9 92.1h0M436.0 202.8h0M497.1 166.6h0M455.9 92.4h0M440.6 164.5h0M442.6 172.0h0M493.9 143.6h0M467.6 123.0h0M506.1 180.8h0M425.5 126.9h0M571.5 98.0h0M591.0 98.6h0M432.1 164.3h0M427.9 102.9h0M578.9 101.5h0M436.6 171.7h0M590.5 120.8h0M602.1 86.4h0M566.7 92.4h0M476.6 153.2h0M441.1 185.1h0M511.1 151.0h0M449.9 107.8h0M483.8 155.1h0M454.4 117.6h0M575.6 102.8h0M483.9 127.2h0M570.7 116.3h0M513.5 147.2h0M569.7 118.8h0M594.0 102.7h0M590.9 117.4h0M563.0 92.7h0M580.2 103.7h0M518.5 140.4h0M562.0 84.8h0M556.7 105.1h0M439.2 205.1h0M459.6 66.7h0M568.9 119.4h0M474.4 119.5h0M498.4 155.5h0M438.8 152.2h0M592.2 116.4h0M570.1 118.3h0M558.0 104.5h0M479.6 167.9h0M599.6 79.8h0M490.1 120.0h0M506.7 160.9h0M441.9 167.9h0M469.9 128.0h0M515.7 168.3h0M579.8 102.4h0M491.6 124.6h0M447.9 183.3h0M524.7 151.3h0M606.0 87.6h0M468.9 157.1h0M522.2 142.7h0M553.4 79.1h0M562.1 94.4h0M434.3 202.5h0M438.4 168.0h0M486.8 124.9h0M503.6 144.4h0M583.5 94.1h0M599.9 75.4h0M585.3 78.2h0M428.2 196.6h0M586.0 76.8h0M490.5 153.7h0M474.7 150.6h0M511.7 152.6h0M588.1 117.9h0M431.2 127.1h0M497.8 152.1h0M467.3 168.7h0M499.3 154.3h0M551.6 101.0h0M557.6 90.3h0M524.2 148.4h0M461.6 111.3h0M443.7 102.6h0M589.0 94.1h0M560.8 110.1h0M481.7 143.9h0M583.0 124.6h0M453.7 115.0h0M573.1 120.4h0M473.6 127.4h0M492.2 158.7h0M566.9 121.2h0M509.2 140.1h0M577.6 114.4h0M492.5 157.1h0M576.2 108.0h0M459.7 66.4h0M431.4 166.5h0M585.1 128.6h0M517.4 153.4h0M483.3 146.8h0M578.3 100.1h0M595.1 115.3h0M511.5 142.1h0M500.9 162.0h0M447.7 100.0h0M591.9 107.7h0M479.8 113.8h0M497.1 123.6h0M496.6 147.3h0M552.4 85.8h0M587.7 120.9h0M591.3 104.9h0M550.8 85.3h0M561.4 99.4h0M473.6 113.1h0M571.3 99.8h0M604.2 79.4h0M477.0 129.2h0M575.5 179.6h0M445.1 110.3h0M427.6 131.6h0M528.4 144.0h0M444.7 167.6h0M565.1 113.4h0M548.9 102.6h0M425.3 169.4h0M448.5 196.0h0M521.8 150.0h0M429.9 208.7h0M481.3 119.9h0M563.9 99.0h0M594.6 110.3h0M435.8 185.2h0M569.1 113.4h0M443.4 135.6h0M444.0 110.8h0M443.7 201.0h0M431.6 137.7h0M452.4 132.2h0M429.9 184.8h0M514.5 170.6h0M545.9 94.2h0M484.7 122.0h0M478.6 117.7h0M441.2 197.4h0M523.6 142.7h0M450.4 172.0h0M599.7 93.5h0M423.7 152.8h0M423.1 162.1h0M479.9 153.7h0M584.7 122.4h0M455.8 122.2h0M440.1 200.3h0M498.0 137.1h0M450.4 169.1h0M588.3 79.2h0M426.0 192.1h0M486.3 122.6h0M501.4 145.5h0M432.6 29.9h0M487.2 161.1h0M456.3 123.8h0M550.1 81.0h0M481.3 127.1h0M493.4 117.8h0M589.3 85.2h0M594.2 74.6h0M459.9 74.1h0M563.8 80.0h0M506.6 138.8h0M526.7 142.7h0M441.0 108.7h0M489.7 122.7h0M440.3 100.0h0M446.2 131.3h0M564.7 102.5h0M565.1 104.4h0M493.1 160.0h0M512.1 142.9h0M449.0 183.3h0M445.7 173.7h0M468.2 131.4h0M438.7 180.0h0M464.7 77.2h0M437.8 107.8h0M586.7 119.9h0M440.8 168.6h0M586.5 110.4h0M490.9 141.9h0M583.4 83.7h0M580.9 73.3h0M513.9 143.1h0M433.8 127.9h0M436.1 179.6h0M553.8 87.2h0M591.5 124.9h0M512.8 148.9h0M584.1 78.9h0M489.1 159.5h0M602.5 87.0h0M589.5 111.7h0M504.5 150.5h0M489.2 149.9h0M445.8 98.1h0M458.5 63.2h0M514.8 146.9h0M592.8 110.8h0M584.9 126.2h0M474.5 113.0h0M548.1 92.4h0M592.3 84.6h0M421.1 152.2h0M560.9 92.5h0M491.1 120.5h0M566.3 95.8h0M561.2 99.8h0M505.3 176.3h0M454.8 168.5h0M592.8 96.4h0M585.6 125.3h0M468.5 129.7h0M447.2 173.2h0M504.0 164.5h0M566.2 102.3h0M545.8 92.5h0M547.0 86.4h0M525.8 146.2h0M442.8 108.6h0M587.2 76.4h0M443.0 132.2h0M590.7 96.6h0M444.7 104.3h0M493.3 156.1h0M595.0 107.0h0M475.8 111.5h0M554.8 86.9h0M426.9 132.9h0M473.3 113.1h0M510.2 139.9h0M437.2 25.1h0M481.1 123.4h0M489.9 146.7h0M436.0 26.0h0M551.5 85.9h0M595.0 112.1h0M482.3 147.8h0M590.9 101.1h0M433.2 172.4h0M587.2 91.7h0M572.9 123.8h0M583.2 87.9h0M507.3 143.6h0M557.9 92.7h0M489.4 151.9h0M480.6 117.0h0M553.6 77.8h0M502.6 159.5h0M594.8 109.4h0M510.0 158.8h0M570.5 126.0h0M441.4 130.1h0M446.9 171.3h0M436.6 155.8h0M514.1 156.3h0M441.8 181.7h0M530.1 145.5h0M432.8 171.0h0M519.1 139.4h0M436.7 177.1h0M570.5 109.7h0M449.1 195.8h0M577.7 77.4h0M560.7 103.6h0M563.2 108.1h0M564.8 99.2h0M564.8 111.5h0M555.5 79.8h0M487.9 145.7h0M554.5 85.4h0M421.5 173.7h0M458.8 113.8h0M478.5 125.2h0M560.0 99.1h0M562.3 80.7h0M568.3 99.6h0M423.6 153.8h0M423.9 149.7h0M513.4 147.3h0M467.1 125.9h0M556.9 106.9h0M513.9 144.4h0M481.1 120.4h0M553.8 85.7h0M458.8 167.4h0M433.7 204.2h0M450.1 117.9h0M425.4 182.8h0M467.8 119.3h0M461.5 165.0h0M434.4 165.2h0M582.5 111.7h0M442.8 127.9h0M496.4 165.4h0M580.3 124.3h0M501.9 162.3h0M434.1 203.3h0M444.0 207.6h0M433.4 127.7h0M480.7 129.3h0M603.9 92.8h0M497.3 153.3h0M493.1 121.5h0M421.8 172.2h0M567.5 116.8h0M487.2 159.5h0M500.4 145.5h0M439.6 147.1h0M569.5 93.6h0M434.8 145.0h0M436.7 150.7h0M453.3 169.7h0M431.1 124.5h0M478.2 149.6h0M592.4 97.4h0M426.6 131.3h0M445.2 132.6h0M495.0 127.3h0M460.7 113.4h0M490.3 159.8h0M477.3 154.9h0M564.4 85.2h0M577.6 92.0h0M460.1 87.5h0M544.5 92.5h0M568.0 102.0h0M450.7 175.5h0M566.5 89.7h0M579.3 74.5h0M433.5 28.2h0M454.2 168.8h0M429.8 165.9h0M470.8 158.1h0M479.9 151.9h0M581.8 98.2h0M432.0 29.6h0M569.2 98.9h0M549.9 80.6h0M487.3 116.4h0M500.7 158.3h0M588.0 125.0h0M593.1 124.7h0M488.5 129.2h0M440.0 133.9h0M561.7 105.7h0M451.9 119.4h0M479.3 117.4h0M438.4 164.3h0M458.6 113.7h0M525.2 140.7h0M566.1 103.7h0M575.7 128.7h0M462.5 124.7h0M494.6 124.0h0M451.9 173.0h0M555.0 92.0h0M444.8 110.7h0M443.4 171.0h0M559.9 96.7h0M559.1 91.4h0M522.2 146.3h0M427.5 144.7h0M511.1 142.1h0M591.7 73.0h0M441.3 131.7h0M577.1 99.1h0M468.2 156.5h0M564.9 77.3h0M426.0 195.8h0M498.0 161.0h0M500.5 143.8h0M584.9 117.1h0M563.4 90.5h0M482.0 156.2h0M501.3 152.9h0M563.3 102.8h0M445.0 130.6h0M457.7 170.0h0M482.1 116.6h0M556.6 88.2h0M575.1 106.1h0M550.8 85.4h0M471.4 117.7h0M591.8 110.3h0M589.0 91.9h0M490.4 137.9h0M427.7 167.4h0M483.7 122.4h0M568.4 119.7h0M474.0 127.3h0M591.5 115.6h0M479.3 116.4h0M419.5 149.2h0M581.4 117.2h0M558.8 100.8h0M518.4 142.9h0M421.1 125.9h0M444.3 195.1h0M543.4 91.5h0M587.7 99.6h0M562.9 101.6h0M464.1 125.5h0M447.4 132.1h0M441.0 131.4h0M577.5 108.8h0M420.1 137.1h0M430.6 186.1h0M426.0 167.1h0M452.4 175.9h0M567.1 108.6h0M470.6 157.3h0M585.3 122.5h0M448.8 171.8h0M567.1 89.4h0M435.5 164.0h0M561.8 79.9h0M445.6 183.2h0M482.7 147.2h0M512.1 170.4h0M580.1 128.9h0M427.8 150.2h0M478.0 151.6h0M578.3 130.6h0M593.3 105.5h0M524.7 151.4h0M572.4 93.1h0M428.1 124.3h0M489.5 158.3h0M448.7 185.1h0M586.1 82.6h0M478.2 156.2h0M552.1 79.2h0M463.2 118.5h0M583.5 130.8h0M480.1 153.3h0M586.9 75.0h0M580.6 76.6h0M440.5 201.2h0M448.1 133.5h0M478.2 121.0h0M567.8 111.9h0M559.7 91.6h0M503.5 155.3h0M550.9 92.7h0M509.7 148.0h0M594.0 119.6h0M547.8 101.0h0M450.5 179.6h0M425.9 169.4h0M447.4 186.0h0M510.7 170.5h0M436.6 129.3h0M424.6 132.1h0M481.1 122.4h0M550.6 90.1h0M505.5 162.9h0M510.5 160.5h0M477.1 127.5h0M462.7 161.6h0M547.1 96.1h0M482.1 152.6h0M587.0 121.8h0M529.9 146.3h0M589.7 98.7h0M495.7 151.8h0M518.5 142.4h0M428.1 181.7h0M465.2 161.2h0M466.9 160.6h0M564.1 111.9h0M459.7 132.3h0M495.8 148.5h0M575.4 95.1h0M495.0 143.4h0M559.3 93.2h0M549.4 86.4h0M555.7 83.2h0M544.7 91.1h0M425.2 205.1h0M448.5 113.4h0M480.1 145.5h0M564.8 78.5h0M579.7 73.1h0M461.9 74.8h0M485.9 147.4h0M422.1 139.8h0M559.3 89.1h0M572.8 114.8h0M481.8 125.6h0M488.8 160.9h0M418.2 130.5h0M470.7 158.3h0M554.8 98.7h0M429.2 200.8h0M426.0 126.1h0M590.7 115.0h0M497.8 144.6h0M583.6 101.1h0M566.4 104.0h0M431.1 146.7h0M516.2 143.3h0M443.6 171.8h0M570.7 115.8h0M450.1 185.5h0M460.8 119.1h0M502.6 158.7h0M507.1 151.7h0M545.0 93.2h0M439.5 167.5h0M489.8 147.9h0M523.9 146.2h0M440.1 206.0h0M457.7 168.3h0M584.8 77.7h0M508.1 153.8h0M592.8 95.7h0M461.6 119.4h0M593.4 112.9h0M428.4 206.0h0M489.5 157.6h0M472.2 128.9h0M488.5 151.3h0M588.8 105.3h0M432.0 156.1h0M501.6 152.5h0M448.3 15.5h0M582.4 77.2h0M471.9 154.9h0M437.8 206.7h0M443.7 111.1h0M568.9 102.6h0M509.4 141.2h0M451.0 176.1h0M478.5 128.5h0M457.0 68.4h0M449.7 106.8h0M583.5 109.0h0M603.2 82.7h0M490.3 142.2h0M570.9 97.6h0M572.8 95.9h0M490.1 141.9h0M423.7 184.4h0M447.3 191.1h0M470.8 118.2h0M594.5 75.2h0M501.3 153.3h0M418.9 131.2h0M449.0 96.9h0M488.5 157.8h0M483.5 123.0h0M428.6 173.4h0M510.4 138.6h0M564.0 110.2h0M459.9 117.2h0M440.3 100.7h0M446.7 167.3h0M479.7 146.4h0M579.6 129.2h0M579.8 108.8h0M478.5 118.8h0M547.2 101.1h0M443.0 131.9h0M437.6 187.9h0M422.4 176.3h0M428.6 190.8h0M591.4 108.8h0M496.5 140.2h0M465.3 127.2h0M446.9 110.5h0M492.4 117.9h0M501.3 128.2h0M442.7 166.7h0M593.9 121.3h0M490.2 158.1h0M457.9 133.2h0M585.2 73.9h0M479.3 153.2h0M436.8 147.3h0M546.4 100.6h0M587.4 91.8h0M576.4 106.7h0M440.2 176.1h0M482.0 120.2h0M590.0 88.7h0M545.0 86.2h0M502.9 150.8h0M436.8 131.8h0M560.5 112.9h0M423.6 201.0h0M588.4 82.6h0M568.5 94.5h0M494.0 145.3h0M598.5 87.3h0M432.7 123.9h0M587.1 108.6h0M458.7 130.7h0M518.9 145.2h0M437.7 127.6h0M424.1 140.9h0M440.7 209.5h0M424.0 130.6h0M581.5 103.8h0M557.2 105.6h0M441.2 101.3h0M425.3 167.5h0M594.4 114.4h0M553.1 84.9h0M481.1 124.8h0M446.8 173.6h0M447.3 109.8h0M487.8 138.4h0M422.8 152.9h0M423.3 155.4h0M586.5 123.8h0M557.7 104.7h0M437.9 175.8h0M484.8 140.7h0M556.0 96.5h0M591.0 82.4h0M591.6 126.1h0M491.9 161.8h0M568.9 91.8h0M476.0 128.6h0M593.3 113.3h0M505.5 173.1h0M557.4 99.4h0M519.5 143.8h0M549.6 91.1h0M582.8 114.9h0M594.5 106.3h0M600.2 79.3h0M543.7 96.6h0M581.4 128.4h0M452.8 115.5h0M422.6 161.3h0M501.0 151.4h0M426.4 179.2h0M431.9 136.8h0M447.6 175.9h0M484.8 129.0h0M502.8 157.7h0M545.5 91.9h0M550.1 86.7h0M472.2 154.1h0M503.0 157.6h0M512.5 159.7h0M586.3 87.4h0M590.7 72.8h0M553.5 89.8h0M601.5 92.5h0M591.5 83.9h0M571.8 113.1h0M601.2 81.6h0M561.9 77.9h0M437.9 188.5h0M567.7 107.0h0M429.0 138.0h0M490.8 134.3h0M499.1 158.0h0M595.8 115.5h0M562.6 94.0h0M555.2 89.7h0M590.7 74.6h0M555.8 78.6h0M603.5 78.3h0M483.2 153.7h0M494.6 159.1h0M581.7 129.2h0M491.1 158.4h0M577.7 107.9h0M565.2 78.3h0M494.1 148.4h0M541.0 96.3h0M421.7 186.1h0M459.7 165.0h0M446.5 96.5h0M521.8 146.0h0M426.8 181.9h0M459.2 121.2h0M577.0 118.5h0M474.6 124.7h0M441.1 111.4h0M576.0 109.4h0M490.6 154.2h0M589.6 118.0h0M486.6 141.3h0M558.8 78.7h0M461.7 115.3h0M428.3 186.6h0M491.7 151.7h0M573.0 110.5h0M482.4 123.8h0M559.8 98.7h0M564.4 77.3h0M485.4 126.1h0M439.4 190.6h0M566.5 97.0h0M490.7 148.9h0M424.6 169.9h0M552.8 82.4h0M498.6 163.2h0M433.7 174.9h0M522.5 153.5h0M450.6 102.1h0M520.7 145.3h0M589.6 75.8h0M558.2 97.8h0M572.0 78.7h0M449.6 131.3h0M559.3 106.1h0M470.3 153.5h0M572.6 84.1h0M444.3 99.0h0M431.9 30.8h0M593.3 78.2h0M546.6 90.9h0M569.2 117.1h0M563.8 114.8h0M434.5 167.0h0M561.5 109.1h0M589.2 107.7h0M549.0 90.4h0" stroke="#EC736C" stroke-width="1.00" stroke-linecap="round" fill="none"/>
<path d="M450.3 14.8h0M587.8 106.9h0M503.4 165.8h0M573.3 114.8h0M439.7 105.3h0M457.5 92.5h0M568.7 108.9h0M469.3 81.1h0M450.6 13.9h0M433.5 164.8h0M444.3 99.5h0M498.9 165.9h0M556.3 94.4h0M452.3 114.5h0M581.8 98.2h0M511.3 164.5h0M510.3 177.9h0M494.7 168.6h0M469.0 113.7h0M460.9 118.8h0M582.9 118.7h0M569.4 96.3h0M449.0 15.5h0M466.3 65.7h0M466.3 71.5h0M472.1 115.9h0M487.3 114.6h0M543.3 97.3h0M458.4 70.1h0M566.2 86.1h0M484.6 127.2h0M464.9 132.3h0M458.4 68.1h0M463.8 78.9h0M470.8 68.7h0M497.5 163.7h0M510.2 164.3h0M426.9 166.9h0M467.1 71.3h0M470.4 80.6h0M430.8 151.7h0M441.4 101.3h0M470.4 120.7h0M570.5 94.9h0M512.5 172.6h0M514.4 165.2h0M553.8 95.0h0M431.0 166.2h0M447.9 195.0h0M574.7 178.7h0M447.7 106.0h0M592.8 119.3h0M513.2 162.5h0M465.9 84.3h0M565.9 102.6h0M445.0 103.0h0M462.3 65.7h0M493.7 129.7h0M460.7 83.1h0M422.6 155.8h0M499.2 166.6h0M455.8 62.4h0M467.2 160.3h0M508.0 165.9h0M469.4 76.7h0M432.3 129.3h0M467.1 129.1h0M463.7 124.0h0M471.9 114.0h0M444.2 204.6h0M486.4 141.5h0M434.6 182.8h0M572.0 109.8h0M490.1 151.6h0M520.8 154.0h0M462.9 63.7h0M438.8 101.3h0M438.6 187.0h0M452.1 97.0h0M465.7 129.5h0M460.8 131.4h0M464.9 83.2h0M485.5 148.5h0M426.6 190.3h0M498.1 178.8h0M561.0 85.9h0M467.0 74.9h0M441.8 98.8h0M461.8 69.6h0M492.1 125.7h0M439.9 133.2h0M435.6 24.9h0M421.9 183.6h0M502.5 146.6h0M507.1 164.5h0M497.8 168.2h0M489.3 122.5h0M503.1 162.2h0M497.0 164.9h0M463.9 120.2h0M452.9 132.8h0M561.2 94.6h0M424.4 134.9h0M422.2 142.0h0M465.5 84.0h0M456.7 92.0h0M504.6 171.0h0M449.3 133.4h0M499.3 156.1h0M460.9 68.8h0M570.4 181.6h0M466.3 75.0h0M564.7 94.4h0M439.9 134.7h0M423.2 165.4h0M450.4 129.5h0M589.6 114.4h0M488.2 123.7h0M564.9 104.1h0M431.5 171.6h0M494.3 129.1h0M494.0 165.0h0M515.6 145.9h0M463.1 81.2h0M439.3 171.0h0M465.8 127.8h0M482.8 113.5h0M447.9 132.1h0M503.5 175.8h0M457.0 90.3h0M447.2 195.3h0M473.3 124.2h0M597.6 92.4h0M591.7 78.5h0M454.5 96.5h0M463.7 73.4h0M471.6 75.2h0M575.1 93.5h0M594.3 98.6h0M453.9 95.3h0M483.5 155.3h0M568.5 96.3h0M496.0 171.5h0M495.5 167.4h0M588.3 105.1h0M573.3 107.4h0M494.9 163.3h0M496.2 164.8h0M465.8 72.4h0M571.5 99.9h0M576.7 103.0h0M468.4 79.4h0M495.2 175.4h0M497.2 168.5h0M488.2 155.0h0M596.7 78.4h0M581.6 92.4h0M470.7 78.8h0M467.7 117.6h0M600.4 77.2h0M572.7 89.0h0M447.1 104.6h0M451.1 97.1h0M487.0 121.6h0M443.9 135.0h0M462.5 81.8h0M502.9 171.2h0M452.7 169.3h0M507.0 164.7h0M506.2 161.9h0M506.1 169.7h0M600.2 81.4h0M446.9 168.4h0M587.0 111.6h0M432.5 209.6h0M443.5 112.5h0M457.4 66.9h0M423.9 192.2h0M570.7 80.6h0M440.6 96.9h0M432.6 30.0h0M567.7 122.1h0M441.2 103.3h0M441.8 109.8h0M468.0 81.9h0M419.5 124.8h0M582.9 73.0h0M426.5 148.6h0M442.0 204.1h0M469.2 75.7h0M514.3 169.6h0M599.7 92.5h0M419.6 137.8h0M509.8 168.0h0M446.2 171.4h0M453.2 168.3h0M466.1 121.9h0M447.6 134.9h0M471.4 112.7h0M580.0 123.0h0M461.1 75.5h0M455.5 133.0h0M497.1 161.9h0M496.4 166.8h0M494.9 164.1h0M496.1 165.6h0M497.2 167.0h0M577.7 110.4h0M605.7 84.6h0M459.1 62.0h0M488.3 150.9h0M603.7 81.3h0M550.1 96.5h0M458.2 67.6h0M476.5 145.0h0M581.2 117.7h0M489.9 152.3h0M423.4 200.2h0M584.1 108.3h0M436.7 170.6h0M482.2 119.9h0M429.1 174.1h0M470.2 79.2h0M470.7 66.6h0M510.9 177.9h0M440.7 106.9h0M431.1 183.3h0M529.6 147.7h0M572.6 179.0h0M454.4 97.5h0M463.9 75.1h0M468.2 77.9h0M520.1 155.4h0M591.4 111.6h0M441.5 103.5h0M503.1 172.3h0M594.1 112.4h0M510.0 167.3h0M582.4 80.3h0M467.6 84.7h0M513.6 169.1h0M497.6 173.0h0M489.8 123.4h0M447.3 104.6h0M466.3 67.9h0M501.2 176.4h0M458.0 72.0h0M501.5 163.7h0M458.9 62.4h0M451.1 99.7h0M585.7 124.2h0M495.2 165.6h0M505.8 174.3h0M462.1 78.1h0M548.7 83.1h0M461.7 86.1h0M465.6 120.2h0M466.6 76.0h0M432.8 28.3h0M593.0 119.0h0M490.8 124.9h0M469.3 71.6h0M426.1 125.6h0M435.6 153.6h0M437.7 106.6h0M591.5 82.9h0M460.9 84.4h0M481.3 153.9h0M565.4 118.0h0M573.4 106.9h0M484.4 123.9h0M463.5 132.3h0M443.0 100.8h0M458.6 75.6h0M591.9 120.6h0M435.5 141.0h0M572.2 103.6h0M582.6 120.5h0M419.4 127.4h0M493.5 172.7h0M441.3 136.3h0M498.8 168.2h0M461.8 133.2h0M506.7 171.9h0M470.3 123.4h0M473.6 151.5h0M478.1 126.3h0M508.0 165.9h0M434.1 207.5h0M422.4 151.8h0M493.3 120.5h0M455.6 64.9h0M438.3 106.2h0M587.7 86.6h0M503.2 162.3h0M436.1 158.3h0M459.8 68.6h0M453.5 95.8h0M582.7 111.3h0M459.9 169.5h0M467.7 81.5h0M466.2 126.6h0M464.8 71.7h0M426.2 153.5h0M585.7 94.5h0M575.8 121.2h0M458.8 125.4h0M459.3 89.8h0M460.5 71.0h0M426.1 163.1h0M579.0 112.3h0M575.2 124.9h0M481.8 119.1h0M450.3 132.0h0M498.0 177.2h0M420.8 133.3h0M457.2 91.5h0M434.5 138.9h0M469.6 75.3h0M567.6 78.3h0M442.2 100.3h0M516.3 167.9h0M448.9 98.8h0M465.5 69.4h0M454.3 115.9h0M472.6 73.1h0M499.5 173.1h0M428.8 122.6h0M423.6 157.5h0M499.9 178.0h0M477.9 125.4h0M466.0 128.1h0M596.4 83.7h0M436.3 188.5h0M450.6 105.5h0M484.8 151.0h0M454.9 67.1h0M575.1 118.2h0M566.0 94.8h0M556.9 96.2h0M462.6 74.7h0M555.7 89.1h0M515.5 166.8h0M461.0 78.2h0M459.8 71.8h0M431.2 128.8h0M462.8 81.2h0M439.3 105.9h0M589.1 128.5h0M434.1 162.8h0M467.3 123.4h0M494.9 145.9h0M455.4 94.0h0M463.4 123.5h0M589.5 73.1h0M448.6 109.7h0M436.5 183.1h0M445.5 106.0h0M463.2 133.1h0M516.0 167.5h0M512.4 165.7h0M468.5 67.2h0M496.3 167.7h0M488.2 122.1h0M468.6 110.9h0M468.3 74.0h0M459.6 132.6h0M426.4 147.9h0M513.7 156.6h0M502.8 165.5h0M490.8 123.4h0M513.2 162.1h0M443.0 97.6h0M501.4 149.6h0M509.0 175.9h0M473.0 124.3h0M433.0 183.8h0M507.6 174.7h0M468.5 80.0h0M585.7 77.4h0M594.0 120.7h0M461.3 73.7h0M464.4 68.3h0M605.2 81.7h0M449.2 103.1h0M507.1 165.6h0M422.6 150.4h0M463.4 113.2h0M432.1 172.0h0M586.2 119.9h0M437.2 184.3h0M511.8 173.2h0M443.2 136.5h0M498.1 178.2h0M444.6 97.1h0M459.2 130.6h0M426.6 131.2h0M445.3 105.1h0M493.5 168.0h0M472.7 127.2h0M506.1 160.5h0M458.9 89.6h0M462.0 114.1h0M464.0 82.9h0M483.0 144.0h0M564.3 118.5h0M563.4 111.2h0M460.1 72.6h0M500.7 174.9h0M508.1 147.3h0M469.9 66.7h0M459.9 62.2h0M557.9 108.2h0M463.4 115.2h0M480.1 115.0h0M509.4 152.8h0M507.3 171.5h0M575.5 128.4h0M553.3 103.6h0M496.2 153.2h0M463.9 62.6h0M511.5 152.6h0M460.4 66.7h0M507.5 178.8h0M454.7 92.2h0M465.3 80.8h0M439.1 147.4h0M498.5 171.5h0M445.8 103.0h0M441.6 99.3h0M469.2 74.1h0M445.7 206.6h0M466.0 130.6h0M496.9 177.2h0M465.6 79.2h0M473.1 154.4h0M436.9 139.7h0M439.0 130.4h0M460.3 126.8h0M482.3 140.9h0M481.0 113.7h0M448.1 195.9h0M434.6 156.5h0M512.1 174.5h0M427.8 167.6h0M567.8 94.2h0M433.3 25.7h0M425.7 129.0h0M441.4 199.8h0M584.8 115.4h0M507.4 172.2h0M506.8 177.7h0M512.8 142.5h0M505.9 164.7h0M490.3 138.8h0M462.4 69.1h0M480.3 123.2h0M470.0 75.9h0M440.5 135.5h0M587.5 117.1h0M455.9 67.6h0M497.1 168.8h0M565.5 93.9h0M593.7 118.9h0M458.4 88.3h0M423.6 147.0h0M568.7 118.5h0M504.0 152.6h0M460.0 62.7h0M585.9 72.6h0M492.4 121.9h0M503.2 168.9h0M513.6 163.9h0M437.0 189.5h0M472.9 128.3h0M468.0 83.6h0M492.8 154.3h0M527.5 149.4h0M455.8 110.3h0M463.8 162.0h0M464.4 83.1h0M487.6 149.3h0M426.2 170.6h0M589.4 122.6h0M498.5 169.7h0M469.3 69.8h0M594.0 122.9h0M469.8 67.2h0M506.5 166.9h0M464.9 76.9h0M464.1 120.3h0M563.3 89.7h0M439.9 104.0h0M495.5 160.3h0M422.2 169.1h0M435.0 137.3h0M601.6 79.2h0M466.6 71.2h0M465.0 66.5h0M488.5 129.4h0M458.4 64.7h0M514.6 167.8h0M494.2 163.6h0M494.7 170.5h0M579.1 122.6h0M507.1 179.2h0M466.3 79.3h0M455.9 112.1h0M477.9 128.6h0M511.0 170.6h0M462.8 68.0h0M440.1 99.1h0M447.2 135.1h0M421.9 168.8h0M440.3 99.7h0M584.4 90.1h0M440.5 133.6h0M483.4 153.7h0M514.6 170.2h0M443.5 96.6h0M505.6 179.0h0M449.8 169.6h0M490.3 146.1h0M452.7 96.8h0M597.7 93.3h0M503.8 162.3h0M469.5 66.7h0M488.1 149.9h0M444.0 112.1h0M444.5 167.5h0M487.9 134.9h0M468.9 75.8h0M449.3 129.5h0M469.5 67.7h0M463.5 69.8h0M435.0 28.9h0M548.2 84.4h0M466.7 121.7h0M454.4 129.0h0M558.9 112.4h0M458.1 75.1h0M424.2 151.4h0M449.6 101.8h0M603.6 82.1h0M503.9 173.8h0M473.0 73.5h0M480.3 124.1h0M472.0 77.0h0M482.9 133.8h0M466.8 77.6h0M467.5 85.4h0M555.1 91.5h0M478.4 148.1h0M463.7 78.3h0M458.4 68.1h0M518.4 147.1h0M463.6 75.2h0M582.8 82.3h0M470.6 80.5h0M548.7 81.4h0M469.2 124.3h0M592.3 104.6h0M487.0 125.2h0M487.9 129.0h0M559.3 78.2h0M565.9 117.1h0M442.0 194.2h0M470.2 75.4h0M557.1 106.4h0M495.2 136.7h0M460.2 85.8h0M560.0 89.2h0M456.1 63.8h0M560.3 81.1h0M464.7 83.9h0M482.2 125.3h0M489.2 123.2h0M456.3 69.0h0M469.7 71.8h0M505.1 162.3h0M474.6 125.5h0M452.6 169.0h0M570.2 123.9h0M419.5 127.2h0M570.6 126.3h0M462.4 77.7h0M554.2 78.4h0M570.9 104.3h0M465.4 123.5h0M432.4 29.5h0M571.7 126.3h0M465.1 72.5h0M470.0 68.8h0M582.8 82.9h0M478.5 128.1h0M470.3 75.3h0M467.7 84.0h0M600.0 95.0h0M502.1 177.7h0M482.4 141.8h0M573.4 181.2h0M491.0 127.2h0M434.3 183.4h0M499.9 165.7h0M501.3 169.7h0M499.9 179.5h0M572.2 108.1h0M489.6 130.2h0M520.5 148.0h0M579.3 120.3h0M457.3 68.4h0M510.9 174.9h0M461.6 121.2h0M594.1 90.7h0M469.4 71.5h0M455.1 65.6h0M462.6 83.4h0M495.1 173.0h0M453.0 115.3h0M466.5 70.0h0M491.0 126.6h0M579.6 79.0h0M469.3 67.7h0M457.4 72.8h0M512.4 165.7h0M425.5 136.2h0M494.4 167.5h0M448.2 200.0h0M454.4 110.0h0M585.7 120.5h0M469.6 157.9h0M459.4 86.4h0M466.1 77.5h0M514.3 170.0h0M499.4 169.6h0M439.4 203.4h0M503.0 167.2h0M451.5 128.8h0M501.0 165.9h0M498.5 168.7h0M424.4 127.2h0M446.2 187.6h0M496.3 169.4h0M463.3 70.3h0M462.8 81.9h0M588.9 119.6h0M457.2 88.5h0M463.2 130.8h0M508.5 168.4h0M442.1 199.4h0M601.1 90.2h0M422.6 124.0h0M443.0 132.9h0M431.4 142.6h0M460.6 86.2h0M436.5 186.9h0M481.3 129.1h0M452.7 95.8h0M521.5 147.2h0M561.9 98.1h0M421.4 144.7h0M604.1 82.0h0M463.8 75.1h0M465.3 65.7h0M496.1 129.1h0M502.9 170.6h0M512.4 174.5h0M593.7 120.4h0M456.4 112.3h0M459.7 113.9h0M602.6 87.1h0M514.6 172.8h0M549.7 90.2h0M506.3 175.3h0M519.3 146.3h0M500.7 175.9h0M465.4 80.0h0M442.4 137.0h0M449.5 195.0h0M567.0 107.5h0M440.8 195.0h0M462.0 118.7h0M469.3 120.9h0M582.4 84.6h0M451.2 181.2h0M470.5 78.8h0M512.8 172.0h0M514.5 155.4h0M423.1 141.5h0M572.0 107.0h0M448.1 108.0h0M457.6 112.0h0M424.4 135.1h0M503.7 165.4h0M435.4 169.6h0M469.1 65.6h0M524.0 150.6h0M547.5 89.7h0M552.6 100.1h0M464.8 79.1h0M424.8 145.7h0M454.9 64.9h0M480.9 124.5h0M502.3 167.7h0M445.1 201.9h0M428.7 176.4h0M469.2 161.0h0M486.7 114.4h0M423.7 190.7h0M451.2 100.3h0M470.8 119.3h0M434.3 186.2h0M587.9 74.4h0M570.3 121.6h0M490.4 122.5h0M505.4 179.8h0M443.7 175.1h0M504.7 170.3h0M599.1 80.9h0M467.7 133.2h0M432.3 166.3h0M546.7 99.1h0M431.0 178.8h0M578.3 130.4h0M602.8 92.9h0M449.6 100.7h0M457.2 92.0h0M509.0 171.5h0M565.3 101.0h0M431.5 178.2h0M459.1 68.2h0M502.6 148.6h0M447.5 104.0h0M495.6 174.9h0M442.6 135.7h0M462.3 131.8h0M501.8 168.1h0M463.3 163.8h0M598.7 83.7h0M454.9 116.4h0M598.3 92.7h0M568.4 114.1h0M518.7 153.7h0M472.3 76.1h0M509.6 173.4h0M467.2 74.9h0M457.9 93.8h0M510.6 174.9h0M426.9 173.3h0M449.1 96.8h0M455.6 66.1h0M479.7 122.4h0M514.0 175.2h0M454.0 114.8h0M492.8 165.1h0M501.9 167.2h0M490.7 127.5h0M459.8 70.4h0M526.1 149.8h0M465.3 133.1h0M453.9 64.4h0M589.5 119.4h0M461.3 69.1h0M593.6 72.9h0M439.0 190.9h0M432.5 175.8h0M495.5 164.9h0M457.8 73.4h0M424.8 147.5h0M501.6 168.1h0M436.5 145.7h0M452.5 93.6h0M468.5 109.9h0M463.0 74.9h0M426.6 158.0h0M466.7 81.6h0M448.6 102.6h0M444.3 105.8h0M486.6 114.6h0M509.3 167.1h0M569.8 91.2h0M426.9 147.4h0M482.9 141.7h0M581.8 96.7h0M505.9 172.3h0M434.8 184.2h0M504.8 159.5h0M569.0 120.5h0M573.1 78.1h0M499.3 167.5h0M494.0 162.0h0M437.9 128.2h0M562.2 83.0h0M431.2 209.5h0M560.4 76.9h0M432.2 170.7h0M462.6 85.4h0M448.4 98.5h0M438.5 146.4h0M455.7 69.6h0M438.2 138.5h0M464.5 65.1h0M459.7 86.3h0M518.7 153.8h0M461.0 115.8h0M449.9 179.2h0M583.7 124.4h0M585.1 111.0h0M473.4 113.8h0M504.0 161.1h0M562.5 90.7h0M440.0 107.9h0M464.0 82.0h0M507.8 160.6h0M430.5 206.1h0M499.6 169.4h0M464.5 81.3h0M468.1 66.3h0M441.4 100.0h0M588.7 82.8h0M566.0 107.4h0M448.7 111.4h0M475.7 129.1h0M465.5 66.2h0M585.5 73.4h0M439.6 99.6h0M471.0 80.6h0M478.9 131.0h0M590.6 96.2h0M462.4 63.4h0M441.0 180.1h0M601.1 92.2h0M421.9 132.2h0M508.1 176.2h0M506.5 151.6h0M465.3 74.9h0M494.8 134.0h0M440.8 97.1h0M513.6 162.5h0M497.4 165.4h0M431.8 180.3h0M443.3 97.3h0M442.1 187.1h0M594.9 96.9h0M496.4 166.4h0M421.8 183.1h0M493.8 146.8h0M431.0 178.9h0M508.1 173.3h0M459.3 91.6h0M445.1 100.2h0M507.7 150.6h0M481.7 125.6h0M443.5 105.6h0M455.1 132.6h0M458.3 74.6h0M446.8 170.4h0M488.6 128.4h0M466.6 69.2h0M469.2 128.5h0M431.2 134.1h0M598.2 76.5h0M455.1 109.9h0M569.2 113.7h0M580.5 113.8h0M500.1 177.4h0M560.0 101.0h0M592.0 112.2h0M436.8 176.2h0M504.9 166.4h0M461.2 164.6h0M507.7 167.3h0M457.9 62.8h0M443.0 133.6h0M481.6 148.7h0M456.9 115.9h0M456.9 123.1h0M564.8 99.3h0M423.3 142.4h0M461.1 168.8h0M484.7 144.3h0M426.1 200.0h0M492.6 162.8h0M456.2 173.0h0M503.2 171.8h0M463.9 80.9h0M441.0 107.4h0M505.3 175.8h0M505.7 176.8h0M438.4 100.0h0M464.6 113.0h0M462.5 68.0h0M570.1 109.9h0M516.2 166.8h0M589.0 75.4h0M423.7 193.5h0M505.2 166.6h0M494.5 157.6h0M460.5 67.1h0M512.9 168.8h0M452.2 113.2h0M543.2 88.6h0M603.2 88.1h0M501.5 164.5h0M506.8 170.9h0M435.5 156.4h0M594.6 82.9h0M459.9 69.8h0M592.3 103.9h0M459.3 125.2h0M489.5 145.4h0M491.2 125.0h0M442.5 101.6h0M456.6 71.1h0M453.9 65.5h0M568.3 99.3h0M488.8 139.4h0M426.6 133.0h0M581.3 103.5h0M457.7 64.6h0M509.5 152.0h0M465.5 119.0h0M462.9 81.3h0M490.0 116.0h0M462.6 132.4h0M471.9 71.7h0M502.3 168.0h0M464.6 129.2h0M443.7 135.8h0M444.5 105.1h0M494.2 171.1h0M571.0 114.4h0M462.4 67.6h0M579.4 82.8h0M467.8 80.6h0M468.3 76.9h0M433.0 151.4h0M471.2 126.5h0M444.9 108.0h0M439.8 100.4h0M470.5 77.2h0M575.2 128.1h0M562.8 90.8h0M470.2 154.3h0M456.3 62.7h0M462.0 78.5h0M464.1 75.7h0M446.6 99.9h0M446.7 194.6h0M437.2 155.8h0M464.2 69.4h0M511.2 178.1h0M467.5 68.2h0M452.8 172.1h0M498.8 179.3h0M493.0 160.4h0M495.4 166.2h0M470.0 77.8h0M430.5 162.8h0M501.1 167.5h0M560.6 90.3h0M456.7 169.7h0M505.5 162.5h0M434.4 173.9h0M434.8 141.4h0M440.9 208.7h0M436.4 205.5h0M430.0 156.1h0M426.1 200.1h0M437.3 151.2h0M464.8 80.5h0M472.2 77.3h0M499.2 155.0h0M456.8 133.4h0M445.5 193.4h0M475.6 113.8h0M494.2 138.0h0M569.5 112.8h0M587.2 93.1h0M489.2 140.5h0M488.8 143.1h0M464.5 62.9h0M463.4 70.2h0M425.4 148.5h0M471.0 72.3h0M473.4 127.2h0M460.0 87.6h0M478.8 126.7h0M483.3 113.6h0M471.2 110.3h0M470.3 125.3h0M477.0 124.6h0M437.8 106.6h0M578.2 108.6h0M472.0 129.8h0M498.6 173.1h0M458.2 132.9h0M596.3 76.6h0M461.5 66.0h0M508.0 179.6h0M504.7 180.4h0M458.9 70.6h0M430.4 184.7h0M600.4 95.4h0M438.4 103.4h0M501.9 173.3h0M449.4 184.6h0M492.7 122.8h0M461.8 65.1h0M574.1 108.7h0M575.6 77.9h0M499.9 172.7h0M458.9 72.5h0M505.9 162.6h0M439.2 109.8h0M487.9 152.9h0M436.9 23.5h0M467.9 129.9h0M478.3 125.3h0M549.1 82.9h0M588.8 120.9h0M425.0 148.6h0M458.4 111.8h0M426.1 152.8h0M432.6 150.3h0M448.8 195.7h0M460.6 73.8h0M460.9 78.6h0M441.9 97.2h0M514.8 164.5h0M505.4 179.6h0M491.7 124.8h0M585.7 85.1h0M513.2 148.0h0M582.5 126.8h0M564.0 108.8h0M484.2 127.1h0M456.4 62.5h0M459.5 117.3h0M504.8 171.0h0M515.5 172.6h0M586.0 95.6h0M509.9 167.8h0M493.1 158.0h0M483.7 123.6h0M422.9 145.5h0M503.7 158.4h0M451.4 100.3h0M515.8 139.4h0M441.0 168.8h0M430.1 166.8h0M495.9 157.7h0M466.5 131.8h0M445.5 180.7h0M481.7 133.6h0M583.0 129.7h0M430.9 201.4h0M455.8 67.8h0M447.1 170.0h0M588.6 77.6h0M565.9 116.5h0M497.8 170.2h0M482.6 146.9h0M569.6 119.7h0M459.7 68.5h0M546.8 86.8h0M497.2 177.2h0M541.8 97.3h0M430.7 184.1h0M461.7 85.2h0M484.3 155.4h0M422.7 197.7h0M429.2 144.5h0M446.1 104.1h0M422.8 194.5h0M549.5 84.0h0M447.2 200.6h0M588.3 72.2h0M445.3 135.9h0M508.7 175.8h0M508.7 148.8h0M570.5 109.8h0M427.2 130.8h0M440.4 136.4h0M503.6 165.2h0M512.4 166.1h0M607.2 90.7h0M429.4 190.8h0M599.6 85.9h0M459.1 71.3h0M428.0 163.3h0M426.6 126.7h0M462.8 83.7h0M453.8 95.2h0M454.7 91.8h0M465.3 76.3h0M449.5 191.6h0M511.0 169.4h0M491.9 133.6h0M498.2 129.2h0M436.1 145.8h0M487.0 115.6h0M455.9 70.4h0M577.6 105.6h0M479.2 125.2h0M519.4 147.0h0M450.9 131.4h0M460.8 63.6h0M430.1 140.6h0M550.6 91.5h0M500.0 170.5h0M561.7 76.5h0M427.0 148.7h0M448.4 14.8h0M446.1 100.3h0M504.3 172.9h0M579.8 98.2h0M424.8 159.9h0M444.6 136.2h0M446.2 167.0h0M464.2 83.2h0M477.0 143.1h0M589.1 123.0h0M443.6 177.4h0M452.2 92.1h0M485.5 146.8h0M493.7 172.5h0M597.3 90.5h0M426.9 143.1h0M594.1 99.9h0M490.8 144.3h0M602.9 79.7h0M572.3 180.7h0M435.1 143.9h0M546.2 100.3h0M505.8 165.6h0M512.4 171.5h0M562.2 88.4h0M479.1 147.3h0M578.8 105.0h0M492.8 168.4h0M541.0 97.7h0M566.6 100.7h0M444.3 112.5h0M465.9 113.3h0M456.7 123.6h0M467.4 68.9h0M488.5 158.8h0M475.0 124.8h0M458.1 70.5h0M443.6 106.7h0M459.3 128.3h0M457.6 115.9h0M457.5 69.6h0M450.5 104.3h0M461.2 129.6h0M449.0 169.3h0M516.9 142.5h0M436.1 171.4h0M497.2 164.8h0M495.6 131.8h0M422.5 174.1h0M473.3 126.8h0M446.4 106.4h0M448.8 112.1h0M466.0 164.9h0M560.2 94.9h0M441.4 133.5h0M456.4 70.6h0M504.2 147.8h0M441.8 111.9h0M429.4 175.5h0M593.4 100.2h0M423.4 169.7h0M524.6 141.9h0M463.2 64.2h0M472.4 71.7h0M441.1 111.5h0M515.8 171.7h0M555.2 103.2h0M452.1 115.2h0M512.3 166.4h0M429.3 136.0h0M571.6 182.7h0M456.1 68.0h0M482.4 173.7h0M442.7 187.2h0M464.7 64.8h0M446.7 120.3h0M459.3 85.4h0M471.5 68.1h0M491.4 131.4h0M595.8 79.0h0M454.2 65.2h0M433.0 187.1h0M468.5 66.2h0M445.9 134.4h0M467.2 71.3h0M439.2 99.5h0M494.4 155.0h0M498.8 173.3h0M562.9 116.1h0M439.0 103.0h0M587.0 109.7h0M419.9 138.8h0M507.1 169.4h0M449.1 101.2h0M566.5 121.3h0M466.6 67.9h0M569.9 114.1h0M459.0 87.5h0M501.9 152.3h0M591.6 109.4h0M474.0 121.1h0M445.5 102.0h0M512.6 176.3h0M446.4 111.8h0M444.6 197.8h0M455.4 67.8h0M461.7 70.9h0M454.9 109.8h0M509.0 165.1h0M464.4 71.2h0M457.0 112.2h0M445.0 97.5h0M502.3 168.8h0M455.6 65.2h0M437.3 180.3h0M578.6 78.2h0M436.8 128.6h0M438.8 130.3h0M504.8 175.9h0M450.2 132.0h0M580.9 107.3h0M469.5 154.7h0M494.7 174.2h0M580.9 76.5h0M586.2 89.6h0M444.9 104.5h0M437.0 131.6h0M444.6 97.2h0M441.4 186.5h0M561.8 98.0h0M512.9 166.1h0M499.9 167.4h0M482.9 127.8h0M450.9 102.4h0M459.7 75.2h0M506.8 153.8h0M448.2 197.9h0M442.5 132.1h0M468.8 75.1h0M501.9 178.6h0M456.0 115.1h0M511.3 170.1h0M459.1 85.3h0M461.4 85.2h0M428.4 134.6h0M596.8 97.4h0M603.5 78.5h0M470.9 70.4h0M428.8 133.9h0M432.6 175.8h0M592.1 82.6h0M447.4 101.1h0M606.8 90.7h0M455.3 70.3h0M462.8 73.2h0M508.7 176.9h0M483.7 120.9h0M601.1 80.8h0M454.5 62.8h0M436.5 178.0h0M457.8 71.1h0M568.9 109.6h0M505.6 177.9h0M599.1 79.4h0M508.4 174.6h0M465.2 112.6h0M465.7 67.0h0M438.4 164.8h0M480.2 129.6h0M434.7 209.7h0M501.7 163.3h0M423.7 176.8h0M459.9 130.5h0M499.4 165.3h0M503.6 174.4h0M446.2 100.5h0M489.8 126.0h0M440.7 203.7h0M460.7 78.6h0M570.0 110.6h0M485.2 153.9h0M477.4 128.0h0M510.2 164.7h0M574.1 109.8h0M593.6 105.4h0M463.0 64.8h0M454.7 63.9h0M425.7 149.1h0M423.0 166.1h0M441.2 105.9h0M437.1 209.2h0M492.6 149.8h0M464.9 63.7h0M467.2 113.8h0M435.1 29.9h0M448.9 99.6h0M427.7 140.9h0M587.9 106.6h0M446.7 181.9h0M440.0 106.9h0M597.2 79.2h0M444.2 96.9h0M459.4 69.7h0M521.3 154.2h0M470.4 118.8h0M504.8 171.7h0M507.7 165.2h0M498.1 165.0h0M441.4 141.1h0M597.1 75.7h0M589.9 109.2h0M515.2 170.8h0M550.4 100.6h0M466.0 83.9h0M526.1 144.5h0M494.3 171.3h0M459.0 120.6h0M513.6 169.9h0M571.6 98.9h0M499.0 169.1h0M588.1 119.8h0M560.0 110.7h0M419.2 133.6h0M434.0 148.9h0M445.7 102.6h0M459.0 88.1h0M585.8 115.3h0M504.8 179.9h0M598.1 74.7h0M507.1 169.9h0M463.9 115.7h0M504.3 162.1h0M499.7 156.4h0M457.9 75.1h0M423.7 191.2h0M461.2 89.4h0M497.4 165.3h0M581.3 79.9h0M449.1 115.7h0M572.4 113.7h0M431.7 138.7h0M484.3 118.1h0M605.5 86.3h0M450.7 169.7h0M455.5 69.3h0M450.7 104.8h0M494.9 165.1h0M580.4 104.6h0M516.5 155.5h0M487.3 116.2h0M488.7 117.6h0M458.6 63.9h0M526.9 149.2h0M510.0 172.8h0M444.5 103.0h0M490.9 131.8h0M467.2 71.1h0M487.6 115.3h0M458.0 70.4h0M510.3 175.3h0M512.2 167.1h0M551.9 78.8h0M437.4 25.1h0M593.0 125.9h0M438.8 148.4h0M566.4 88.3h0M456.8 94.6h0M496.4 162.5h0M482.8 119.9h0M427.8 168.6h0M553.0 104.2h0M491.5 116.2h0M600.8 78.4h0M445.7 97.1h0M558.2 87.3h0M506.0 174.6h0M446.3 105.9h0M584.4 125.6h0M573.5 108.8h0M467.2 71.3h0M447.8 198.6h0M471.3 123.6h0M506.8 162.4h0M499.6 158.6h0M437.8 155.4h0M435.2 201.8h0M448.0 107.9h0M576.7 84.7h0M503.3 162.6h0M493.0 132.9h0M504.3 167.8h0M587.3 116.3h0M464.1 163.5h0M481.5 143.6h0M449.5 192.0h0M574.0 98.8h0M445.7 108.9h0M467.2 77.5h0M448.9 130.9h0M470.7 80.8h0M456.0 94.7h0M520.5 151.5h0M517.8 140.0h0M470.2 76.2h0M594.2 95.4h0M464.9 161.4h0M581.1 127.4h0M480.4 123.3h0M467.7 66.0h0M448.0 108.8h0M447.4 111.9h0M511.7 176.8h0M453.4 174.0h0M597.8 93.9h0M507.2 140.9h0M450.3 104.7h0M482.3 151.3h0M597.6 96.9h0M566.1 88.6h0M441.0 102.2h0M569.9 181.8h0M560.6 76.7h0M437.7 184.1h0M469.8 122.2h0M513.9 168.9h0M457.1 93.8h0M579.4 80.0h0M454.0 91.1h0M450.7 184.5h0M499.0 169.4h0M575.9 127.8h0M574.4 79.6h0M456.6 66.5h0M444.6 188.3h0M575.3 120.0h0M505.9 163.3h0M563.4 101.8h0M579.0 74.8h0M507.2 172.3h0M504.1 172.3h0M554.1 85.4h0M441.7 186.3h0M491.0 122.4h0M463.9 70.5h0M501.1 170.3h0M495.6 172.6h0M583.6 86.1h0M513.0 173.8h0M491.6 138.7h0M429.3 176.6h0M495.4 166.2h0M507.1 178.0h0M442.8 102.9h0M435.5 25.2h0M510.2 168.4h0M483.5 127.3h0M514.8 164.5h0M440.9 141.9h0M501.9 162.7h0M548.8 89.4h0M477.0 128.6h0M462.5 62.4h0M494.3 169.1h0M447.9 192.8h0M461.8 71.0h0M584.5 86.0h0M473.6 120.4h0M459.9 70.9h0M565.5 77.8h0M434.4 169.3h0M479.0 112.2h0M576.5 130.2h0M428.2 152.1h0M499.0 163.8h0M506.4 146.8h0M451.4 111.5h0M439.4 102.6h0M443.1 107.4h0M579.6 85.2h0M424.5 175.9h0M519.8 156.5h0M449.4 174.4h0M452.5 94.8h0M476.9 152.6h0M584.6 81.0h0M556.3 81.6h0M501.1 172.6h0M453.5 131.1h0M478.4 147.5h0M472.2 124.6h0M462.2 119.6h0M450.4 101.4h0M499.0 178.3h0M467.9 79.7h0M585.3 78.0h0M549.3 88.1h0M597.3 73.7h0M498.7 154.2h0M488.3 115.1h0M464.9 115.1h0M422.4 143.8h0M504.5 162.5h0M483.7 121.7h0M460.1 69.1h0M430.5 147.6h0M448.1 98.3h0M501.9 162.4h0M585.2 130.6h0M504.7 179.4h0M545.8 91.3h0M567.7 122.2h0M433.4 133.4h0M427.5 140.4h0M570.4 97.8h0M506.2 168.9h0M467.4 80.5h0M601.8 94.5h0M572.1 85.1h0M511.9 170.2h0M595.7 75.6h0M514.0 169.1h0M447.6 96.9h0M580.8 108.1h0M444.2 99.0h0M560.5 92.2h0M456.3 66.1h0M455.3 118.7h0M600.0 85.1h0M504.9 163.0h0M504.4 178.7h0M499.3 162.7h0M467.0 83.5h0M441.6 187.4h0M471.8 71.8h0M485.5 115.9h0M497.5 159.7h0M443.3 194.3h0M434.2 200.2h0M588.6 98.4h0M514.6 147.4h0M447.6 188.6h0M507.2 167.3h0M449.3 99.2h0M504.3 170.5h0M461.1 72.1h0M462.4 87.9h0M421.2 139.1h0M467.2 71.7h0M485.9 140.4h0M586.7 109.9h0M601.7 80.8h0M472.2 110.6h0M434.9 134.0h0M447.2 103.0h0M592.2 112.3h0M607.6 91.0h0M547.2 100.8h0M583.6 76.0h0M555.3 85.4h0M449.4 180.7h0M464.5 125.5h0M581.3 96.8h0M490.7 130.9h0M468.2 73.1h0M500.4 171.5h0M426.8 190.0h0M430.7 183.8h0M450.4 171.5h0M431.2 151.4h0M588.5 126.4h0M592.7 75.4h0M585.9 85.5h0M467.0 82.2h0M499.9 163.3h0M426.8 125.7h0M499.2 179.1h0M467.2 79.7h0M456.4 66.4h0M453.1 179.1h0M438.0 146.2h0M585.0 88.8h0M493.6 122.8h0M554.2 105.0h0M580.9 89.9h0M467.1 74.9h0M470.8 71.5h0M498.4 165.4h0M434.5 142.6h0M504.6 171.3h0M466.7 82.4h0M503.1 178.8h0M470.4 67.7h0M553.7 90.2h0M477.5 120.4h0M469.9 70.5h0M466.0 69.2h0M498.7 153.4h0M514.3 174.2h0M562.0 102.6h0M586.8 82.8h0M464.7 118.1h0M433.0 142.9h0M464.3 65.8h0M593.1 94.9h0M471.4 74.9h0M469.2 73.6h0M450.3 14.7h0M503.0 162.9h0M458.7 67.9h0M562.0 109.4h0M545.8 92.0h0M466.6 81.1h0M472.2 129.7h0M446.1 196.6h0M465.5 127.5h0M451.0 99.6h0M459.3 75.1h0M563.0 98.9h0M569.4 181.6h0M447.5 109.0h0M452.0 109.9h0M434.0 126.1h0M548.1 95.0h0M445.3 133.3h0M509.5 144.8h0M483.7 143.4h0M568.3 93.5h0M599.0 77.8h0M429.4 141.8h0M455.8 89.0h0M448.4 108.9h0M431.5 140.2h0M470.5 79.1h0M463.0 131.4h0M446.7 108.5h0M469.0 65.3h0M500.1 173.6h0M458.2 116.0h0M443.5 194.3h0M600.2 76.2h0M435.8 166.7h0M512.1 165.9h0M479.9 122.2h0M471.4 78.2h0M495.5 173.2h0M457.2 131.8h0M492.9 162.7h0M459.7 73.6h0M511.0 167.1h0M432.4 206.7h0M506.7 164.3h0M501.9 176.9h0M434.5 177.1h0M449.2 194.3h0M442.8 99.1h0M460.6 65.2h0M488.9 156.0h0M498.3 173.5h0M447.4 100.1h0M489.9 134.8h0M462.9 64.9h0M459.9 74.8h0M446.9 168.3h0M496.5 163.6h0M569.2 124.2h0M446.4 112.1h0M443.8 102.9h0M472.1 129.7h0M447.4 110.8h0M465.8 113.3h0M425.7 179.3h0M433.3 142.0h0M423.4 194.1h0M470.2 157.6h0M455.7 169.6h0M511.1 163.0h0M601.1 78.4h0M604.4 88.9h0M579.6 96.3h0M455.8 96.5h0M442.9 133.3h0M495.6 164.0h0M491.2 124.3h0M443.6 100.7h0M559.0 85.4h0M461.4 82.6h0M513.5 161.5h0M579.7 110.7h0M421.6 123.8h0M439.9 190.4h0M470.4 118.5h0M485.3 127.0h0M570.0 103.3h0M489.5 131.4h0M573.3 179.6h0M466.0 164.9h0M588.6 91.9h0M464.1 79.2h0M508.9 155.0h0M445.3 169.8h0M468.1 75.4h0M481.1 148.8h0M598.0 74.4h0M432.8 147.2h0M506.8 168.2h0M586.0 113.1h0M419.7 131.0h0M462.0 69.6h0M504.9 171.8h0M572.9 102.1h0M450.3 101.7h0M485.3 133.4h0M428.3 162.6h0M428.2 198.0h0M445.8 184.8h0M423.7 204.3h0M510.3 138.9h0M433.5 184.7h0M446.4 131.3h0M501.3 171.1h0M457.9 133.1h0M573.9 180.0h0M510.0 162.4h0M467.3 74.4h0M595.9 76.7h0M598.0 74.2h0M589.9 99.8h0M454.8 66.4h0M477.2 116.3h0M502.4 157.1h0M495.9 164.9h0M450.5 98.2h0M497.7 172.8h0M454.1 93.9h0M499.8 175.4h0M439.0 98.1h0M426.5 139.1h0M500.2 168.1h0M434.3 133.1h0M504.8 162.4h0M592.8 87.0h0M511.8 170.2h0M522.0 147.4h0M507.9 178.6h0M431.4 205.4h0M448.7 107.0h0M488.2 126.1h0M540.6 94.6h0M586.8 111.4h0M457.5 69.5h0M433.2 210.3h0M460.3 85.8h0M581.9 106.6h0M507.9 156.9h0M501.0 167.1h0M445.9 167.7h0M448.4 104.5h0M454.8 66.9h0M502.4 171.3h0M483.7 124.0h0M425.0 203.2h0M581.2 87.4h0M483.0 141.0h0M498.4 177.0h0M599.6 80.9h0M469.6 70.6h0M456.2 72.2h0M546.9 93.1h0M584.0 82.3h0M504.0 173.4h0M449.2 97.6h0M510.0 176.4h0M557.9 107.6h0M489.8 148.7h0M504.5 164.6h0M590.7 82.5h0M444.2 206.4h0M498.0 172.3h0M462.3 71.6h0M445.2 171.9h0M468.8 72.2h0M462.9 131.2h0M581.6 83.2h0M487.5 114.4h0M467.2 68.6h0M457.7 64.2h0M502.6 163.6h0M589.9 105.1h0M434.2 124.9h0M460.0 86.5h0M583.1 76.4h0M469.0 121.0h0M562.2 86.2h0M462.3 115.3h0M439.2 102.0h0M470.3 68.4h0M457.6 74.2h0M580.7 125.2h0M593.8 104.0h0M465.5 72.6h0M444.5 171.0h0M570.8 118.2h0M591.5 92.8h0M436.8 186.5h0M464.9 126.7h0M499.8 157.8h0M436.6 142.0h0M495.0 120.0h0M465.2 72.3h0M471.5 72.9h0M434.8 210.0h0M501.2 141.9h0M497.1 163.8h0M599.9 95.0h0M495.5 130.7h0M438.9 133.5h0M481.1 158.0h0M513.5 173.4h0M445.7 199.9h0M459.5 70.2h0M437.9 105.9h0M561.9 103.0h0M464.0 131.5h0M439.7 105.8h0M442.5 179.3h0M466.9 73.6h0M444.5 169.2h0M576.8 127.4h0M510.4 155.6h0M574.8 127.6h0M492.5 130.8h0M425.4 142.1h0M480.5 145.9h0M478.5 127.7h0M484.0 119.2h0M564.2 109.8h0M445.0 110.3h0M492.8 161.0h0M599.0 91.4h0M487.5 123.6h0M525.2 150.6h0M513.1 172.7h0M444.2 99.5h0M500.2 170.2h0M603.9 93.4h0M445.0 189.9h0M548.2 100.6h0M593.0 90.9h0M472.1 71.0h0M508.9 177.2h0M431.3 168.0h0M593.2 92.7h0M595.6 109.3h0M480.9 130.0h0M430.3 140.4h0M467.2 70.2h0M500.9 180.0h0M565.3 106.8h0M585.4 114.1h0M496.2 171.1h0M502.5 164.1h0M522.2 150.2h0M467.7 112.7h0M475.8 124.1h0M496.6 176.8h0M434.2 141.4h0M444.4 196.3h0M461.3 85.7h0M457.1 62.7h0M450.1 114.9h0M445.4 102.4h0M525.1 141.2h0M460.1 72.9h0M477.3 127.9h0M595.3 118.4h0M492.6 142.0h0M506.2 175.5h0M469.1 69.5h0M447.4 97.1h0M548.0 95.7h0M499.4 162.8h0M505.6 164.7h0M468.5 65.4h0M585.9 121.5h0M545.5 90.8h0M422.1 148.7h0M465.1 69.9h0M442.5 192.8h0M495.2 99.0h0M464.7 71.6h0M463.5 63.3h0M453.8 92.8h0M435.1 205.3h0M595.4 113.0h0M603.5 95.8h0M502.4 175.5h0M432.2 144.3h0M472.6 115.2h0M560.9 97.8h0M467.4 110.0h0M466.1 112.7h0M488.0 159.1h0M502.1 170.9h0M444.7 204.6h0M428.9 168.3h0M505.8 162.2h0M438.6 150.6h0M421.5 142.0h0M500.4 172.8h0M449.2 106.9h0M441.4 98.2h0M504.1 174.6h0M565.9 83.1h0M595.7 97.3h0M479.6 112.7h0M418.8 133.6h0M448.7 100.7h0M506.3 179.5h0M490.0 142.5h0M586.3 90.6h0M464.2 63.9h0M505.2 157.8h0M466.7 76.8h0M458.3 91.6h0M443.8 205.8h0M470.2 66.6h0M452.0 97.2h0M444.6 170.7h0M455.1 93.4h0M547.9 97.7h0M454.1 130.0h0M513.2 175.9h0M596.4 77.9h0M500.3 173.7h0M428.6 130.5h0M479.5 150.3h0M461.9 85.1h0M442.5 192.1h0M595.4 106.2h0M442.2 132.7h0M439.5 134.8h0M553.3 102.2h0M437.2 185.6h0M429.7 143.2h0M505.5 152.5h0M572.8 109.4h0M428.7 153.6h0M469.4 121.6h0M449.9 131.8h0M435.3 150.4h0M571.5 120.5h0M473.6 123.7h0M458.8 165.9h0M461.2 65.4h0M419.5 126.0h0M483.3 123.8h0M467.2 116.1h0M429.6 152.2h0M445.9 105.3h0M451.8 114.8h0M448.9 105.5h0M496.8 176.9h0M482.7 148.8h0M450.2 97.5h0M525.4 144.2h0M448.1 97.2h0M473.5 151.3h0M484.4 130.8h0M585.2 93.7h0M472.5 125.0h0M453.3 176.7h0M444.9 106.7h0M450.1 101.0h0M513.9 175.3h0M474.6 117.7h0M425.1 149.2h0M487.9 158.2h0M598.5 95.5h0M497.0 154.9h0M466.4 64.1h0M504.3 175.1h0M561.6 109.7h0M467.1 83.0h0M441.4 98.9h0M582.6 124.5h0M493.6 171.7h0M478.0 111.3h0M447.5 198.2h0M589.6 128.7h0M455.1 68.0h0M499.1 173.0h0M463.2 86.7h0M440.2 111.8h0M488.6 123.0h0M460.2 87.8h0M471.3 153.6h0M476.9 128.4h0M459.2 128.8h0M580.7 128.4h0M470.8 68.6h0M600.2 96.5h0M441.9 201.3h0M501.2 146.3h0M453.5 131.4h0M481.4 115.5h0M496.6 164.3h0M457.7 64.2h0M459.6 88.4h0M495.8 171.5h0M563.7 113.7h0M442.4 102.8h0M457.4 71.4h0M598.6 89.3h0M461.6 69.4h0M594.8 75.1h0M426.5 138.1h0M463.9 72.0h0M447.2 110.6h0M451.9 130.9h0M469.7 80.6h0M597.9 77.2h0M459.0 69.3h0M450.4 117.0h0M435.5 24.8h0M466.0 66.3h0M492.8 170.2h0M559.9 93.9h0M449.3 170.5h0M462.2 116.8h0M504.5 173.4h0M455.2 133.4h0M561.3 114.1h0M607.1 91.3h0M573.5 92.0h0M461.8 89.2h0M492.5 150.3h0M475.0 121.0h0M455.1 129.0h0M425.1 160.6h0M584.7 75.4h0M423.0 202.5h0M466.8 123.7h0M439.4 100.0h0M470.7 114.1h0M457.7 75.3h0M466.9 74.0h0M443.3 102.7h0M501.9 173.0h0M459.8 67.8h0M556.8 88.6h0M579.1 128.2h0M595.9 114.7h0M461.4 78.5h0M503.9 146.6h0M495.4 157.5h0M442.5 137.0h0M512.7 177.1h0M495.9 167.0h0M511.6 176.5h0M446.0 105.8h0M456.4 71.7h0M587.5 87.5h0M466.7 131.2h0M591.7 99.5h0M452.9 116.6h0M469.5 77.7h0M462.1 68.3h0M453.0 112.1h0M447.1 103.7h0M594.7 123.7h0M468.7 77.3h0M461.8 74.7h0M510.1 148.7h0M424.3 157.9h0M503.0 164.0h0M457.7 167.4h0M449.8 104.2h0M499.5 103.2h0M458.9 84.2h0M512.1 165.1h0M494.8 123.7h0M494.5 140.6h0M507.6 172.3h0M488.0 118.9h0M502.9 170.5h0M598.4 78.5h0M498.1 172.9h0M564.5 116.7h0M498.6 166.7h0M512.7 155.2h0M513.3 138.8h0M479.0 128.6h0M438.0 101.9h0M596.2 110.8h0M462.1 73.7h0M509.9 164.3h0M588.5 124.1h0M467.2 129.1h0M449.6 171.2h0M462.0 82.8h0M578.8 119.0h0M467.0 76.6h0M422.2 179.6h0M507.7 177.6h0M424.8 145.9h0M463.2 79.2h0M455.9 67.3h0M470.4 79.3h0M471.5 70.4h0M428.5 133.3h0M479.3 112.6h0M443.9 197.7h0M494.3 159.9h0M454.1 117.7h0M470.6 66.8h0M506.4 163.0h0M574.4 78.1h0M468.5 81.7h0M428.4 174.5h0M471.6 67.9h0M499.4 167.8h0M566.7 94.1h0M484.2 127.4h0M466.9 113.4h0M501.4 165.1h0M444.9 204.9h0M495.2 164.6h0M498.1 164.8h0M466.8 64.0h0M460.7 67.0h0M562.4 99.5h0M464.0 66.7h0M469.4 109.6h0M466.7 75.7h0M587.2 109.9h0M453.4 96.4h0M449.7 116.6h0M557.6 110.5h0M503.5 178.4h0M425.0 208.8h0M443.3 98.5h0M448.8 114.7h0M509.1 165.8h0M425.0 200.8h0M590.6 82.4h0M487.8 147.1h0M504.1 164.5h0M448.5 14.4h0M469.5 65.9h0M426.7 204.7h0M507.8 144.3h0M582.9 77.7h0M573.6 179.9h0M461.3 71.9h0M420.8 137.9h0M456.6 115.7h0M487.0 157.6h0M494.7 174.5h0M434.4 201.8h0M468.2 75.1h0M426.8 200.9h0M464.0 132.7h0M479.8 131.6h0M493.1 119.4h0M500.0 166.0h0M474.4 126.7h0M503.8 179.8h0M510.1 153.8h0M588.4 89.8h0M459.5 113.7h0M462.8 74.7h0M506.8 141.2h0M455.4 68.8h0M449.6 14.4h0M529.3 147.5h0M436.5 131.7h0M488.0 115.7h0M504.7 166.0h0M425.1 149.8h0M449.0 111.3h0M459.6 66.3h0M424.9 177.9h0M503.9 163.4h0M492.6 159.8h0M562.1 98.4h0M584.7 122.8h0M589.4 91.3h0M575.3 103.7h0M484.2 121.9h0M495.0 170.6h0M474.5 125.4h0M513.1 176.7h0M594.2 102.7h0M426.0 148.8h0M465.7 63.5h0M513.7 164.3h0M480.7 123.4h0M419.1 132.7h0M605.1 90.0h0M566.5 102.2h0M562.5 86.2h0M587.6 107.4h0M496.7 165.3h0M423.1 156.4h0M515.2 170.1h0M460.1 72.1h0M555.9 95.1h0M453.4 95.3h0M497.4 169.9h0M548.5 96.3h0M589.6 112.5h0M461.8 81.6h0M426.9 154.3h0M454.4 94.7h0M487.3 123.1h0M468.5 70.3h0M444.1 102.2h0M481.5 119.4h0M440.2 21.9h0M560.0 97.9h0M516.1 168.0h0M602.4 88.0h0M465.8 69.4h0M435.1 134.5h0M463.4 162.2h0M455.2 68.9h0M493.6 166.0h0M512.2 171.6h0M504.8 163.6h0M462.2 82.3h0M502.3 159.2h0M586.2 95.0h0M587.5 91.6h0M496.6 175.0h0M439.4 183.7h0M513.7 161.5h0M467.3 69.8h0M582.4 88.6h0M438.1 148.3h0M566.1 120.8h0M467.1 72.1h0M464.5 80.6h0M452.0 175.8h0M456.9 65.4h0M463.4 64.2h0M596.5 84.6h0M461.8 62.3h0M462.4 76.8h0M558.3 77.0h0M574.3 98.8h0M443.0 111.9h0M478.3 127.7h0M462.4 69.6h0M427.6 138.2h0M508.6 157.2h0M487.0 156.0h0M440.4 191.5h0M438.3 155.8h0M510.1 171.3h0M587.0 93.7h0M432.2 127.0h0M557.1 105.3h0M505.7 172.8h0M480.6 114.9h0M471.1 126.8h0M592.7 93.4h0M450.3 113.4h0M466.2 111.7h0M492.5 125.3h0M568.2 81.0h0M435.4 134.0h0M494.6 154.7h0M473.9 121.4h0M465.8 84.3h0M438.8 129.1h0M511.2 170.4h0M551.4 100.7h0M427.0 188.4h0M426.9 147.9h0M511.4 177.9h0M500.3 173.2h0M461.4 165.2h0M470.7 81.2h0M495.8 167.1h0M426.1 182.0h0M591.5 75.2h0M460.9 71.2h0M510.9 173.1h0M448.7 167.3h0M600.0 77.4h0M429.5 177.9h0M449.7 132.0h0M449.5 115.3h0M461.0 75.7h0M585.2 89.3h0M465.4 66.2h0M508.1 174.9h0M443.1 100.6h0M443.3 112.1h0M496.0 124.9h0M462.6 69.3h0M510.9 171.1h0M436.2 187.9h0M438.7 106.3h0M492.3 162.4h0M448.4 112.0h0M518.7 144.0h0M515.8 166.5h0M469.5 66.1h0M509.7 143.5h0M471.2 78.8h0M546.3 97.7h0M442.7 108.6h0M444.5 134.7h0M474.5 116.1h0M466.7 162.4h0M461.3 68.2h0M437.7 104.2h0M422.9 197.3h0M506.7 164.1h0M431.4 197.1h0M513.1 141.4h0M441.2 101.1h0M477.3 124.8h0M506.4 160.9h0M605.4 89.2h0M434.3 148.2h0M459.3 72.6h0M578.3 107.5h0M426.6 168.4h0M509.6 173.2h0M466.4 79.1h0M506.5 158.3h0M442.3 107.2h0M578.9 108.7h0M469.3 113.6h0M447.4 102.5h0M461.7 74.2h0M468.1 81.5h0M567.9 105.5h0M593.8 93.1h0M480.4 123.7h0M503.4 176.8h0M443.5 103.3h0M487.4 116.8h0M464.9 63.8h0M427.4 130.8h0M448.8 113.0h0M465.1 121.4h0M444.0 171.9h0M432.2 183.4h0M502.6 174.5h0M439.1 162.3h0M462.4 109.5h0M424.3 178.9h0M467.8 76.2h0M580.6 110.2h0M448.2 193.5h0M457.0 111.8h0M425.3 122.5h0M464.6 110.0h0M441.1 110.5h0M503.4 153.4h0M506.2 168.7h0M454.1 96.5h0M551.1 88.2h0M502.5 171.1h0M493.5 123.5h0M501.6 173.0h0M448.5 174.0h0M499.2 163.5h0M492.5 149.5h0M438.3 181.6h0M472.6 156.5h0M427.0 166.9h0M597.7 91.8h0M434.2 179.4h0M597.6 76.5h0M456.0 94.0h0M495.8 162.6h0M501.7 147.6h0M548.1 99.0h0M466.9 82.5h0M565.2 81.1h0M579.4 124.0h0M462.5 74.7h0M423.6 167.4h0M459.1 93.6h0M458.4 129.6h0M466.3 67.3h0M607.0 88.0h0M508.7 139.1h0M471.8 108.7h0M465.2 77.3h0M463.7 68.0h0M503.3 166.8h0M605.2 82.0h0M497.8 172.1h0M592.3 107.5h0M462.1 121.3h0M472.8 110.9h0M469.3 67.2h0M498.8 177.8h0M463.0 166.1h0M445.1 100.5h0M463.9 131.8h0M485.7 115.1h0M461.4 84.7h0M493.9 156.7h0M467.3 160.2h0M484.8 132.7h0M588.4 113.2h0M463.1 63.6h0M442.6 102.0h0M501.2 169.9h0M490.2 125.7h0M470.2 127.2h0M463.0 75.7h0M504.8 170.5h0M464.7 77.2h0M476.6 118.3h0M461.9 86.4h0M604.1 79.3h0M463.4 121.4h0M439.9 21.9h0M465.7 74.7h0M447.5 96.9h0M587.4 72.4h0M439.0 150.5h0M527.1 142.2h0M560.5 110.2h0M443.0 169.1h0M468.7 79.6h0M507.4 175.7h0M463.3 79.1h0M442.5 136.7h0M463.2 65.5h0M502.3 166.3h0M430.6 182.6h0M475.5 113.9h0M511.1 178.3h0M569.3 111.4h0M580.4 105.4h0M482.6 135.9h0M461.4 74.0h0M512.1 144.1h0M424.8 156.4h0M573.7 98.7h0M426.7 196.3h0M486.5 119.8h0M577.0 111.4h0M506.3 168.0h0M514.7 173.8h0M488.0 139.2h0M442.8 105.0h0M444.8 98.6h0M574.6 103.2h0M557.8 77.4h0M510.9 176.1h0M448.9 169.8h0M434.4 134.2h0M580.4 103.3h0M497.9 169.8h0M424.5 139.2h0M470.0 120.5h0M451.3 99.8h0M490.5 131.4h0M470.0 81.9h0M564.9 113.0h0M469.2 74.6h0M499.6 173.8h0M509.9 157.2h0M515.4 168.3h0M451.6 108.8h0M499.0 179.3h0M562.0 95.6h0M501.4 174.0h0M459.8 66.8h0M461.6 66.5h0M472.6 71.7h0M458.9 73.3h0M497.0 168.7h0M463.3 127.0h0M471.9 127.4h0M458.0 115.0h0M497.5 151.5h0M443.7 135.7h0M504.3 170.2h0M466.7 75.0h0M428.6 188.0h0M436.2 136.8h0M451.3 175.6h0M555.4 92.1h0M458.9 69.2h0M515.2 143.7h0M457.6 166.3h0M448.3 99.0h0M502.6 143.3h0M516.1 168.9h0M506.7 172.1h0M437.0 23.8h0M477.7 115.7h0M589.4 116.8h0M508.7 177.6h0M453.7 133.3h0M494.8 163.8h0M514.2 167.3h0M462.7 84.7h0M465.6 111.0h0M425.3 206.8h0M459.2 64.1h0M427.8 208.2h0M496.9 177.0h0M572.5 99.3h0M550.6 93.9h0M572.4 180.8h0M503.3 166.9h0M607.2 88.6h0M495.8 136.6h0M493.6 138.0h0M510.0 162.0h0M515.8 167.2h0M561.2 86.1h0M454.1 64.6h0M451.3 100.4h0M447.4 113.6h0M589.6 71.8h0M468.6 66.1h0M590.8 96.9h0M431.0 196.6h0M459.9 62.6h0M467.5 68.7h0M464.1 163.0h0M432.2 200.6h0M499.0 163.3h0M582.9 77.1h0M584.4 109.5h0M513.8 165.7h0M598.5 98.3h0M606.7 90.0h0M485.4 132.0h0M462.3 118.2h0M464.3 77.4h0M458.9 69.4h0M461.6 82.9h0M482.0 116.6h0M592.0 72.6h0M500.0 172.2h0M513.4 173.5h0M443.5 132.1h0M439.7 105.9h0M434.5 154.6h0M436.9 142.3h0M499.1 152.1h0M487.2 127.1h0M441.2 99.1h0M482.7 154.3h0M455.6 64.8h0M424.5 131.1h0M474.1 152.8h0M450.8 174.6h0M597.3 78.0h0M514.4 171.5h0M465.2 67.2h0M432.6 136.2h0M511.1 176.5h0M554.5 93.5h0M592.3 77.3h0M436.6 145.2h0M515.7 168.7h0M454.7 168.1h0M585.9 112.4h0M505.3 164.0h0M467.8 157.9h0M499.5 163.3h0M424.2 150.9h0M463.8 111.7h0M512.4 171.5h0M596.5 76.1h0M447.2 100.5h0M503.0 161.6h0M591.7 78.7h0M441.8 184.0h0M439.6 102.7h0M462.9 62.8h0M479.2 122.8h0M567.2 111.1h0M507.4 170.4h0M463.8 74.9h0M455.0 93.8h0M481.2 118.1h0M434.3 187.6h0M509.6 171.0h0M464.4 77.0h0M472.2 75.2h0M464.9 118.4h0M591.9 119.5h0M471.0 69.3h0M446.6 106.9h0M507.0 176.6h0M505.5 164.6h0M445.2 133.9h0M496.0 177.3h0M514.9 173.9h0M574.4 179.4h0M590.2 111.9h0M427.0 126.6h0M439.3 160.1h0M431.9 151.7h0M455.2 110.2h0M462.5 64.6h0M509.4 172.7h0M439.0 25.1h0M464.5 77.4h0M471.4 78.7h0M462.4 64.5h0M494.2 141.0h0M464.7 80.5h0M602.5 80.3h0M495.4 135.3h0" stroke="#56D2C8" stroke-width="1.00" stroke-linecap="round" fill="none"/>
<g font-family="Liberation Sans, sans-serif" font-size="4.75" fill="#000">
<text x="482.2" y="122.7">Ctrl1~</text>
<text x="497.4" y="124.8">MHS-P2~</text>
</g>
<text x="2.6" y="254.3" font-family="Liberation Sans, sans-serif" font-weight="bold" font-size="13.6" fill="#000">C</text>
<path d="M44.4 267.6V487.7" stroke="#555" stroke-width="0.7" fill="none"/>
<path d="M40.4 487.7H44.4M40.4 443.6H44.4M40.4 399.5H44.4M40.4 355.4H44.4M40.4 311.3H44.4" stroke="#555" stroke-width="0.7" fill="none"/>
<g font-family="Liberation Sans, sans-serif" font-size="6.3" fill="#333" text-anchor="end">
<text x="36" y="489.9">0</text>
<text x="36" y="445.8">20</text>
<text x="36" y="401.7">40</text>
<text x="36" y="357.6">60</text>
<text x="36" y="313.5">80</text>
<text x="36" y="269.4">100</text>
</g>
<g stroke="#3a3a3a" stroke-width="0.55">
<rect x="65.0" y="474.69" width="33.8" height="13.01" fill="#EC706E"/>
<rect x="65.0" y="450.44" width="33.8" height="24.25" fill="#98B62A"/>
<rect x="65.0" y="384.31" width="33.8" height="66.13" fill="#4AD646"/>
<rect x="65.0" y="341.54" width="33.8" height="42.77" fill="#5ED8AE"/>
<rect x="65.0" y="290.40" width="33.8" height="51.14" fill="#6CA0FF"/>
<rect x="65.0" y="267.25" width="33.8" height="23.15" fill="#F964D9"/>
<rect x="105.4" y="476.68" width="33.8" height="11.02" fill="#EC706E"/>
<rect x="105.4" y="476.02" width="33.8" height="0.66" fill="#D89A28"/>
<rect x="105.4" y="441.41" width="33.8" height="34.61" fill="#98B62A"/>
<rect x="105.4" y="372.18" width="33.8" height="69.22" fill="#4AD646"/>
<rect x="105.4" y="336.25" width="33.8" height="35.93" fill="#5ED8AE"/>
<rect x="105.4" y="285.55" width="33.8" height="50.70" fill="#6CA0FF"/>
<rect x="105.4" y="267.25" width="33.8" height="18.30" fill="#F964D9"/>
<rect x="145.8" y="474.03" width="33.8" height="13.67" fill="#EC706E"/>
<rect x="145.8" y="444.05" width="33.8" height="29.98" fill="#98B62A"/>
<rect x="145.8" y="371.52" width="33.8" height="72.53" fill="#4AD646"/>
<rect x="145.8" y="340.22" width="33.8" height="31.30" fill="#5ED8AE"/>
<rect x="145.8" y="288.41" width="33.8" height="51.81" fill="#6CA0FF"/>
<rect x="145.8" y="267.25" width="33.8" height="21.16" fill="#F964D9"/>
<rect x="186.2" y="466.54" width="33.8" height="21.16" fill="#EC706E"/>
<rect x="186.2" y="465.43" width="33.8" height="1.10" fill="#D89A28"/>
<rect x="186.2" y="421.34" width="33.8" height="44.09" fill="#98B62A"/>
<rect x="186.2" y="369.32" width="33.8" height="52.03" fill="#4AD646"/>
<rect x="186.2" y="350.58" width="33.8" height="18.74" fill="#5ED8AE"/>
<rect x="186.2" y="313.32" width="33.8" height="37.26" fill="#6CA0FF"/>
<rect x="186.2" y="267.25" width="33.8" height="46.07" fill="#F964D9"/>
<rect x="226.6" y="474.25" width="33.8" height="13.45" fill="#EC706E"/>
<rect x="226.6" y="472.05" width="33.8" height="2.20" fill="#D89A28"/>
<rect x="226.6" y="434.57" width="33.8" height="37.48" fill="#98B62A"/>
<rect x="226.6" y="379.90" width="33.8" height="54.67" fill="#4AD646"/>
<rect x="226.6" y="353.45" width="33.8" height="26.45" fill="#5ED8AE"/>
<rect x="226.6" y="353.01" width="33.8" height="0.44" fill="#4EC6E2"/>
<rect x="226.6" y="306.71" width="33.8" height="46.29" fill="#6CA0FF"/>
<rect x="226.6" y="267.25" width="33.8" height="39.46" fill="#F964D9"/>
<rect x="267.0" y="460.58" width="33.8" height="27.12" fill="#EC706E"/>
<rect x="267.0" y="457.50" width="33.8" height="3.09" fill="#D89A28"/>
<rect x="267.0" y="410.54" width="33.8" height="46.96" fill="#98B62A"/>
<rect x="267.0" y="384.09" width="33.8" height="26.45" fill="#4AD646"/>
<rect x="267.0" y="368.66" width="33.8" height="15.43" fill="#5ED8AE"/>
<rect x="267.0" y="367.78" width="33.8" height="0.88" fill="#4EC6E2"/>
<rect x="267.0" y="343.75" width="33.8" height="24.03" fill="#6CA0FF"/>
<rect x="267.0" y="267.25" width="33.8" height="76.50" fill="#F964D9"/>
</g>
<g font-family="Liberation Sans, sans-serif" font-size="7.8" fill="#222" text-anchor="end">
<text transform="translate(84.7 494) rotate(-90)" x="0" y="0">MHS-P2~s4</text>
<text transform="translate(125.1 494) rotate(-90)" x="0" y="0">MHS-P2~s5</text>
<text transform="translate(165.5 494) rotate(-90)" x="0" y="0">MHS-P2~s6</text>
<text transform="translate(205.9 494) rotate(-90)" x="0" y="0">Ctrl1~s1</text>
<text transform="translate(246.3 494) rotate(-90)" x="0" y="0">Ctrl1~s2</text>
<text transform="translate(286.7 494) rotate(-90)" x="0" y="0">Ctrl1~s3</text>
</g>
<rect x="302.3" y="271.4" width="102.5" height="90.2" fill="#fff" stroke="#555" stroke-width="0.6"/>
<g font-family="Liberation Sans, sans-serif" font-size="6.6" fill="#222">
<rect x="308.9" y="278.1" width="5.8" height="5.2" fill="#F964D9" stroke="#555" stroke-width="0.4"/>
<text x="320.7" y="283.0">Ventral_Progenitors</text>
<rect x="308.9" y="287.2" width="5.8" height="5.2" fill="#DA72F8" stroke="#555" stroke-width="0.4"/>
<text x="320.7" y="292.1">Unknown</text>
<rect x="308.9" y="296.3" width="5.8" height="5.2" fill="#6CA0FF" stroke="#555" stroke-width="0.4"/>
<text x="320.7" y="301.2">Radial_Glia</text>
<rect x="308.9" y="305.4" width="5.8" height="5.2" fill="#4EC6E2" stroke="#555" stroke-width="0.4"/>
<text x="320.7" y="310.3">OPC</text>
<rect x="308.9" y="314.5" width="5.8" height="5.2" fill="#5ED8AE" stroke="#555" stroke-width="0.4"/>
<text x="320.7" y="319.4">Intermediate_Progenitors</text>
<rect x="308.9" y="323.6" width="5.8" height="5.2" fill="#4AD646" stroke="#555" stroke-width="0.4"/>
<text x="320.7" y="328.5">Glutamatergic_Neurons</text>
<rect x="308.9" y="332.7" width="5.8" height="5.2" fill="#98B62A" stroke="#555" stroke-width="0.4"/>
<text x="320.7" y="337.6">GABAergic_Neurons</text>
<rect x="308.9" y="341.8" width="5.8" height="5.2" fill="#D89A28" stroke="#555" stroke-width="0.4"/>
<text x="320.7" y="346.7">Choroid_Plexus</text>
<rect x="308.9" y="350.9" width="5.8" height="5.2" fill="#EC706E" stroke="#555" stroke-width="0.4"/>
<text x="320.7" y="355.8">Astroglia</text>
</g>
<text x="409.3" y="255.4" font-family="Liberation Sans, sans-serif" font-weight="bold" font-size="13.6" fill="#000">D</text>
<text x="556.5" y="272.6" font-family="Liberation Sans, sans-serif" font-size="9.4" fill="#222" text-anchor="middle">NRXN3</text>
<text transform="translate(428.6 342.5) rotate(-90)" font-family="Liberation Sans, sans-serif" font-size="8.9" fill="#000" text-anchor="middle">Expression Level</text>
<path d="M441.8 284.7V393.5" stroke="#b8b8b8" stroke-width="1.4" fill="none"/>
<path d="M439.6 388.6H441.2M439.6 363.3H441.2M439.6 338.0H441.2M439.6 312.7H441.2M439.6 287.4H441.2" stroke="#333" stroke-width="0.6"/>
<g font-family="Liberation Sans, sans-serif" font-size="6.5" fill="#222" text-anchor="end">
<text x="437.2" y="390.9">0</text>
<text x="437.2" y="365.6">1</text>
<text x="437.2" y="340.3">2</text>
<text x="437.2" y="315.0">3</text>
<text x="437.2" y="289.7">4</text>
</g>
<path d="M481.55 388.60C483.50 386.53 484.95 385.15 485.00 384.00C485.04 383.61 485.00 383.37 485.00 383.03C485.00 382.33 484.95 381.41 485.20 381.01L485.70 381.01C485.95 381.41 485.90 382.33 485.90 383.03C485.90 383.37 485.85 383.61 485.90 384.00C485.94 385.15 487.40 386.53 489.35 388.60Z" fill="#EBA032" stroke="#555" stroke-width="0.4"/>
<path d="M509.56 388.60C511.81 383.20 512.74 379.60 512.86 376.60C512.98 371.28 512.16 367.96 512.16 363.30C512.16 353.56 513.56 341.04 513.81 335.47L514.31 335.47C514.56 341.04 515.96 353.56 515.96 363.30C515.96 367.96 515.14 371.28 515.26 376.60C515.38 379.60 516.31 383.20 518.56 388.60Z" fill="#B5B52C" stroke="#555" stroke-width="0.4"/>
<path d="M519.10 388.60C521.35 383.20 522.28 379.60 522.40 376.60C522.52 371.28 521.70 367.96 521.70 363.30C521.70 353.56 523.10 341.04 523.35 335.47L523.85 335.47C524.10 341.04 525.50 353.56 525.50 363.30C525.50 367.96 524.68 371.28 524.80 376.60C524.92 379.60 525.85 383.20 528.10 388.60Z" fill="#A8BA2C" stroke="#555" stroke-width="0.4"/>
<path d="M528.63 388.60C530.88 383.20 531.81 379.60 531.93 376.60C532.05 371.28 531.23 367.96 531.23 363.30C531.23 353.56 532.63 341.04 532.88 335.47L533.38 335.47C533.63 341.04 535.03 353.56 535.03 363.30C535.03 367.96 534.21 371.28 534.33 376.60C534.45 379.60 535.38 383.20 537.63 388.60Z" fill="#9BC030" stroke="#555" stroke-width="0.4"/>
<path d="M538.47 388.60C540.57 384.55 541.35 381.85 541.47 379.60C541.59 373.08 540.77 369.00 540.77 363.30C540.77 353.56 542.17 341.04 542.42 335.47L542.92 335.47C543.17 341.04 544.57 353.56 544.57 363.30C544.57 369.00 543.75 373.08 543.87 379.60C543.99 381.85 544.77 384.55 546.87 388.60Z" fill="#86C530" stroke="#555" stroke-width="0.4"/>
<path d="M548.01 388.60C550.11 384.55 550.89 381.85 551.01 379.60C551.13 373.08 550.31 369.00 550.31 363.30C550.31 353.56 551.71 341.04 551.96 335.47L552.46 335.47C552.71 341.04 554.11 353.56 554.11 363.30C554.11 369.00 553.29 373.08 553.41 379.60C553.53 381.85 554.31 384.55 556.41 388.60Z" fill="#70CA32" stroke="#555" stroke-width="0.4"/>
<path d="M557.74 388.60C559.74 385.00 560.42 382.60 560.54 380.60C560.66 373.68 559.84 369.36 559.84 363.30C559.84 353.56 561.24 341.04 561.49 335.47L561.99 335.47C562.24 341.04 563.64 353.56 563.64 363.30C563.64 369.36 562.82 373.68 562.94 380.60C563.06 382.60 563.74 385.00 565.74 388.60Z" fill="#55CF3C" stroke="#555" stroke-width="0.4"/>
<path d="M576.32 388.60C578.57 382.98 580.21 379.23 580.27 376.10C580.32 356.81 580.07 344.76 580.07 327.88C580.07 319.91 580.32 309.66 580.57 305.11L581.07 305.11C581.32 309.66 581.57 319.91 581.57 327.88C581.57 344.76 581.31 356.81 581.37 376.10C581.42 379.23 583.07 382.98 585.32 388.60Z" fill="#48D27C" stroke="#555" stroke-width="0.4"/>
<path d="M586.15 388.60C588.25 384.55 589.70 381.85 589.75 379.60C589.82 375.10 589.75 372.29 589.75 368.36C589.75 365.70 589.86 362.29 590.11 360.77L590.61 360.77C590.86 362.29 590.96 365.70 590.96 368.36C590.96 372.29 590.89 375.10 590.96 379.60C591.01 381.85 592.46 384.55 594.56 388.60Z" fill="#48D49C" stroke="#555" stroke-width="0.4"/>
<path d="M624.00 388.60C626.25 384.10 627.51 381.10 627.60 378.60C627.69 374.00 626.90 371.12 626.90 367.10C626.90 361.34 628.00 353.94 628.25 350.65L628.75 350.65C629.00 353.94 630.10 361.34 630.10 367.10C630.10 371.12 629.31 374.00 629.40 378.60C629.49 381.10 630.75 384.10 633.00 388.60Z" fill="#4FD6C6" stroke="#555" stroke-width="0.4"/>
<path d="M633.54 388.60C635.79 384.10 637.05 381.10 637.14 378.60C637.23 374.00 636.44 371.12 636.44 367.10C636.44 361.34 637.54 353.94 637.79 350.65L638.29 350.65C638.54 353.94 639.64 361.34 639.64 367.10C639.64 371.12 638.85 374.00 638.94 378.60C639.03 381.10 640.29 384.10 642.54 388.60Z" fill="#48D2D4" stroke="#555" stroke-width="0.4"/>
<path d="M643.08 388.60C645.33 384.10 646.59 381.10 646.68 378.60C646.77 374.00 645.98 371.12 645.98 367.10C645.98 361.34 647.08 353.94 647.33 350.65L647.83 350.65C648.08 353.94 649.18 361.34 649.18 367.10C649.18 371.12 648.39 374.00 648.48 378.60C648.57 381.10 649.83 384.10 652.08 388.60Z" fill="#48CCE0" stroke="#555" stroke-width="0.4"/>
<path d="M652.61 388.60C654.86 384.10 656.12 381.10 656.21 378.60C656.30 374.00 655.51 371.12 655.51 367.10C655.51 361.34 656.61 353.94 656.86 350.65L657.36 350.65C657.61 353.94 658.71 361.34 658.71 367.10C658.71 371.12 657.92 374.00 658.01 378.60C658.10 381.10 659.36 384.10 661.61 388.60Z" fill="#50C4EA" stroke="#555" stroke-width="0.4"/>
<path d="M662.15 388.60C664.40 384.10 665.66 381.10 665.75 378.60C665.84 374.00 665.05 371.12 665.05 367.10C665.05 361.34 666.15 353.94 666.40 350.65L666.90 350.65C667.15 353.94 668.25 361.34 668.25 367.10C668.25 371.12 667.46 374.00 667.55 378.60C667.64 381.10 668.90 384.10 671.15 388.60Z" fill="#58BAF2" stroke="#555" stroke-width="0.4"/>
<path d="M671.69 388.60C673.94 384.10 675.20 381.10 675.29 378.60C675.38 374.00 674.59 371.12 674.59 367.10C674.59 361.34 675.69 353.94 675.94 350.65L676.44 350.65C676.69 353.94 677.79 361.34 677.79 367.10C677.79 371.12 677.00 374.00 677.09 378.60C677.18 381.10 678.44 384.10 680.69 388.60Z" fill="#5EAEF8" stroke="#555" stroke-width="0.4"/>
<path d="M443.1 388.6H451.5" stroke="#222" stroke-width="1.3"/>
<path d="M447.5 388.6V348.1" stroke="#333" stroke-width="0.75"/>
<path d="M452.6 388.6H461.0" stroke="#222" stroke-width="1.3"/>
<path d="M456.5 388.6V369.6" stroke="#333" stroke-width="0.75"/>
<path d="M462.2 388.6H470.6" stroke="#222" stroke-width="1.3"/>
<path d="M466.5 388.6V367.1" stroke="#333" stroke-width="0.75"/>
<path d="M471.7 388.6H480.1" stroke="#222" stroke-width="1.3"/>
<path d="M475.5 388.6V367.1" stroke="#333" stroke-width="0.75"/>
<path d="M481.2 388.6H489.6" stroke="#222" stroke-width="1.3"/>
<path d="M485.5 388.6V354.4" stroke="#333" stroke-width="0.75"/>
<path d="M490.8 388.6H499.2" stroke="#222" stroke-width="1.3"/>
<path d="M494.5 388.6V353.2" stroke="#333" stroke-width="0.75"/>
<path d="M500.3 388.6H508.7" stroke="#222" stroke-width="1.3"/>
<path d="M504.5 388.6V355.7" stroke="#333" stroke-width="0.75"/>
<path d="M509.9 388.6H518.3" stroke="#222" stroke-width="1.3"/>
<path d="M514.5 388.6V322.8" stroke="#333" stroke-width="0.75"/>
<path d="M519.4 388.6H527.8" stroke="#222" stroke-width="1.3"/>
<path d="M523.5 388.6V317.8" stroke="#333" stroke-width="0.75"/>
<path d="M528.9 388.6H537.3" stroke="#222" stroke-width="1.3"/>
<path d="M533.5 388.6V330.4" stroke="#333" stroke-width="0.75"/>
<path d="M538.5 388.6H546.9" stroke="#222" stroke-width="1.3"/>
<path d="M542.5 388.6V320.3" stroke="#333" stroke-width="0.75"/>
<path d="M548.0 388.6H556.4" stroke="#222" stroke-width="1.3"/>
<path d="M552.5 388.6V312.7" stroke="#333" stroke-width="0.75"/>
<path d="M557.5 388.6H565.9" stroke="#222" stroke-width="1.3"/>
<path d="M561.5 388.6V335.5" stroke="#333" stroke-width="0.75"/>
<path d="M567.1 388.6H575.5" stroke="#222" stroke-width="1.3"/>
<path d="M571.5 388.6V297.5" stroke="#333" stroke-width="0.75"/>
<path d="M576.6 388.6H585.0" stroke="#222" stroke-width="1.3"/>
<path d="M580.5 388.6V295.0" stroke="#333" stroke-width="0.75"/>
<path d="M586.2 388.6H594.6" stroke="#222" stroke-width="1.3"/>
<path d="M590.5 388.6V295.0" stroke="#333" stroke-width="0.75"/>
<path d="M595.7 388.6H604.1" stroke="#222" stroke-width="1.3"/>
<path d="M599.9 388.6V300.1" stroke="#c4c4c4" stroke-width="1.8"/>
<path d="M605.2 388.6H613.6" stroke="#222" stroke-width="1.3"/>
<path d="M609.5 388.6V296.3" stroke="#333" stroke-width="0.75"/>
<path d="M614.8 388.6H623.2" stroke="#222" stroke-width="1.3"/>
<path d="M619.0 388.6V305.1" stroke="#c4c4c4" stroke-width="1.8"/>
<path d="M624.3 388.6H632.7" stroke="#222" stroke-width="1.3"/>
<path d="M628.5 388.6V312.7" stroke="#333" stroke-width="0.75"/>
<path d="M633.8 388.6H642.2" stroke="#222" stroke-width="1.3"/>
<path d="M638.5 388.6V321.6" stroke="#333" stroke-width="0.75"/>
<path d="M643.4 388.6H651.8" stroke="#222" stroke-width="1.3"/>
<path d="M647.5 388.6V305.1" stroke="#333" stroke-width="0.75"/>
<path d="M652.9 388.6H661.3" stroke="#222" stroke-width="1.3"/>
<path d="M657.1 350.7V316.5" stroke="#c8c8c8" stroke-width="1.6"/>
<path d="M662.5 388.6H670.9" stroke="#222" stroke-width="1.3"/>
<path d="M666.5 388.6V305.1" stroke="#333" stroke-width="0.75"/>
<path d="M672.0 388.6H680.4" stroke="#222" stroke-width="1.3"/>
<path d="M676.2 350.7V306.4" stroke="#c8c8c8" stroke-width="1.6"/>
<path d="M444.2 361.8h0M444.1 370.2h0M444.2 370.3h0M449.7 379.2h0M448.2 378.5h0M446.6 361.8h0M445.8 353.7h0M449.6 375.2h0M448.3 377.4h0M444.2 373.5h0M458.1 380.3h0M457.5 376.1h0M459.0 375.9h0M457.4 373.1h0M458.5 375.0h0M463.6 377.0h0M463.9 375.2h0M468.3 373.8h0M465.0 373.0h0M466.9 371.3h0M469.6 374.7h0M472.7 375.7h0M479.5 372.0h0M475.1 370.0h0M473.5 378.0h0M473.2 371.8h0M478.6 379.5h0M476.3 382.2h0M478.5 369.0h0M474.9 379.0h0M473.4 369.0h0M482.8 377.7h0M485.7 372.8h0M485.6 370.6h0M488.3 369.6h0M483.4 363.1h0M486.7 366.0h0M486.0 378.0h0M485.2 385.8h0M485.8 363.1h0M488.2 376.0h0M488.2 356.5h0M486.0 375.2h0M483.0 383.0h0M488.0 369.4h0M484.4 367.9h0M487.4 377.9h0M488.8 374.6h0M487.1 363.8h0M485.9 376.5h0M488.6 375.5h0M498.5 371.1h0M493.0 357.0h0M495.9 380.4h0M494.8 358.5h0M492.0 365.4h0M497.0 365.2h0M492.7 362.7h0M497.2 361.6h0M494.3 356.5h0M492.6 357.2h0M497.2 356.4h0M498.4 379.5h0M495.3 365.2h0M496.1 354.2h0M494.5 368.9h0M492.9 359.3h0M502.7 375.3h0M503.9 367.7h0M503.5 378.0h0M507.4 370.6h0M504.5 371.4h0M514.1 361.3h0M514.4 363.3h0M512.8 362.6h0M511.3 361.6h0M512.9 360.7h0M515.9 355.0h0M514.1 349.5h0M511.8 361.7h0M517.2 347.9h0M516.4 367.1h0M513.6 370.6h0M512.4 373.1h0M515.2 350.3h0M512.1 370.4h0M511.0 347.1h0M511.9 343.6h0M515.1 365.3h0M515.8 348.2h0M514.3 359.2h0M511.3 344.2h0M515.5 335.4h0M515.6 349.6h0M515.5 370.2h0M518.0 340.6h0M516.1 358.9h0M512.7 330.6h0M516.2 348.8h0M514.4 361.4h0M514.6 368.6h0M511.8 355.4h0M513.8 365.5h0M511.3 368.9h0M511.5 353.5h0M515.4 352.9h0M515.5 344.6h0M515.1 358.9h0M514.4 373.1h0M515.3 331.9h0M512.9 366.6h0M517.4 363.1h0M512.7 361.0h0M514.4 358.0h0M510.6 361.9h0M515.7 357.0h0M515.8 367.8h0M513.3 358.3h0M514.3 365.6h0M516.2 356.5h0M511.5 359.1h0M516.2 361.5h0M515.3 353.2h0M510.4 357.4h0M515.4 370.7h0M514.0 359.1h0M514.1 378.3h0M511.9 361.2h0M513.7 356.1h0M514.0 368.5h0M515.9 364.4h0M517.3 359.3h0M512.7 370.2h0M512.6 376.3h0M513.8 357.8h0M511.4 328.9h0M510.5 345.0h0M515.0 346.0h0M513.1 368.4h0M513.5 361.5h0M515.5 353.4h0M514.2 367.8h0M514.1 362.2h0M514.1 370.4h0M514.0 355.7h0M512.6 348.8h0M514.7 364.6h0M514.9 364.8h0M512.3 352.9h0M514.3 367.0h0M516.2 364.6h0M514.4 359.0h0M514.1 338.1h0M511.2 327.0h0M513.7 362.6h0M510.2 367.1h0M514.8 360.7h0M515.2 349.8h0M514.9 349.8h0M515.1 372.3h0M516.8 367.6h0M512.1 355.7h0M511.4 363.9h0M512.1 361.9h0M513.8 366.8h0M516.7 363.1h0M513.9 339.4h0M525.9 355.5h0M524.5 352.1h0M525.1 361.5h0M524.3 358.6h0M526.1 331.3h0M522.2 366.1h0M525.8 358.8h0M524.6 360.1h0M526.4 361.1h0M522.9 350.9h0M522.2 367.4h0M523.0 376.1h0M521.7 367.2h0M523.0 375.2h0M521.5 354.2h0M521.7 345.8h0M522.4 368.1h0M523.9 347.2h0M525.6 358.1h0M521.1 364.2h0M526.3 355.4h0M522.4 356.2h0M520.3 369.1h0M523.0 358.1h0M524.7 378.4h0M521.5 346.9h0M523.1 364.9h0M524.7 374.2h0M523.0 364.8h0M520.4 363.8h0M523.5 322.7h0M524.4 365.3h0M519.7 367.0h0M524.5 332.9h0M527.5 365.2h0M522.3 364.3h0M524.7 362.1h0M522.4 353.3h0M520.6 365.7h0M520.5 368.7h0M527.5 345.5h0M523.1 343.9h0M523.2 372.0h0M524.8 367.7h0M520.9 355.8h0M522.7 352.6h0M523.6 356.1h0M524.7 350.9h0M521.7 364.1h0M520.8 353.8h0M526.5 362.5h0M525.6 374.8h0M527.5 360.1h0M524.4 351.6h0M521.6 371.7h0M519.7 364.7h0M521.5 367.2h0M521.4 377.1h0M523.9 365.9h0M524.6 355.2h0M523.0 372.3h0M522.3 366.5h0M527.5 360.5h0M521.5 364.8h0M519.7 377.8h0M523.3 353.4h0M526.5 345.6h0M522.5 372.3h0M520.9 366.5h0M521.5 362.2h0M523.5 370.9h0M523.6 374.0h0M521.2 349.9h0M525.7 354.6h0M520.5 369.1h0M523.7 361.6h0M520.4 344.9h0M524.5 342.6h0M523.1 366.0h0M526.8 358.3h0M523.9 376.0h0M527.0 354.8h0M525.4 371.8h0M524.8 340.3h0M520.5 356.2h0M521.0 361.9h0M525.8 352.0h0M527.5 368.8h0M520.6 369.7h0M522.4 365.1h0M521.1 350.3h0M523.4 362.0h0M526.0 368.5h0M521.3 348.2h0M522.6 346.8h0M535.8 351.4h0M532.4 371.7h0M533.7 354.2h0M534.6 364.9h0M536.1 374.3h0M534.3 358.8h0M531.5 378.1h0M531.7 361.7h0M535.0 367.9h0M533.2 371.7h0M531.5 360.1h0M531.5 370.6h0M535.1 348.3h0M531.6 364.0h0M531.1 365.1h0M533.6 348.1h0M532.8 361.3h0M529.2 373.8h0M533.2 370.4h0M531.6 358.7h0M535.8 365.9h0M532.9 338.1h0M530.9 356.0h0M531.4 371.7h0M531.5 357.3h0M533.3 360.8h0M531.2 367.0h0M536.0 366.9h0M531.9 355.9h0M535.5 351.0h0M532.9 357.4h0M532.7 352.7h0M531.6 356.5h0M534.1 368.3h0M532.5 333.9h0M534.1 377.7h0M531.5 357.3h0M530.1 353.5h0M530.4 351.6h0M535.3 378.0h0M531.6 358.9h0M532.1 342.4h0M533.1 365.7h0M534.8 356.7h0M534.0 346.3h0M533.4 375.4h0M531.3 357.0h0M534.5 339.3h0M533.1 355.3h0M530.9 362.2h0M531.5 362.1h0M532.4 347.7h0M530.9 371.5h0M534.0 354.5h0M533.8 365.0h0M532.6 369.6h0M534.2 350.1h0M534.9 362.8h0M532.2 358.6h0M534.8 370.0h0M533.7 369.5h0M531.3 370.9h0M535.5 368.9h0M532.0 370.0h0M535.3 369.8h0M534.0 345.3h0M534.8 364.4h0M530.4 363.4h0M532.9 368.5h0M533.1 364.1h0M531.5 358.9h0M531.9 356.0h0M533.6 360.4h0M535.6 351.0h0M536.3 357.7h0M530.1 365.9h0M534.8 356.8h0M532.5 363.6h0M531.2 357.8h0M529.9 364.3h0M536.2 361.1h0M534.7 351.4h0M533.3 361.7h0M530.3 363.9h0M530.5 357.6h0M532.8 344.3h0M535.1 376.9h0M533.7 357.2h0M536.4 348.0h0M535.5 354.1h0M535.6 353.8h0M532.1 360.6h0M542.4 358.0h0M543.6 366.3h0M541.1 350.9h0M545.9 367.3h0M542.7 366.6h0M543.8 362.0h0M539.6 364.6h0M540.2 351.8h0M546.6 351.7h0M543.0 357.5h0M541.6 370.7h0M540.3 370.4h0M543.8 349.0h0M540.6 348.9h0M542.2 356.5h0M542.8 349.4h0M543.8 352.6h0M545.2 361.8h0M539.9 378.8h0M541.5 351.3h0M539.4 342.3h0M541.5 358.8h0M543.1 342.5h0M542.4 355.7h0M539.3 350.4h0M542.1 368.5h0M543.6 360.2h0M546.0 361.5h0M540.9 357.6h0M543.6 365.7h0M543.0 337.1h0M544.3 374.9h0M545.5 358.8h0M544.0 358.8h0M546.6 359.2h0M539.9 357.2h0M543.8 334.0h0M543.1 364.5h0M541.8 367.2h0M544.6 357.9h0M543.2 373.8h0M540.6 347.5h0M544.4 346.3h0M542.9 341.9h0M543.0 379.1h0M545.8 328.2h0M543.0 367.6h0M545.2 374.9h0M542.4 342.8h0M544.2 346.7h0M539.7 341.5h0M544.2 365.8h0M542.2 374.4h0M541.7 356.9h0M540.9 357.9h0M544.7 364.1h0M545.7 359.9h0M546.0 351.8h0M542.2 351.7h0M541.6 363.2h0M540.2 348.7h0M539.5 379.9h0M545.2 330.4h0M544.8 359.8h0M540.8 356.7h0M540.6 373.1h0M540.3 354.7h0M540.8 362.4h0M545.8 354.6h0M545.4 353.9h0M544.6 349.3h0M544.0 359.3h0M545.5 364.6h0M544.6 361.1h0M540.3 372.1h0M539.3 359.1h0M542.6 376.0h0M542.2 359.9h0M545.9 345.7h0M542.6 368.8h0M542.4 347.2h0M541.0 345.7h0M541.5 371.6h0M543.9 360.0h0M546.6 364.0h0M541.3 365.5h0M539.5 348.4h0M546.1 353.4h0M545.7 374.6h0M544.5 356.9h0M553.8 372.2h0M553.8 369.8h0M556.1 332.0h0M554.9 368.2h0M553.2 370.8h0M551.9 346.9h0M551.4 365.2h0M549.7 332.3h0M551.4 350.0h0M551.0 370.3h0M553.0 369.9h0M550.2 319.9h0M551.6 362.1h0M555.7 368.8h0M549.1 361.2h0M548.8 355.4h0M556.0 352.6h0M552.3 360.9h0M549.7 347.9h0M550.1 369.5h0M552.0 339.4h0M552.8 358.7h0M553.6 331.0h0M554.4 325.6h0M548.9 318.8h0M553.1 349.9h0M548.7 370.0h0M549.6 361.1h0M551.0 355.8h0M549.1 355.9h0M550.5 349.9h0M548.9 361.2h0M553.4 344.0h0M550.1 374.4h0M552.4 377.4h0M549.0 321.6h0M550.7 371.5h0M553.1 371.5h0M549.2 359.3h0M551.4 370.0h0M551.5 363.4h0M550.7 346.1h0M555.8 367.7h0M549.1 347.8h0M550.5 361.1h0M551.8 363.3h0M548.9 351.4h0M555.3 370.9h0M554.9 358.2h0M551.5 376.0h0M550.5 360.5h0M550.7 361.1h0M550.8 366.0h0M550.6 359.2h0M553.0 362.3h0M553.0 366.3h0M553.0 343.7h0M551.7 359.8h0M550.1 360.4h0M550.2 365.9h0M550.4 356.9h0M552.1 360.2h0M549.8 341.7h0M554.0 374.0h0M553.0 362.9h0M549.8 368.1h0M553.0 365.2h0M553.9 350.9h0M552.9 354.9h0M548.7 347.7h0M549.1 354.1h0M553.1 344.4h0M548.3 358.9h0M550.2 362.5h0M554.7 364.1h0M553.8 361.6h0M552.8 366.0h0M554.3 372.9h0M549.0 344.8h0M552.2 377.8h0M555.7 347.4h0M551.4 361.1h0M555.1 364.7h0M551.2 355.4h0M555.5 360.1h0M555.7 361.9h0M549.9 365.1h0M552.3 365.7h0M564.0 373.0h0M562.7 346.0h0M563.1 363.6h0M560.7 370.8h0M558.8 345.4h0M563.6 367.7h0M562.9 367.8h0M560.1 370.4h0M562.3 360.5h0M561.8 365.6h0M564.0 373.4h0M560.8 361.3h0M561.3 378.3h0M559.9 371.1h0M559.9 352.2h0M565.0 375.4h0M562.4 365.1h0M560.4 376.0h0M557.8 352.4h0M558.7 363.9h0M560.3 366.0h0M565.5 364.2h0M563.4 371.0h0M561.4 356.7h0M560.7 375.4h0M561.8 369.1h0M562.3 360.1h0M559.1 368.7h0M559.4 365.0h0M563.1 366.8h0M561.4 349.6h0M560.1 364.8h0M561.8 352.4h0M564.5 369.9h0M562.0 363.6h0M559.8 360.3h0M560.5 372.9h0M560.1 355.4h0M561.7 374.8h0M558.1 372.5h0M559.2 357.0h0M560.7 350.1h0M560.0 365.6h0M559.5 354.6h0M563.2 372.9h0M564.2 373.6h0M560.7 367.8h0M563.3 370.8h0M560.7 368.9h0M560.2 380.3h0M558.6 376.0h0M564.4 345.0h0M561.1 351.7h0M559.9 357.8h0M564.5 373.8h0M561.4 358.1h0M560.4 375.4h0M561.8 363.6h0M561.1 359.1h0M562.1 362.9h0M562.3 364.7h0M559.9 372.1h0M563.4 369.2h0M562.6 350.5h0M562.1 362.5h0M562.4 357.4h0M559.0 364.6h0M561.0 368.1h0M561.1 375.1h0M559.7 372.9h0M565.6 366.5h0M562.2 348.4h0M562.2 373.1h0M564.3 370.6h0M560.0 361.0h0M560.4 369.1h0M562.9 357.0h0M564.4 354.6h0M560.5 356.7h0M560.0 370.7h0M569.4 347.9h0M572.2 372.8h0M574.2 313.7h0M571.3 304.2h0M571.9 364.0h0M568.9 369.9h0M568.3 342.3h0M569.1 372.9h0M573.8 311.8h0M569.7 316.2h0M570.7 325.7h0M572.5 350.2h0M568.9 313.3h0M571.7 353.5h0M570.0 379.7h0M574.2 341.0h0M574.6 310.3h0M568.1 328.9h0M569.8 324.6h0M571.1 332.6h0M570.2 326.8h0M572.6 370.4h0M570.4 328.0h0M571.5 331.9h0M568.5 333.1h0M571.6 362.2h0M569.5 367.4h0M569.5 368.7h0M569.3 338.8h0M571.9 341.2h0M568.2 369.9h0M571.6 342.6h0M568.5 321.7h0M568.4 300.8h0M568.9 312.9h0M573.3 303.1h0M568.1 365.6h0M567.8 358.0h0M569.8 330.8h0M574.1 322.3h0M571.7 328.8h0M568.9 306.3h0M573.2 319.4h0M568.6 324.3h0M574.5 347.6h0M568.4 333.1h0M568.5 334.3h0M569.5 305.7h0M573.7 361.3h0M568.5 385.5h0M569.8 337.6h0M568.7 323.8h0M572.6 309.5h0M567.8 314.6h0M574.0 342.3h0M573.6 371.0h0M571.1 324.4h0M570.5 363.9h0M568.2 309.7h0M574.1 351.0h0M582.7 337.0h0M580.7 330.2h0M581.0 328.0h0M582.6 330.3h0M579.2 333.9h0M584.3 328.2h0M583.4 341.5h0M579.9 323.2h0M583.9 333.7h0M582.5 325.7h0M583.2 329.4h0M579.9 328.6h0M582.3 313.1h0M581.0 334.5h0M581.0 320.0h0M582.4 328.2h0M583.9 333.1h0M577.9 332.5h0M579.8 336.1h0M577.8 323.2h0M581.5 329.9h0M580.4 337.3h0M583.4 331.4h0M584.1 326.4h0M579.7 304.6h0M583.4 337.3h0M579.5 326.6h0M580.2 332.8h0M580.3 325.7h0M581.1 326.9h0M584.7 327.6h0M581.2 328.3h0M581.8 327.2h0M581.5 337.1h0M581.4 322.0h0M579.6 328.5h0M582.7 324.1h0M584.2 323.2h0M583.9 330.5h0M582.7 321.5h0M580.9 332.1h0M580.0 341.8h0M582.6 329.5h0M583.8 336.9h0M580.1 306.2h0M579.7 313.8h0M581.6 322.4h0M580.3 312.9h0M584.7 317.0h0M578.5 326.9h0M581.8 334.1h0M578.8 326.6h0M583.4 328.2h0M579.3 334.0h0M578.4 332.7h0M584.0 325.6h0M582.2 328.0h0M579.6 323.0h0M581.8 320.3h0M581.0 299.5h0M577.9 337.1h0M583.5 332.5h0M582.1 333.7h0M580.0 341.2h0M581.2 342.4h0M582.2 319.7h0M582.4 336.1h0M579.4 324.2h0M582.7 318.0h0M579.2 315.1h0M583.1 336.2h0M581.5 331.3h0M581.1 343.3h0M583.4 328.6h0M576.9 324.7h0M583.4 331.7h0M577.3 337.1h0M578.0 334.3h0M582.8 334.6h0M577.9 310.5h0M580.9 326.5h0M581.5 324.0h0M582.5 312.2h0M580.8 331.8h0M579.6 329.1h0M579.6 326.9h0M581.0 318.5h0M579.8 330.0h0M581.0 317.6h0M581.8 322.0h0M583.4 326.6h0M583.0 340.9h0M578.8 337.7h0M581.0 338.4h0M582.2 325.6h0M582.6 330.5h0M579.4 336.9h0M580.6 331.9h0M577.7 342.6h0M580.2 336.1h0M578.7 313.4h0M579.9 331.0h0M582.1 340.9h0M578.6 324.9h0M583.8 332.3h0M579.9 335.8h0M577.9 326.0h0M580.8 323.7h0M579.0 318.8h0M579.6 330.3h0M588.0 328.7h0M589.7 320.8h0M592.2 338.9h0M590.5 332.5h0M590.8 338.8h0M590.2 338.2h0M586.5 338.2h0M586.8 321.1h0M592.0 331.0h0M590.2 332.4h0M589.8 319.7h0M592.5 338.4h0M592.7 319.8h0M591.2 330.3h0M588.3 326.6h0M589.4 317.4h0M592.6 329.8h0M589.5 332.2h0M590.0 326.4h0M587.2 322.2h0M586.9 314.4h0M590.3 317.3h0M591.3 324.7h0M594.1 335.1h0M589.8 305.4h0M591.7 325.0h0M591.2 309.6h0M588.9 333.0h0M589.1 327.1h0M593.7 320.3h0M588.4 324.8h0M589.9 320.7h0M594.3 303.2h0M587.3 316.4h0M591.2 330.8h0M590.6 328.5h0M590.0 336.9h0M590.8 318.5h0M590.1 326.3h0M589.3 316.2h0M592.2 332.7h0M589.5 321.9h0M590.1 327.2h0M590.0 339.2h0M589.3 325.3h0M592.7 330.3h0M590.2 331.1h0M594.3 300.8h0M589.2 328.3h0M590.6 327.5h0M591.4 333.8h0M587.0 319.3h0M590.8 316.2h0M587.9 324.4h0M588.9 324.2h0M591.4 315.3h0M587.3 326.4h0M587.1 332.7h0M589.2 325.9h0M586.9 321.3h0M591.6 316.4h0M591.1 323.3h0M590.7 330.9h0M590.2 314.1h0M592.1 328.2h0M592.8 325.5h0M592.1 308.6h0M592.1 334.7h0M593.2 335.4h0M591.0 323.0h0M593.0 329.3h0M593.5 331.7h0M588.6 336.0h0M588.9 320.4h0M591.8 328.3h0M591.6 330.0h0M590.7 316.3h0M589.2 336.9h0M586.9 326.4h0M589.8 337.7h0M590.8 326.2h0M592.2 320.2h0M589.9 336.9h0M590.1 325.0h0M589.8 320.9h0M592.5 315.4h0M588.6 318.5h0M588.2 315.5h0M586.9 320.7h0M590.9 334.3h0M602.5 339.1h0M603.0 327.2h0M596.8 309.9h0M603.2 322.2h0M600.8 334.2h0M601.2 333.5h0M598.9 309.3h0M601.2 314.5h0M601.7 325.3h0M601.7 310.1h0M597.3 349.1h0M597.3 307.3h0M596.6 323.9h0M600.9 332.8h0M598.4 337.9h0M603.3 325.9h0M601.2 321.1h0M601.4 333.3h0M597.5 319.2h0M602.0 324.5h0M602.6 342.3h0M597.5 343.3h0M599.0 361.4h0M597.6 306.6h0M597.7 336.6h0M597.1 336.0h0M599.1 338.8h0M597.8 306.8h0M602.3 309.3h0M598.6 321.6h0M599.7 343.7h0M601.7 325.2h0M602.9 338.1h0M600.8 326.5h0M596.6 338.8h0M598.8 313.0h0M598.0 307.8h0M601.7 347.5h0M602.1 319.8h0M600.9 345.6h0M601.3 306.6h0M603.1 315.4h0M599.1 316.8h0M597.6 314.0h0M600.0 311.0h0M597.3 320.2h0M599.9 351.3h0M600.5 311.9h0M598.3 332.3h0M602.3 312.2h0M601.7 343.8h0M602.8 327.9h0M601.0 316.8h0M601.4 325.9h0M596.8 322.8h0M598.3 323.2h0M597.0 340.9h0M602.1 319.9h0M596.8 334.3h0M596.3 312.5h0M606.3 362.3h0M611.6 327.3h0M606.6 341.7h0M608.3 335.1h0M607.4 331.3h0M611.9 315.0h0M606.0 314.4h0M608.9 341.4h0M611.0 340.8h0M609.5 322.3h0M612.1 322.2h0M612.8 307.8h0M606.3 331.4h0M610.7 346.0h0M608.3 318.0h0M607.9 336.3h0M609.5 336.2h0M607.2 323.2h0M610.9 333.7h0M612.7 308.6h0M611.0 310.5h0M605.9 340.8h0M610.4 312.5h0M607.0 333.7h0M608.0 320.7h0M612.3 355.0h0M606.6 314.6h0M609.2 316.5h0M611.6 308.0h0M606.8 326.2h0M609.5 339.2h0M606.0 335.6h0M612.6 310.9h0M611.1 308.3h0M611.9 329.5h0M610.0 367.8h0M611.5 311.7h0M609.7 306.4h0M610.3 340.5h0M610.4 311.7h0M612.4 335.8h0M606.7 333.5h0M610.0 336.0h0M609.0 320.5h0M606.2 340.7h0M610.7 326.4h0M610.5 317.8h0M606.8 318.5h0M606.3 310.9h0M607.5 334.6h0M611.8 329.2h0M606.1 320.6h0M611.6 339.7h0M612.5 365.4h0M612.5 335.3h0M607.7 320.4h0M606.6 318.4h0M607.2 308.6h0M606.6 340.7h0M612.4 315.2h0M619.4 363.2h0M619.8 317.6h0M615.9 330.2h0M617.5 360.3h0M615.5 326.1h0M618.7 317.1h0M616.9 356.5h0M619.3 307.0h0M621.5 327.3h0M617.5 357.1h0M622.4 337.5h0M616.2 381.2h0M619.1 324.8h0M619.8 337.9h0M620.6 327.2h0M621.4 319.0h0M621.5 331.4h0M616.7 339.3h0M620.5 310.8h0M617.9 349.2h0M622.4 350.9h0M620.9 326.9h0M620.8 316.7h0M618.3 348.0h0M621.7 362.1h0M620.9 312.0h0M621.1 320.2h0M617.6 319.5h0M631.8 365.7h0M628.8 373.0h0M629.8 358.3h0M627.1 365.5h0M631.9 362.3h0M629.8 372.7h0M628.5 363.6h0M629.0 364.6h0M629.6 357.1h0M629.2 366.2h0M628.8 377.7h0M629.8 374.1h0M629.9 371.0h0M629.5 369.0h0M628.7 317.2h0M630.6 361.7h0M628.1 365.0h0M627.1 372.4h0M626.3 365.2h0M627.0 374.5h0M625.9 378.8h0M626.0 357.1h0M626.4 362.7h0M627.0 363.1h0M629.0 369.4h0M628.3 369.3h0M626.6 335.3h0M629.8 376.9h0M630.2 368.3h0M630.0 372.7h0M630.8 355.5h0M628.9 375.3h0M625.8 360.6h0M627.5 358.1h0M629.9 372.8h0M625.5 358.8h0M629.3 368.4h0M630.8 365.1h0M625.2 336.0h0M626.6 368.2h0M626.0 367.7h0M631.0 362.3h0M628.3 369.6h0M625.6 371.7h0M629.7 350.3h0M631.6 366.5h0M626.1 316.2h0M629.4 357.9h0M628.8 371.9h0M630.2 353.6h0M625.2 369.0h0M625.0 369.5h0M628.1 366.1h0M628.6 366.8h0M629.5 357.3h0M625.4 367.4h0M628.2 371.6h0M631.0 369.0h0M627.9 357.5h0M630.1 375.9h0M627.9 370.7h0M629.6 367.3h0M629.1 363.4h0M626.4 362.4h0M626.3 375.1h0M628.7 364.6h0M635.1 369.6h0M636.4 363.6h0M639.5 378.1h0M640.0 365.4h0M636.0 371.6h0M636.2 369.0h0M639.9 363.8h0M634.9 373.7h0M637.3 371.8h0M637.0 366.5h0M638.4 364.4h0M634.5 340.4h0M639.0 363.1h0M641.8 364.4h0M639.2 363.1h0M635.9 361.2h0M636.4 377.7h0M634.6 369.7h0M641.5 371.7h0M635.6 325.4h0M635.6 370.0h0M638.8 368.9h0M636.4 343.4h0M638.3 362.6h0M638.5 367.8h0M637.2 375.9h0M640.2 364.1h0M637.1 374.6h0M634.6 362.6h0M639.0 365.1h0M640.5 374.2h0M639.6 371.2h0M637.3 376.8h0M636.0 364.6h0M640.8 370.4h0M640.3 373.1h0M636.7 364.1h0M637.4 370.3h0M637.5 376.0h0M638.4 358.6h0M639.0 367.6h0M635.3 364.1h0M638.0 375.3h0M641.0 371.8h0M634.1 364.2h0M639.5 358.5h0M641.9 368.4h0M639.4 359.4h0M638.1 365.9h0M634.6 356.8h0M635.5 363.0h0M640.4 370.2h0M637.5 372.8h0M639.0 370.0h0M640.9 371.2h0M636.6 368.1h0M635.4 368.2h0M637.9 372.4h0M638.0 362.1h0M636.8 355.2h0M640.3 372.8h0M640.6 372.5h0M640.8 335.3h0M640.3 357.7h0M636.9 371.1h0M637.4 374.2h0M645.8 365.6h0M649.2 359.0h0M649.1 363.4h0M645.0 365.3h0M646.5 367.1h0M645.1 361.3h0M648.6 358.3h0M647.3 376.1h0M650.2 370.0h0M649.0 372.0h0M648.6 377.0h0M645.6 324.4h0M648.1 362.3h0M650.2 365.7h0M644.8 370.4h0M647.5 366.4h0M645.5 368.9h0M648.9 369.6h0M645.7 373.8h0M647.1 366.3h0M649.6 374.6h0M649.7 369.7h0M647.1 371.9h0M645.5 369.4h0M645.4 370.5h0M645.1 367.0h0M649.6 357.5h0M649.4 372.6h0M645.5 360.6h0M650.4 377.2h0M648.0 357.5h0M647.0 373.4h0M645.5 366.2h0M648.7 379.3h0M647.5 364.1h0M645.5 372.7h0M649.1 366.4h0M650.6 364.3h0M650.0 375.9h0M645.1 320.3h0M646.4 368.3h0M648.7 363.1h0M649.3 365.9h0M646.3 365.3h0M647.5 368.0h0M647.5 358.0h0M650.4 366.3h0M649.0 356.9h0M646.8 368.8h0M644.1 373.2h0M644.5 361.2h0M644.3 369.1h0M650.7 366.9h0M649.6 373.3h0M650.0 366.4h0M646.7 369.1h0M646.6 359.8h0M646.5 367.8h0M647.4 367.3h0M649.6 370.1h0M649.6 371.2h0M646.0 369.6h0M647.4 370.1h0M647.2 319.6h0M649.1 360.1h0M650.5 359.3h0M658.3 374.7h0M660.2 360.9h0M660.5 360.5h0M656.4 371.9h0M654.4 374.1h0M656.1 366.0h0M657.1 356.2h0M654.8 356.5h0M658.6 372.6h0M653.8 346.2h0M656.8 368.6h0M653.3 360.3h0M654.6 360.9h0M653.6 372.7h0M653.7 362.3h0M657.6 362.4h0M660.3 363.9h0M660.0 358.7h0M659.2 369.4h0M658.4 362.7h0M656.2 370.3h0M656.4 360.9h0M654.7 320.9h0M657.7 363.2h0M657.3 368.8h0M656.2 324.6h0M658.2 363.9h0M655.1 374.5h0M661.0 365.3h0M659.3 354.1h0M656.4 363.3h0M654.8 357.8h0M654.0 363.5h0M654.5 355.4h0M657.3 365.6h0M653.9 325.9h0M658.7 368.2h0M656.6 369.9h0M658.0 373.5h0M656.9 370.0h0M655.2 362.7h0M659.0 359.5h0M656.7 365.7h0M658.4 374.5h0M659.3 363.6h0M654.7 361.8h0M657.7 364.7h0M658.1 368.2h0M657.7 369.6h0M661.0 373.0h0M656.3 373.5h0M655.7 367.0h0M655.3 372.1h0M655.2 357.9h0M659.7 357.8h0M655.7 365.0h0M654.1 356.8h0M656.1 378.1h0M660.1 361.5h0M653.6 355.0h0M665.3 376.0h0M667.3 348.7h0M666.6 364.6h0M668.4 310.2h0M665.0 370.2h0M663.9 317.8h0M664.7 363.5h0M667.5 357.6h0M667.0 365.3h0M668.9 369.7h0M663.6 373.4h0M667.1 373.0h0M664.8 368.9h0M666.7 375.7h0M665.2 361.8h0M666.8 368.1h0M665.2 365.0h0M664.4 367.7h0M665.4 355.0h0M664.9 370.4h0M665.0 373.1h0M667.0 359.4h0M664.2 373.9h0M667.2 341.9h0M666.7 374.4h0M666.2 372.9h0M665.9 363.1h0M665.5 328.4h0M664.2 371.1h0M668.4 368.7h0M663.9 367.1h0M665.5 367.7h0M668.9 362.2h0M664.6 368.1h0M667.2 373.8h0M663.9 326.4h0M665.6 336.2h0M665.1 364.5h0M669.4 356.2h0M668.4 360.7h0M664.5 360.5h0M670.1 353.4h0M669.2 370.3h0M669.8 366.4h0M666.5 366.7h0M667.3 370.0h0M666.7 371.8h0M668.7 368.9h0M668.1 367.3h0M668.8 362.8h0M665.6 369.5h0M666.5 364.3h0M665.3 368.4h0M664.6 369.7h0M667.9 371.6h0M668.4 365.6h0M667.8 376.7h0M667.4 356.9h0M666.6 320.4h0M665.6 369.5h0M662.8 361.2h0M664.4 368.8h0M669.1 373.1h0M666.1 370.1h0M669.8 372.4h0M664.9 368.6h0M679.1 377.4h0M675.0 378.0h0M679.2 364.8h0M676.6 366.0h0M673.9 361.0h0M676.9 355.9h0M674.8 367.6h0M677.0 370.4h0M674.4 355.6h0M675.6 366.4h0M676.6 362.5h0M673.9 351.8h0M676.5 365.8h0M676.0 369.3h0M679.5 368.6h0M676.9 368.3h0M674.7 369.5h0M673.9 364.4h0M676.7 367.6h0M675.2 360.8h0M674.7 370.0h0M678.4 374.9h0M678.1 367.3h0M678.0 361.3h0M677.3 369.1h0M675.7 368.5h0M675.3 362.6h0M677.5 363.6h0M676.6 364.9h0M677.4 365.4h0M673.9 365.4h0M673.6 367.6h0M675.1 368.0h0M676.7 367.0h0M676.7 371.8h0M679.0 363.4h0M673.4 356.8h0M677.8 311.2h0M677.3 371.1h0M674.0 377.6h0M678.7 361.7h0M678.0 372.2h0M676.5 334.0h0M680.0 373.0h0M674.1 360.6h0M678.4 362.5h0M678.4 363.8h0M675.0 366.0h0M675.9 364.5h0M676.1 372.3h0M672.4 371.4h0M675.3 371.8h0M676.3 367.6h0M672.9 360.4h0M675.5 369.8h0M676.0 367.4h0M675.9 367.6h0M676.1 359.5h0M674.3 369.4h0M677.4 321.1h0M674.0 366.2h0M678.2 362.9h0M673.9 364.9h0M673.7 349.5h0M672.3 371.8h0M674.0 373.3h0" stroke="#111" stroke-width="1.0" stroke-linecap="round" fill="none"/>
<path d="M447.3 393.8V395.8M456.8 393.8V395.8M466.4 393.8V395.8M475.9 393.8V395.8M485.4 393.8V395.8M495.0 393.8V395.8M504.5 393.8V395.8M514.1 393.8V395.8M523.6 393.8V395.8M533.1 393.8V395.8M542.7 393.8V395.8M552.2 393.8V395.8M561.7 393.8V395.8M571.3 393.8V395.8M580.8 393.8V395.8M590.4 393.8V395.8M599.9 393.8V395.8M609.4 393.8V395.8M619.0 393.8V395.8M628.5 393.8V395.8M638.0 393.8V395.8M647.6 393.8V395.8M657.1 393.8V395.8M666.7 393.8V395.8M676.2 393.8V395.8" stroke="#333" stroke-width="0.6"/>
<g font-family="Liberation Sans, sans-serif" font-size="7.8" fill="#222" text-anchor="end">
<text transform="translate(450.9 404.6) rotate(-45)">Astroglia.MHS-P2~s4</text>
<text transform="translate(460.4 404.6) rotate(-45)">Astroglia.MHS-P2~s5</text>
<text transform="translate(470.0 404.6) rotate(-45)">Astroglia.MHS-P2~s6</text>
<text transform="translate(479.5 404.6) rotate(-45)">Astroglia.Ctrl1~s1</text>
<text transform="translate(489.0 404.6) rotate(-45)">Astroglia.Ctrl1~s2</text>
<text transform="translate(498.6 404.6) rotate(-45)">Astroglia.Ctrl1~s3</text>
<text transform="translate(508.1 404.6) rotate(-45)">Choroid_Plexus.Ctrl1~s3</text>
<text transform="translate(517.7 404.6) rotate(-45)">GABAergic_Neurons.MHS-P2~s4</text>
<text transform="translate(527.2 404.6) rotate(-45)">GABAergic_Neurons.MHS-P2~s5</text>
<text transform="translate(536.7 404.6) rotate(-45)">GABAergic_Neurons.MHS-P2~s6</text>
<text transform="translate(546.3 404.6) rotate(-45)">GABAergic_Neurons.Ctrl1~s1</text>
<text transform="translate(555.8 404.6) rotate(-45)">GABAergic_Neurons.Ctrl1~s2</text>
<text transform="translate(565.3 404.6) rotate(-45)">GABAergic_Neurons.Ctrl1~s3</text>
<text transform="translate(574.9 404.6) rotate(-45)">Glutamatergic_Neurons.MHS-P2~s4</text>
<text transform="translate(584.4 404.6) rotate(-45)">Glutamatergic_Neurons.MHS-P2~s5</text>
<text transform="translate(594.0 404.6) rotate(-45)">Glutamatergic_Neurons.MHS-P2~s6</text>
<text transform="translate(603.5 404.6) rotate(-45)">Glutamatergic_Neurons.Ctrl1~s1</text>
<text transform="translate(613.0 404.6) rotate(-45)">Glutamatergic_Neurons.Ctrl1~s2</text>
<text transform="translate(622.6 404.6) rotate(-45)">Glutamatergic_Neurons.Ctrl1~s3</text>
<text transform="translate(632.1 404.6) rotate(-45)">Intermediate_Progenitors.MHS-P2~s4</text>
<text transform="translate(641.6 404.6) rotate(-45)">Intermediate_Progenitors.MHS-P2~s5</text>
<text transform="translate(651.2 404.6) rotate(-45)">Intermediate_Progenitors.MHS-P2~s6</text>
<text transform="translate(660.7 404.6) rotate(-45)">Intermediate_Progenitors.Ctrl1~s1</text>
<text transform="translate(670.3 404.6) rotate(-45)">Intermediate_Progenitors.Ctrl1~s2</text>
<text transform="translate(679.8 404.6) rotate(-45)">Intermediate_Progenitors.Ctrl1~s3</text>
</g>
<text transform="translate(1.6 567.1) scale(0.86 1)" font-family="Liberation Sans, sans-serif" font-weight="bold" font-size="16.2" fill="#000">E</text>
<path d="M86.1 576.5V552.0H147.4V576.5M208.6 576.5V550.7H269.9V576.5M116.8 552.0V540.6H239.2V550.7M514.9 576.5V555.0H576.1V576.5M453.6 576.5V553.6H545.5V555.0M392.4 576.5V546.2H499.6V553.6M331.1 576.5V539.6H446.0V546.2M178.0 540.6V535.3H388.5V539.6" fill="none" stroke="#505050" stroke-width="0.75"/>
<path d="M55.5 595.2H52.0V602.7H55.5M55.5 587.7H48.2V599.0H52.0M55.5 580.2H34.5V593.4H48.2M55.5 610.2H40.4V617.7H55.5M55.5 632.7H49.9V640.2H55.5M55.5 662.6H49.7V670.1H55.5M55.5 655.1H46.8V666.4H49.7M55.5 647.7H42.8V660.8H46.8M49.9 636.4H39.5V654.2H42.8M55.5 625.2H31.7V645.3H39.5M40.4 614.0H24.8V635.2H31.7M34.5 586.8H20.3V624.6H24.8M55.5 677.6H47.1V685.1H55.5M55.5 700.1H54.6V707.6H55.5M55.5 692.6H47.1V703.8H54.6M47.1 681.4H38.5V698.2H47.1M55.5 730.0H49.7V737.5H55.5M55.5 722.6H44.5V733.8H49.7M55.5 715.1H37.6V728.2H44.5M38.5 689.8H32.1V721.6H37.6M55.5 745.0H50.5V752.5H55.5M55.5 782.5H49.1V790.0H55.5M55.5 775.0H47.8V786.2H49.1M55.5 767.5H45.5V780.6H47.8M55.5 760.0H43.7V774.0H45.5M50.5 748.8H38.4V767.0H43.7M55.5 819.9H54.6V827.4H55.5M55.5 812.4H48.2V823.7H54.6M55.5 804.9H42.5V818.1H48.2M55.5 797.5H35.7V811.5H42.5M38.4 757.9H26.4V804.5H35.7M32.1 705.7H21.7V781.2H26.4M55.5 842.4H49.6V849.9H55.5M55.5 834.9H46.0V846.1H49.6M55.5 857.4H38.4V864.9H55.5M46.0 840.5H33.4V861.1H38.4M55.5 879.8H43.3V887.3H55.5M55.5 894.8H37.5V902.3H55.5M43.3 883.6H35.7V898.6H37.5M55.5 872.4H26.4V891.1H35.7M33.4 850.8H20.5V881.7H26.4M21.7 743.4H18.7V866.3H20.5M20.3 605.7H14.3V804.9H18.7" fill="none" stroke="#505050" stroke-width="0.75"/>
<g stroke="#a8a8a8" stroke-width="0.5">
<rect x="55.50" y="576.50" width="61.25" height="7.49" fill="#93c0dc"/>
<rect x="116.75" y="576.50" width="61.25" height="7.49" fill="#97c3dd"/>
<rect x="178.00" y="576.50" width="61.25" height="7.49" fill="#f1f9d0"/>
<rect x="239.25" y="576.50" width="61.25" height="7.49" fill="#e2f4f3"/>
<rect x="300.50" y="576.50" width="61.25" height="7.49" fill="#eebc7b"/>
<rect x="361.75" y="576.50" width="61.25" height="7.49" fill="#cbe5f0"/>
<rect x="423.00" y="576.50" width="61.25" height="7.49" fill="#f4eaaa"/>
<rect x="484.25" y="576.50" width="61.25" height="7.49" fill="#f1f9d0"/>
<rect x="545.50" y="576.50" width="61.25" height="7.49" fill="#f3e8a7"/>
<rect x="55.50" y="583.99" width="61.25" height="7.49" fill="#d0e9f2"/>
<rect x="116.75" y="583.99" width="61.25" height="7.49" fill="#d5ecf4"/>
<rect x="178.00" y="583.99" width="61.25" height="7.49" fill="#e6f5e9"/>
<rect x="239.25" y="583.99" width="61.25" height="7.49" fill="#def2f7"/>
<rect x="300.50" y="583.99" width="61.25" height="7.49" fill="#d83b2d"/>
<rect x="361.75" y="583.99" width="61.25" height="7.49" fill="#e6f5e9"/>
<rect x="423.00" y="583.99" width="61.25" height="7.49" fill="#f3facd"/>
<rect x="484.25" y="583.99" width="61.25" height="7.49" fill="#e8f6e6"/>
<rect x="545.50" y="583.99" width="61.25" height="7.49" fill="#e5f5ed"/>
<rect x="55.50" y="591.48" width="61.25" height="7.49" fill="#e6f5e9"/>
<rect x="116.75" y="591.48" width="61.25" height="7.49" fill="#e6f5e9"/>
<rect x="178.00" y="591.48" width="61.25" height="7.49" fill="#e2f4f3"/>
<rect x="239.25" y="591.48" width="61.25" height="7.49" fill="#e5f5ed"/>
<rect x="300.50" y="591.48" width="61.25" height="7.49" fill="#d7362a"/>
<rect x="361.75" y="591.48" width="61.25" height="7.49" fill="#e6f5e9"/>
<rect x="423.00" y="591.48" width="61.25" height="7.49" fill="#e4f4f0"/>
<rect x="484.25" y="591.48" width="61.25" height="7.49" fill="#e4f4f0"/>
<rect x="545.50" y="591.48" width="61.25" height="7.49" fill="#e5f5ed"/>
<rect x="55.50" y="598.97" width="61.25" height="7.49" fill="#daeff6"/>
<rect x="116.75" y="598.97" width="61.25" height="7.49" fill="#def2f7"/>
<rect x="178.00" y="598.97" width="61.25" height="7.49" fill="#e9f6e3"/>
<rect x="239.25" y="598.97" width="61.25" height="7.49" fill="#e4f4f0"/>
<rect x="300.50" y="598.97" width="61.25" height="7.49" fill="#d83b2d"/>
<rect x="361.75" y="598.97" width="61.25" height="7.49" fill="#e6f5e9"/>
<rect x="423.00" y="598.97" width="61.25" height="7.49" fill="#e9f6e3"/>
<rect x="484.25" y="598.97" width="61.25" height="7.49" fill="#e4f4f0"/>
<rect x="545.50" y="598.97" width="61.25" height="7.49" fill="#e6f5e9"/>
<rect x="55.50" y="606.46" width="61.25" height="7.49" fill="#e4f4f0"/>
<rect x="116.75" y="606.46" width="61.25" height="7.49" fill="#e4f4f0"/>
<rect x="178.00" y="606.46" width="61.25" height="7.49" fill="#e2f4f3"/>
<rect x="239.25" y="606.46" width="61.25" height="7.49" fill="#e2f4f3"/>
<rect x="300.50" y="606.46" width="61.25" height="7.49" fill="#e9f6e3"/>
<rect x="361.75" y="606.46" width="61.25" height="7.49" fill="#e4f4f0"/>
<rect x="423.00" y="606.46" width="61.25" height="7.49" fill="#da4130"/>
<rect x="484.25" y="606.46" width="61.25" height="7.49" fill="#e4f4f0"/>
<rect x="545.50" y="606.46" width="61.25" height="7.49" fill="#e4f4f0"/>
<rect x="55.50" y="613.95" width="61.25" height="7.49" fill="#f0f9d4"/>
<rect x="116.75" y="613.95" width="61.25" height="7.49" fill="#e5f5ed"/>
<rect x="178.00" y="613.95" width="61.25" height="7.49" fill="#d0e9f2"/>
<rect x="239.25" y="613.95" width="61.25" height="7.49" fill="#d0e9f2"/>
<rect x="300.50" y="613.95" width="61.25" height="7.49" fill="#f0d990"/>
<rect x="361.75" y="613.95" width="61.25" height="7.49" fill="#b4d6e8"/>
<rect x="423.00" y="613.95" width="61.25" height="7.49" fill="#e98054"/>
<rect x="484.25" y="613.95" width="61.25" height="7.49" fill="#f0f9d4"/>
<rect x="545.50" y="613.95" width="61.25" height="7.49" fill="#d5ecf4"/>
<rect x="55.50" y="621.44" width="61.25" height="7.49" fill="#d0e9f2"/>
<rect x="116.75" y="621.44" width="61.25" height="7.49" fill="#ed9d66"/>
<rect x="178.00" y="621.44" width="61.25" height="7.49" fill="#c2dfed"/>
<rect x="239.25" y="621.44" width="61.25" height="7.49" fill="#cbe5f0"/>
<rect x="300.50" y="621.44" width="61.25" height="7.49" fill="#cbe5f0"/>
<rect x="361.75" y="621.44" width="61.25" height="7.49" fill="#c7e2ef"/>
<rect x="423.00" y="621.44" width="61.25" height="7.49" fill="#eeb778"/>
<rect x="484.25" y="621.44" width="61.25" height="7.49" fill="#f0f9d4"/>
<rect x="545.50" y="621.44" width="61.25" height="7.49" fill="#f4faca"/>
<rect x="55.50" y="628.93" width="61.25" height="7.49" fill="#daeff6"/>
<rect x="116.75" y="628.93" width="61.25" height="7.49" fill="#def2f7"/>
<rect x="178.00" y="628.93" width="61.25" height="7.49" fill="#e2f4f3"/>
<rect x="239.25" y="628.93" width="61.25" height="7.49" fill="#e4f4f0"/>
<rect x="300.50" y="628.93" width="61.25" height="7.49" fill="#e2f4f3"/>
<rect x="361.75" y="628.93" width="61.25" height="7.49" fill="#e2f4f3"/>
<rect x="423.00" y="628.93" width="61.25" height="7.49" fill="#f5f0b4"/>
<rect x="484.25" y="628.93" width="61.25" height="7.49" fill="#e5f5ed"/>
<rect x="545.50" y="628.93" width="61.25" height="7.49" fill="#dd5039"/>
<rect x="55.50" y="636.42" width="61.25" height="7.49" fill="#c7e2ef"/>
<rect x="116.75" y="636.42" width="61.25" height="7.49" fill="#d0e9f2"/>
<rect x="178.00" y="636.42" width="61.25" height="7.49" fill="#eff8d7"/>
<rect x="239.25" y="636.42" width="61.25" height="7.49" fill="#d5ecf4"/>
<rect x="300.50" y="636.42" width="61.25" height="7.49" fill="#cbe5f0"/>
<rect x="361.75" y="636.42" width="61.25" height="7.49" fill="#edf8da"/>
<rect x="423.00" y="636.42" width="61.25" height="7.49" fill="#f5f0b4"/>
<rect x="484.25" y="636.42" width="61.25" height="7.49" fill="#e1f3f6"/>
<rect x="545.50" y="636.42" width="61.25" height="7.49" fill="#dd5039"/>
<rect x="55.50" y="643.91" width="61.25" height="7.49" fill="#c7e2ef"/>
<rect x="116.75" y="643.91" width="61.25" height="7.49" fill="#cbe5f0"/>
<rect x="178.00" y="643.91" width="61.25" height="7.49" fill="#f6f7be"/>
<rect x="239.25" y="643.91" width="61.25" height="7.49" fill="#d0e9f2"/>
<rect x="300.50" y="643.91" width="61.25" height="7.49" fill="#c7e2ef"/>
<rect x="361.75" y="643.91" width="61.25" height="7.49" fill="#d0e9f2"/>
<rect x="423.00" y="643.91" width="61.25" height="7.49" fill="#ec8f5d"/>
<rect x="484.25" y="643.91" width="61.25" height="7.49" fill="#f1f9d0"/>
<rect x="545.50" y="643.91" width="61.25" height="7.49" fill="#f3e6a4"/>
<rect x="55.50" y="651.40" width="61.25" height="7.49" fill="#bddceb"/>
<rect x="116.75" y="651.40" width="61.25" height="7.49" fill="#cbe5f0"/>
<rect x="178.00" y="651.40" width="61.25" height="7.49" fill="#e5f5ed"/>
<rect x="239.25" y="651.40" width="61.25" height="7.49" fill="#edf8da"/>
<rect x="300.50" y="651.40" width="61.25" height="7.49" fill="#b8d9ea"/>
<rect x="361.75" y="651.40" width="61.25" height="7.49" fill="#cbe5f0"/>
<rect x="423.00" y="651.40" width="61.25" height="7.49" fill="#ec8f5d"/>
<rect x="484.25" y="651.40" width="61.25" height="7.49" fill="#f7fbc4"/>
<rect x="545.50" y="651.40" width="61.25" height="7.49" fill="#efce87"/>
<rect x="55.50" y="658.89" width="61.25" height="7.49" fill="#c2dfed"/>
<rect x="116.75" y="658.89" width="61.25" height="7.49" fill="#e1f3f6"/>
<rect x="178.00" y="658.89" width="61.25" height="7.49" fill="#e5f5ed"/>
<rect x="239.25" y="658.89" width="61.25" height="7.49" fill="#d5ecf4"/>
<rect x="300.50" y="658.89" width="61.25" height="7.49" fill="#c2dfed"/>
<rect x="361.75" y="658.89" width="61.25" height="7.49" fill="#cbe5f0"/>
<rect x="423.00" y="658.89" width="61.25" height="7.49" fill="#eebc7b"/>
<rect x="484.25" y="658.89" width="61.25" height="7.49" fill="#f4faca"/>
<rect x="545.50" y="658.89" width="61.25" height="7.49" fill="#e98054"/>
<rect x="55.50" y="666.38" width="61.25" height="7.49" fill="#bddceb"/>
<rect x="116.75" y="666.38" width="61.25" height="7.49" fill="#cbe5f0"/>
<rect x="178.00" y="666.38" width="61.25" height="7.49" fill="#e4f4f0"/>
<rect x="239.25" y="666.38" width="61.25" height="7.49" fill="#e4f4f0"/>
<rect x="300.50" y="666.38" width="61.25" height="7.49" fill="#b4d6e8"/>
<rect x="361.75" y="666.38" width="61.25" height="7.49" fill="#edf8da"/>
<rect x="423.00" y="666.38" width="61.25" height="7.49" fill="#efce87"/>
<rect x="484.25" y="666.38" width="61.25" height="7.49" fill="#f3facd"/>
<rect x="545.50" y="666.38" width="61.25" height="7.49" fill="#e98054"/>
<rect x="55.50" y="673.87" width="61.25" height="7.49" fill="#e8f6e6"/>
<rect x="116.75" y="673.87" width="61.25" height="7.49" fill="#f0f9d4"/>
<rect x="178.00" y="673.87" width="61.25" height="7.49" fill="#eeaf72"/>
<rect x="239.25" y="673.87" width="61.25" height="7.49" fill="#eda66c"/>
<rect x="300.50" y="673.87" width="61.25" height="7.49" fill="#93c0dc"/>
<rect x="361.75" y="673.87" width="61.25" height="7.49" fill="#edf8da"/>
<rect x="423.00" y="673.87" width="61.25" height="7.49" fill="#d5ecf4"/>
<rect x="484.25" y="673.87" width="61.25" height="7.49" fill="#daeff6"/>
<rect x="545.50" y="673.87" width="61.25" height="7.49" fill="#e2f4f3"/>
<rect x="55.50" y="681.36" width="61.25" height="7.49" fill="#e1f3f6"/>
<rect x="116.75" y="681.36" width="61.25" height="7.49" fill="#e4f4f0"/>
<rect x="178.00" y="681.36" width="61.25" height="7.49" fill="#eeaa6f"/>
<rect x="239.25" y="681.36" width="61.25" height="7.49" fill="#ec9460"/>
<rect x="300.50" y="681.36" width="61.25" height="7.49" fill="#c7e2ef"/>
<rect x="361.75" y="681.36" width="61.25" height="7.49" fill="#d0e9f2"/>
<rect x="423.00" y="681.36" width="61.25" height="7.49" fill="#d0e9f2"/>
<rect x="484.25" y="681.36" width="61.25" height="7.49" fill="#e9f6e3"/>
<rect x="545.50" y="681.36" width="61.25" height="7.49" fill="#e4f4f0"/>
<rect x="55.50" y="688.85" width="61.25" height="7.49" fill="#e6f5e9"/>
<rect x="116.75" y="688.85" width="61.25" height="7.49" fill="#edf8da"/>
<rect x="178.00" y="688.85" width="61.25" height="7.49" fill="#f6f7be"/>
<rect x="239.25" y="688.85" width="61.25" height="7.49" fill="#e16042"/>
<rect x="300.50" y="688.85" width="61.25" height="7.49" fill="#b4d6e8"/>
<rect x="361.75" y="688.85" width="61.25" height="7.49" fill="#e2f4f3"/>
<rect x="423.00" y="688.85" width="61.25" height="7.49" fill="#e2f4f3"/>
<rect x="484.25" y="688.85" width="61.25" height="7.49" fill="#e8f6e6"/>
<rect x="545.50" y="688.85" width="61.25" height="7.49" fill="#daeff6"/>
<rect x="55.50" y="696.34" width="61.25" height="7.49" fill="#e2f4f3"/>
<rect x="116.75" y="696.34" width="61.25" height="7.49" fill="#e4f4f0"/>
<rect x="178.00" y="696.34" width="61.25" height="7.49" fill="#edf8da"/>
<rect x="239.25" y="696.34" width="61.25" height="7.49" fill="#da4130"/>
<rect x="300.50" y="696.34" width="61.25" height="7.49" fill="#e2f4f3"/>
<rect x="361.75" y="696.34" width="61.25" height="7.49" fill="#e6f5e9"/>
<rect x="423.00" y="696.34" width="61.25" height="7.49" fill="#e2f4f3"/>
<rect x="484.25" y="696.34" width="61.25" height="7.49" fill="#e8f6e6"/>
<rect x="545.50" y="696.34" width="61.25" height="7.49" fill="#e2f4f3"/>
<rect x="55.50" y="703.83" width="61.25" height="7.49" fill="#e2f4f3"/>
<rect x="116.75" y="703.83" width="61.25" height="7.49" fill="#e4f4f0"/>
<rect x="178.00" y="703.83" width="61.25" height="7.49" fill="#ebf7e0"/>
<rect x="239.25" y="703.83" width="61.25" height="7.49" fill="#da4130"/>
<rect x="300.50" y="703.83" width="61.25" height="7.49" fill="#e2f4f3"/>
<rect x="361.75" y="703.83" width="61.25" height="7.49" fill="#e6f5e9"/>
<rect x="423.00" y="703.83" width="61.25" height="7.49" fill="#e2f4f3"/>
<rect x="484.25" y="703.83" width="61.25" height="7.49" fill="#e9f6e3"/>
<rect x="545.50" y="703.83" width="61.25" height="7.49" fill="#e2f4f3"/>
<rect x="55.50" y="711.32" width="61.25" height="7.49" fill="#f1f9d0"/>
<rect x="116.75" y="711.32" width="61.25" height="7.49" fill="#f1de97"/>
<rect x="178.00" y="711.32" width="61.25" height="7.49" fill="#ecf7dd"/>
<rect x="239.25" y="711.32" width="61.25" height="7.49" fill="#f0d990"/>
<rect x="300.50" y="711.32" width="61.25" height="7.49" fill="#4e7eb9"/>
<rect x="361.75" y="711.32" width="61.25" height="7.49" fill="#d5ecf4"/>
<rect x="423.00" y="711.32" width="61.25" height="7.49" fill="#e1f3f6"/>
<rect x="484.25" y="711.32" width="61.25" height="7.49" fill="#f1f9d0"/>
<rect x="545.50" y="711.32" width="61.25" height="7.49" fill="#f3facd"/>
<rect x="55.50" y="718.81" width="61.25" height="7.49" fill="#f4ecad"/>
<rect x="116.75" y="718.81" width="61.25" height="7.49" fill="#f4eaaa"/>
<rect x="178.00" y="718.81" width="61.25" height="7.49" fill="#d5ecf4"/>
<rect x="239.25" y="718.81" width="61.25" height="7.49" fill="#ed9863"/>
<rect x="300.50" y="718.81" width="61.25" height="7.49" fill="#e4f4f0"/>
<rect x="361.75" y="718.81" width="61.25" height="7.49" fill="#97c3dd"/>
<rect x="423.00" y="718.81" width="61.25" height="7.49" fill="#edf8da"/>
<rect x="484.25" y="718.81" width="61.25" height="7.49" fill="#e8f6e6"/>
<rect x="545.50" y="718.81" width="61.25" height="7.49" fill="#c7e2ef"/>
<rect x="55.50" y="726.30" width="61.25" height="7.49" fill="#f3facd"/>
<rect x="116.75" y="726.30" width="61.25" height="7.49" fill="#f2e29d"/>
<rect x="178.00" y="726.30" width="61.25" height="7.49" fill="#e4f4f0"/>
<rect x="239.25" y="726.30" width="61.25" height="7.49" fill="#ec9460"/>
<rect x="300.50" y="726.30" width="61.25" height="7.49" fill="#c7e2ef"/>
<rect x="361.75" y="726.30" width="61.25" height="7.49" fill="#e2f4f3"/>
<rect x="423.00" y="726.30" width="61.25" height="7.49" fill="#e4f4f0"/>
<rect x="484.25" y="726.30" width="61.25" height="7.49" fill="#e4f4f0"/>
<rect x="545.50" y="726.30" width="61.25" height="7.49" fill="#9cc6df"/>
<rect x="55.50" y="733.79" width="61.25" height="7.49" fill="#f1f9d0"/>
<rect x="116.75" y="733.79" width="61.25" height="7.49" fill="#f2e29d"/>
<rect x="178.00" y="733.79" width="61.25" height="7.49" fill="#e9f6e3"/>
<rect x="239.25" y="733.79" width="61.25" height="7.49" fill="#ec8f5d"/>
<rect x="300.50" y="733.79" width="61.25" height="7.49" fill="#b4d6e8"/>
<rect x="361.75" y="733.79" width="61.25" height="7.49" fill="#e4f4f0"/>
<rect x="423.00" y="733.79" width="61.25" height="7.49" fill="#d5ecf4"/>
<rect x="484.25" y="733.79" width="61.25" height="7.49" fill="#e4f4f0"/>
<rect x="545.50" y="733.79" width="61.25" height="7.49" fill="#d5ecf4"/>
<rect x="55.50" y="741.28" width="61.25" height="7.49" fill="#e9f6e3"/>
<rect x="116.75" y="741.28" width="61.25" height="7.49" fill="#d83b2d"/>
<rect x="178.00" y="741.28" width="61.25" height="7.49" fill="#e2f4f3"/>
<rect x="239.25" y="741.28" width="61.25" height="7.49" fill="#e2f4f3"/>
<rect x="300.50" y="741.28" width="61.25" height="7.49" fill="#bddceb"/>
<rect x="361.75" y="741.28" width="61.25" height="7.49" fill="#e1f3f6"/>
<rect x="423.00" y="741.28" width="61.25" height="7.49" fill="#edf8da"/>
<rect x="484.25" y="741.28" width="61.25" height="7.49" fill="#e1f3f6"/>
<rect x="545.50" y="741.28" width="61.25" height="7.49" fill="#e6f5e9"/>
<rect x="55.50" y="748.77" width="61.25" height="7.49" fill="#f1f9d0"/>
<rect x="116.75" y="748.77" width="61.25" height="7.49" fill="#da4130"/>
<rect x="178.00" y="748.77" width="61.25" height="7.49" fill="#e9f6e3"/>
<rect x="239.25" y="748.77" width="61.25" height="7.49" fill="#e6f5e9"/>
<rect x="300.50" y="748.77" width="61.25" height="7.49" fill="#cbe5f0"/>
<rect x="361.75" y="748.77" width="61.25" height="7.49" fill="#e1f3f6"/>
<rect x="423.00" y="748.77" width="61.25" height="7.49" fill="#d5ecf4"/>
<rect x="484.25" y="748.77" width="61.25" height="7.49" fill="#e4f4f0"/>
<rect x="545.50" y="748.77" width="61.25" height="7.49" fill="#e2f4f3"/>
<rect x="55.50" y="756.26" width="61.25" height="7.49" fill="#f0d28a"/>
<rect x="116.75" y="756.26" width="61.25" height="7.49" fill="#ed9d66"/>
<rect x="178.00" y="756.26" width="61.25" height="7.49" fill="#ebf7e0"/>
<rect x="239.25" y="756.26" width="61.25" height="7.49" fill="#f4faca"/>
<rect x="300.50" y="756.26" width="61.25" height="7.49" fill="#7caad0"/>
<rect x="361.75" y="756.26" width="61.25" height="7.49" fill="#e9f6e3"/>
<rect x="423.00" y="756.26" width="61.25" height="7.49" fill="#cbe5f0"/>
<rect x="484.25" y="756.26" width="61.25" height="7.49" fill="#e2f4f3"/>
<rect x="545.50" y="756.26" width="61.25" height="7.49" fill="#e4f4f0"/>
<rect x="55.50" y="763.75" width="61.25" height="7.49" fill="#eeb778"/>
<rect x="116.75" y="763.75" width="61.25" height="7.49" fill="#ec9460"/>
<rect x="178.00" y="763.75" width="61.25" height="7.49" fill="#e1f3f6"/>
<rect x="239.25" y="763.75" width="61.25" height="7.49" fill="#e9f6e3"/>
<rect x="300.50" y="763.75" width="61.25" height="7.49" fill="#e6f5e9"/>
<rect x="361.75" y="763.75" width="61.25" height="7.49" fill="#e8f6e6"/>
<rect x="423.00" y="763.75" width="61.25" height="7.49" fill="#cbe5f0"/>
<rect x="484.25" y="763.75" width="61.25" height="7.49" fill="#d5ecf4"/>
<rect x="545.50" y="763.75" width="61.25" height="7.49" fill="#c7e2ef"/>
<rect x="55.50" y="771.24" width="61.25" height="7.49" fill="#f2e29d"/>
<rect x="116.75" y="771.24" width="61.25" height="7.49" fill="#e46b48"/>
<rect x="178.00" y="771.24" width="61.25" height="7.49" fill="#def2f7"/>
<rect x="239.25" y="771.24" width="61.25" height="7.49" fill="#e2f4f3"/>
<rect x="300.50" y="771.24" width="61.25" height="7.49" fill="#aad0e4"/>
<rect x="361.75" y="771.24" width="61.25" height="7.49" fill="#f0f9d4"/>
<rect x="423.00" y="771.24" width="61.25" height="7.49" fill="#e8f6e6"/>
<rect x="484.25" y="771.24" width="61.25" height="7.49" fill="#d5ecf4"/>
<rect x="545.50" y="771.24" width="61.25" height="7.49" fill="#e1f3f6"/>
<rect x="55.50" y="778.73" width="61.25" height="7.49" fill="#eda169"/>
<rect x="116.75" y="778.73" width="61.25" height="7.49" fill="#eeb375"/>
<rect x="178.00" y="778.73" width="61.25" height="7.49" fill="#e4f4f0"/>
<rect x="239.25" y="778.73" width="61.25" height="7.49" fill="#e2f4f3"/>
<rect x="300.50" y="778.73" width="61.25" height="7.49" fill="#93c0dc"/>
<rect x="361.75" y="778.73" width="61.25" height="7.49" fill="#f1f9d0"/>
<rect x="423.00" y="778.73" width="61.25" height="7.49" fill="#e1f3f6"/>
<rect x="484.25" y="778.73" width="61.25" height="7.49" fill="#e2f4f3"/>
<rect x="545.50" y="778.73" width="61.25" height="7.49" fill="#d0e9f2"/>
<rect x="55.50" y="786.22" width="61.25" height="7.49" fill="#eeb375"/>
<rect x="116.75" y="786.22" width="61.25" height="7.49" fill="#ed9d66"/>
<rect x="178.00" y="786.22" width="61.25" height="7.49" fill="#d5ecf4"/>
<rect x="239.25" y="786.22" width="61.25" height="7.49" fill="#e2f4f3"/>
<rect x="300.50" y="786.22" width="61.25" height="7.49" fill="#93c0dc"/>
<rect x="361.75" y="786.22" width="61.25" height="7.49" fill="#f0f9d4"/>
<rect x="423.00" y="786.22" width="61.25" height="7.49" fill="#f0f9d4"/>
<rect x="484.25" y="786.22" width="61.25" height="7.49" fill="#e1f3f6"/>
<rect x="545.50" y="786.22" width="61.25" height="7.49" fill="#cbe5f0"/>
<rect x="55.50" y="793.71" width="61.25" height="7.49" fill="#eeaa6f"/>
<rect x="116.75" y="793.71" width="61.25" height="7.49" fill="#f3facd"/>
<rect x="178.00" y="793.71" width="61.25" height="7.49" fill="#eff8d7"/>
<rect x="239.25" y="793.71" width="61.25" height="7.49" fill="#e2f4f3"/>
<rect x="300.50" y="793.71" width="61.25" height="7.49" fill="#85b3d5"/>
<rect x="361.75" y="793.71" width="61.25" height="7.49" fill="#89b8d7"/>
<rect x="423.00" y="793.71" width="61.25" height="7.49" fill="#e4f4f0"/>
<rect x="484.25" y="793.71" width="61.25" height="7.49" fill="#f4eaaa"/>
<rect x="545.50" y="793.71" width="61.25" height="7.49" fill="#f3facd"/>
<rect x="55.50" y="801.20" width="61.25" height="7.49" fill="#db4633"/>
<rect x="116.75" y="801.20" width="61.25" height="7.49" fill="#e4f4f0"/>
<rect x="178.00" y="801.20" width="61.25" height="7.49" fill="#e1f3f6"/>
<rect x="239.25" y="801.20" width="61.25" height="7.49" fill="#daeff6"/>
<rect x="300.50" y="801.20" width="61.25" height="7.49" fill="#d0e9f2"/>
<rect x="361.75" y="801.20" width="61.25" height="7.49" fill="#d5ecf4"/>
<rect x="423.00" y="801.20" width="61.25" height="7.49" fill="#f4ecad"/>
<rect x="484.25" y="801.20" width="61.25" height="7.49" fill="#e4f4f0"/>
<rect x="545.50" y="801.20" width="61.25" height="7.49" fill="#e5f5ed"/>
<rect x="55.50" y="808.69" width="61.25" height="7.49" fill="#db4633"/>
<rect x="116.75" y="808.69" width="61.25" height="7.49" fill="#f1f9d0"/>
<rect x="178.00" y="808.69" width="61.25" height="7.49" fill="#e8f6e6"/>
<rect x="239.25" y="808.69" width="61.25" height="7.49" fill="#e9f6e3"/>
<rect x="300.50" y="808.69" width="61.25" height="7.49" fill="#d5ecf4"/>
<rect x="361.75" y="808.69" width="61.25" height="7.49" fill="#d5ecf4"/>
<rect x="423.00" y="808.69" width="61.25" height="7.49" fill="#daeff6"/>
<rect x="484.25" y="808.69" width="61.25" height="7.49" fill="#e4f4f0"/>
<rect x="545.50" y="808.69" width="61.25" height="7.49" fill="#d5ecf4"/>
<rect x="55.50" y="816.18" width="61.25" height="7.49" fill="#da4130"/>
<rect x="116.75" y="816.18" width="61.25" height="7.49" fill="#e8f6e6"/>
<rect x="178.00" y="816.18" width="61.25" height="7.49" fill="#e8f6e6"/>
<rect x="239.25" y="816.18" width="61.25" height="7.49" fill="#e2f4f3"/>
<rect x="300.50" y="816.18" width="61.25" height="7.49" fill="#def2f7"/>
<rect x="361.75" y="816.18" width="61.25" height="7.49" fill="#def2f7"/>
<rect x="423.00" y="816.18" width="61.25" height="7.49" fill="#e2f4f3"/>
<rect x="484.25" y="816.18" width="61.25" height="7.49" fill="#e6f5e9"/>
<rect x="545.50" y="816.18" width="61.25" height="7.49" fill="#e8f6e6"/>
<rect x="55.50" y="823.67" width="61.25" height="7.49" fill="#d83b2d"/>
<rect x="116.75" y="823.67" width="61.25" height="7.49" fill="#e9f6e3"/>
<rect x="178.00" y="823.67" width="61.25" height="7.49" fill="#e6f5e9"/>
<rect x="239.25" y="823.67" width="61.25" height="7.49" fill="#e4f4f0"/>
<rect x="300.50" y="823.67" width="61.25" height="7.49" fill="#e1f3f6"/>
<rect x="361.75" y="823.67" width="61.25" height="7.49" fill="#def2f7"/>
<rect x="423.00" y="823.67" width="61.25" height="7.49" fill="#e2f4f3"/>
<rect x="484.25" y="823.67" width="61.25" height="7.49" fill="#e6f5e9"/>
<rect x="545.50" y="823.67" width="61.25" height="7.49" fill="#e8f6e6"/>
<rect x="55.50" y="831.16" width="61.25" height="7.49" fill="#c2dfed"/>
<rect x="116.75" y="831.16" width="61.25" height="7.49" fill="#c7e2ef"/>
<rect x="178.00" y="831.16" width="61.25" height="7.49" fill="#e6754e"/>
<rect x="239.25" y="831.16" width="61.25" height="7.49" fill="#f6f5ba"/>
<rect x="300.50" y="831.16" width="61.25" height="7.49" fill="#b8d9ea"/>
<rect x="361.75" y="831.16" width="61.25" height="7.49" fill="#edf8da"/>
<rect x="423.00" y="831.16" width="61.25" height="7.49" fill="#e1f3f6"/>
<rect x="484.25" y="831.16" width="61.25" height="7.49" fill="#e6f5e9"/>
<rect x="545.50" y="831.16" width="61.25" height="7.49" fill="#f4faca"/>
<rect x="55.50" y="838.65" width="61.25" height="7.49" fill="#d5ecf4"/>
<rect x="116.75" y="838.65" width="61.25" height="7.49" fill="#e2f4f3"/>
<rect x="178.00" y="838.65" width="61.25" height="7.49" fill="#da4130"/>
<rect x="239.25" y="838.65" width="61.25" height="7.49" fill="#e9f6e3"/>
<rect x="300.50" y="838.65" width="61.25" height="7.49" fill="#cbe5f0"/>
<rect x="361.75" y="838.65" width="61.25" height="7.49" fill="#ebf7e0"/>
<rect x="423.00" y="838.65" width="61.25" height="7.49" fill="#daeff6"/>
<rect x="484.25" y="838.65" width="61.25" height="7.49" fill="#e8f6e6"/>
<rect x="545.50" y="838.65" width="61.25" height="7.49" fill="#f3facd"/>
<rect x="55.50" y="846.14" width="61.25" height="7.49" fill="#d5ecf4"/>
<rect x="116.75" y="846.14" width="61.25" height="7.49" fill="#e2f4f3"/>
<rect x="178.00" y="846.14" width="61.25" height="7.49" fill="#da4130"/>
<rect x="239.25" y="846.14" width="61.25" height="7.49" fill="#edf8da"/>
<rect x="300.50" y="846.14" width="61.25" height="7.49" fill="#c7e2ef"/>
<rect x="361.75" y="846.14" width="61.25" height="7.49" fill="#d0e9f2"/>
<rect x="423.00" y="846.14" width="61.25" height="7.49" fill="#e9f6e3"/>
<rect x="484.25" y="846.14" width="61.25" height="7.49" fill="#e4f4f0"/>
<rect x="545.50" y="846.14" width="61.25" height="7.49" fill="#f4faca"/>
<rect x="55.50" y="853.63" width="61.25" height="7.49" fill="#bddceb"/>
<rect x="116.75" y="853.63" width="61.25" height="7.49" fill="#e2f4f3"/>
<rect x="178.00" y="853.63" width="61.25" height="7.49" fill="#f2e29d"/>
<rect x="239.25" y="853.63" width="61.25" height="7.49" fill="#f4eeb1"/>
<rect x="300.50" y="853.63" width="61.25" height="7.49" fill="#6999c7"/>
<rect x="361.75" y="853.63" width="61.25" height="7.49" fill="#f1f9d0"/>
<rect x="423.00" y="853.63" width="61.25" height="7.49" fill="#e1f3f6"/>
<rect x="484.25" y="853.63" width="61.25" height="7.49" fill="#e8f6e6"/>
<rect x="545.50" y="853.63" width="61.25" height="7.49" fill="#f3e8a7"/>
<rect x="55.50" y="861.12" width="61.25" height="7.49" fill="#bddceb"/>
<rect x="116.75" y="861.12" width="61.25" height="7.49" fill="#f0f9d4"/>
<rect x="178.00" y="861.12" width="61.25" height="7.49" fill="#f2e29d"/>
<rect x="239.25" y="861.12" width="61.25" height="7.49" fill="#f6f7be"/>
<rect x="300.50" y="861.12" width="61.25" height="7.49" fill="#6999c7"/>
<rect x="361.75" y="861.12" width="61.25" height="7.49" fill="#aad0e4"/>
<rect x="423.00" y="861.12" width="61.25" height="7.49" fill="#f4eaaa"/>
<rect x="484.25" y="861.12" width="61.25" height="7.49" fill="#f0f9d4"/>
<rect x="545.50" y="861.12" width="61.25" height="7.49" fill="#f3e8a7"/>
<rect x="55.50" y="868.61" width="61.25" height="7.49" fill="#e4f4f0"/>
<rect x="116.75" y="868.61" width="61.25" height="7.49" fill="#e4f4f0"/>
<rect x="178.00" y="868.61" width="61.25" height="7.49" fill="#e4f4f0"/>
<rect x="239.25" y="868.61" width="61.25" height="7.49" fill="#e4f4f0"/>
<rect x="300.50" y="868.61" width="61.25" height="7.49" fill="#e2f4f3"/>
<rect x="361.75" y="868.61" width="61.25" height="7.49" fill="#eff8d7"/>
<rect x="423.00" y="868.61" width="61.25" height="7.49" fill="#e2f4f3"/>
<rect x="484.25" y="868.61" width="61.25" height="7.49" fill="#d83b2d"/>
<rect x="545.50" y="868.61" width="61.25" height="7.49" fill="#e5f5ed"/>
<rect x="55.50" y="876.10" width="61.25" height="7.49" fill="#e4f4f0"/>
<rect x="116.75" y="876.10" width="61.25" height="7.49" fill="#e4f4f0"/>
<rect x="178.00" y="876.10" width="61.25" height="7.49" fill="#e8f6e6"/>
<rect x="239.25" y="876.10" width="61.25" height="7.49" fill="#e6f5e9"/>
<rect x="300.50" y="876.10" width="61.25" height="7.49" fill="#e4f4f0"/>
<rect x="361.75" y="876.10" width="61.25" height="7.49" fill="#d83b2d"/>
<rect x="423.00" y="876.10" width="61.25" height="7.49" fill="#e2f4f3"/>
<rect x="484.25" y="876.10" width="61.25" height="7.49" fill="#e6f5e9"/>
<rect x="545.50" y="876.10" width="61.25" height="7.49" fill="#e5f5ed"/>
<rect x="55.50" y="883.59" width="61.25" height="7.49" fill="#f1f9d0"/>
<rect x="116.75" y="883.59" width="61.25" height="7.49" fill="#f0f9d4"/>
<rect x="178.00" y="883.59" width="61.25" height="7.49" fill="#e9f6e3"/>
<rect x="239.25" y="883.59" width="61.25" height="7.49" fill="#e2f4f3"/>
<rect x="300.50" y="883.59" width="61.25" height="7.49" fill="#73a1cb"/>
<rect x="361.75" y="883.59" width="61.25" height="7.49" fill="#e26645"/>
<rect x="423.00" y="883.59" width="61.25" height="7.49" fill="#e8f6e6"/>
<rect x="484.25" y="883.59" width="61.25" height="7.49" fill="#e9f6e3"/>
<rect x="545.50" y="883.59" width="61.25" height="7.49" fill="#ebf7e0"/>
<rect x="55.50" y="891.08" width="61.25" height="7.49" fill="#c7e2ef"/>
<rect x="116.75" y="891.08" width="61.25" height="7.49" fill="#d0e9f2"/>
<rect x="178.00" y="891.08" width="61.25" height="7.49" fill="#e4f4f0"/>
<rect x="239.25" y="891.08" width="61.25" height="7.49" fill="#e2f4f3"/>
<rect x="300.50" y="891.08" width="61.25" height="7.49" fill="#c2dfed"/>
<rect x="361.75" y="891.08" width="61.25" height="7.49" fill="#eeb778"/>
<rect x="423.00" y="891.08" width="61.25" height="7.49" fill="#ed9d66"/>
<rect x="484.25" y="891.08" width="61.25" height="7.49" fill="#f1f9d0"/>
<rect x="545.50" y="891.08" width="61.25" height="7.49" fill="#d5ecf4"/>
<rect x="55.50" y="898.57" width="61.25" height="7.49" fill="#e9f6e3"/>
<rect x="116.75" y="898.57" width="61.25" height="7.49" fill="#e8f6e6"/>
<rect x="178.00" y="898.57" width="61.25" height="7.49" fill="#c7e2ef"/>
<rect x="239.25" y="898.57" width="61.25" height="7.49" fill="#c7e2ef"/>
<rect x="300.50" y="898.57" width="61.25" height="7.49" fill="#93c0dc"/>
<rect x="361.75" y="898.57" width="61.25" height="7.49" fill="#eeaa6f"/>
<rect x="423.00" y="898.57" width="61.25" height="7.49" fill="#f3facd"/>
<rect x="484.25" y="898.57" width="61.25" height="7.49" fill="#f1f9d0"/>
<rect x="545.50" y="898.57" width="61.25" height="7.49" fill="#f3e8a7"/>
</g>
<g font-family="Liberation Sans, sans-serif" font-size="8.5" fill="#222">
<text x="609" y="583.25" >VIM</text>
<text x="609" y="590.74" >TNC</text>
<text x="609" y="598.23" >NEUROD1</text>
<text x="609" y="605.72" >PALLD</text>
<text x="609" y="613.21" >TTR</text>
<text x="609" y="620.70" >VCAN</text>
<text x="609" y="628.18" >SLC17A8</text>
<text x="609" y="635.67" >AGT</text>
<text x="609" y="643.16" >AQP4</text>
<text x="609" y="650.65" >CA2</text>
<text x="609" y="658.14" >GJA1</text>
<text x="609" y="665.63" >ALDH1L1</text>
<text x="609" y="673.12" >TAGLN2</text>
<text x="609" y="680.62" >PAX6</text>
<text x="609" y="688.11" >GSX2</text>
<text x="609" y="695.60" >DLX2</text>
<text x="609" y="703.09" >MKI67</text>
<text x="609" y="710.58" >TOP2A</text>
<text x="609" y="718.07" >RNF5</text>
<text x="609" y="725.56" >DLX5</text>
<text x="609" y="733.05" >STMN1</text>
<text x="609" y="740.53" >GAD2</text>
<text x="609" y="748.02" >SLC17A6</text>
<text x="609" y="755.51" >SST</text>
<text x="609" y="763.00" >TUBB3</text>
<text x="609" y="770.50" >DCX</text>
<text x="609" y="777.99" >SNAP25</text>
<text x="609" y="785.48" >GAD1</text>
<text x="609" y="792.97" >SLC32A1</text>
<text x="609" y="800.46" >SATB2</text>
<text x="609" y="807.94" >SLC17A7</text>
<text x="609" y="815.43" >DLX6−AS1</text>
<text x="609" y="822.92" >NEUROD2</text>
<text x="609" y="830.41" >NEUROD6</text>
<text x="609" y="837.90" >HES5</text>
<text x="609" y="845.39" >HOPX</text>
<text x="609" y="852.88" >FAM107A</text>
<text x="609" y="860.38" >SOX2</text>
<text x="609" y="867.87" >CNP</text>
<text x="609" y="875.36" >KRT8</text>
<text x="609" y="882.85" >OLIG1</text>
<text x="609" y="890.34" >EPN2</text>
<text x="609" y="897.83" >PDGFRA</text>
<text x="609" y="905.32" >PLP1</text>
</g>
<defs><linearGradient id="cb" x1="0" y1="1" x2="0" y2="0">
<stop offset="0.000" stop-color="#4575B4"/>
<stop offset="0.167" stop-color="#91BFDB"/>
<stop offset="0.333" stop-color="#E0F3F8"/>
<stop offset="0.500" stop-color="#FFFFBF"/>
<stop offset="0.667" stop-color="#FEE090"/>
<stop offset="0.833" stop-color="#FC8D59"/>
<stop offset="1.000" stop-color="#D73027"/>
</linearGradient></defs>
<rect x="654" y="576.7" width="7.5" height="117.8" fill="url(#cb)"/>
<g font-family="Liberation Sans, sans-serif" font-size="9.2" fill="#222">
<text x="664.5" y="597.1">2</text>
<text x="664.5" y="622.1">1</text>
<text x="664.5" y="647.4">0</text>
<text x="664.5" y="672.6">−1</text>
<text x="664.5" y="697.7">−2</text>
</g>
<g font-family="Liberation Sans, sans-serif" font-size="11" fill="#222">
<text transform="translate(86.1 909.6) rotate(90)" x="0" y="-3.9">Glutamatergic</text>
<text transform="translate(86.1 909.6) rotate(90)" x="0" y="9.8">Neurons</text>
<text transform="translate(147.4 909.6) rotate(90)" x="0" y="-3.9">GABAergic</text>
<text transform="translate(147.4 909.6) rotate(90)" x="0" y="9.8">Neurons</text>
<text transform="translate(208.6 909.6) rotate(90)" x="0" y="-3.9">Radial</text>
<text transform="translate(208.6 909.6) rotate(90)" x="0" y="9.8">Glia</text>
<text transform="translate(269.9 909.6) rotate(90)" x="0" y="-3.9">Intermediate</text>
<text transform="translate(269.9 909.6) rotate(90)" x="0" y="9.8">Progenitors</text>
<text transform="translate(331.1 909.6) rotate(90)" x="0" y="3.3">Unknown</text>
<text transform="translate(392.4 909.6) rotate(90)" x="0" y="3.3">OPC</text>
<text transform="translate(453.6 909.6) rotate(90)" x="0" y="-3.9">Choroid</text>
<text transform="translate(453.6 909.6) rotate(90)" x="0" y="9.8">Plexus</text>
<text transform="translate(514.9 909.6) rotate(90)" x="0" y="-3.9">Ventral</text>
<text transform="translate(514.9 909.6) rotate(90)" x="0" y="9.8">Progenitors</text>
<text transform="translate(576.1 909.6) rotate(90)" x="0" y="3.3">Astroglia</text>
</g>
</svg>
</body></html>
